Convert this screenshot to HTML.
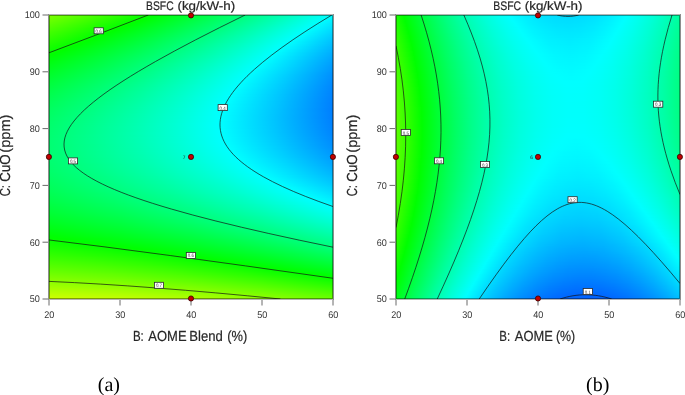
<!DOCTYPE html>
<html><head><meta charset="utf-8"><title>BSFC contour plots</title><style>
html,body{margin:0;padding:0;background:#fff}
body{width:685px;height:395px;position:relative;overflow:hidden}
.fd{position:absolute}
i{display:block;height:1px}
svg{position:absolute;left:0;top:0;filter:blur(0.35px)}
text{font-family:"Liberation Sans",Arial,sans-serif;text-rendering:geometricPrecision}
.ct path{fill:none;stroke:#141414;stroke-width:1.0px;stroke-opacity:0.7}
.fri{fill:none;stroke:rgba(0,0,0,0.38);stroke-width:1px}
.froh{fill:none;stroke:#b4b4b4;stroke-width:1px}
.frov{fill:none;stroke:#8e8e8e;stroke-width:1px}
.tkl{stroke:#6a6a6a;stroke-width:1px}
.tk{font-size:9.7px;fill:#333}
.lbb{fill:#fff;stroke:#2a2a2a;stroke-width:0.8px}
.lb{font-size:4.9px;fill:#3a3a3a}
.dt{fill:#c20000;stroke:#3a0000;stroke-width:0.8px}
.ax{fill:#262626;stroke:#262626;stroke-width:0.2px}
.cap{font-family:"Liberation Serif","Times New Roman",serif;fill:#000}
</style></head><body>
<div class="fd" style="left:49px;top:15px;width:284px;height:284px">
<i style="background:linear-gradient(90deg,#7bff00 0.2%,#40ff00 18.1%,#00ff00 36.4%,#00ff31 49.8%,#00ff6d 65.0%,#00ffb3 81.9%,#00fffe 99.1%,#00fcff 99.8%)"></i>
<i style="background:linear-gradient(90deg,#77ff00 0.2%,#3fff00 17.4%,#00ff00 35.7%,#00ff3a 51.2%,#00ff78 67.1%,#00ffba 82.9%,#00fffe 98.4%,#00faff 99.8%)"></i>
<i style="background:linear-gradient(90deg,#74ff00 0.2%,#3cff00 17.4%,#00ff00 34.7%,#00ff38 49.8%,#00ff77 66.0%,#00ffb8 81.9%,#00ffff 98.1%,#00f7ff 99.8%)"></i>
<i style="background:linear-gradient(90deg,#70ff00 0.2%,#3dff00 16.0%,#00ff00 34.0%,#00ff3b 49.8%,#00ff78 65.7%,#00ffba 81.5%,#00fffe 97.4%,#00f5ff 99.8%)"></i>
<i style="background:linear-gradient(90deg,#6dff00 0.2%,#38ff00 16.7%,#00ff00 32.9%,#00ff3a 48.8%,#00ff77 64.6%,#00ffb8 80.5%,#00fffe 96.7%,#00f2ff 99.8%)"></i>
<i style="background:linear-gradient(90deg,#69ff00 0.2%,#3aff00 15.0%,#00ff01 32.2%,#00ff3b 48.4%,#00ff79 64.3%,#00ffbb 80.5%,#00ffff 96.3%,#00f0ff 99.8%)"></i>
<i style="background:linear-gradient(90deg,#66ff00 0.2%,#36ff00 15.3%,#00ff00 31.2%,#00ff3b 47.4%,#00ff79 63.6%,#00ffba 79.8%,#00fffe 95.6%,#00edff 99.8%)"></i>
<i style="background:linear-gradient(90deg,#62ff00 0.2%,#38ff00 13.6%,#00ff01 30.5%,#00ff3b 46.7%,#00ff79 62.9%,#00ffb9 78.7%,#00ffff 95.2%,#00ebff 99.8%)"></i>
<i style="background:linear-gradient(90deg,#5fff00 0.2%,#32ff00 14.3%,#00ff00 29.4%,#00ff3a 45.6%,#00ff77 61.8%,#00ffb8 78.0%,#00fffe 94.5%,#00e8ff 99.8%)"></i>
<i style="background:linear-gradient(90deg,#5bff00 0.2%,#2fff00 14.3%,#00ff00 28.3%,#00ff36 43.8%,#00ff76 60.7%,#00ffb8 77.3%,#00fffe 93.8%,#00e6ff 99.8%)"></i>
<i style="background:linear-gradient(90deg,#58ff00 0.2%,#00ff00 27.6%,#00ff39 43.8%,#00ff77 60.4%,#00ffb9 76.9%,#00ffff 93.5%,#00e4ff 99.8%)"></i>
<i style="background:linear-gradient(90deg,#55ff00 0.2%,#2cff00 13.2%,#00ff00 26.6%,#00ff38 42.8%,#00ff77 59.7%,#00ffb9 76.2%,#00fffe 92.8%,#00e1ff 99.8%)"></i>
<i style="background:linear-gradient(90deg,#51ff00 0.2%,#00ff01 25.9%,#00ff3a 42.4%,#00ff77 59.0%,#00ffb9 75.5%,#00ffff 92.4%,#00dfff 99.8%)"></i>
<i style="background:linear-gradient(90deg,#4eff00 0.2%,#00ff00 24.8%,#00ff3a 41.7%,#00ff77 58.3%,#00ffba 75.2%,#00fffe 91.7%,#00ddff 99.8%)"></i>
<i style="background:linear-gradient(90deg,#4bff00 0.2%,#00ff01 24.1%,#00ff39 40.7%,#00ff77 57.6%,#00ffb8 74.1%,#00fffe 91.0%,#00ffff 91.4%,#00daff 99.8%)"></i>
<i style="background:linear-gradient(90deg,#48ff00 0.2%,#00ff00 23.1%,#00ff3a 40.0%,#00ff77 56.9%,#00ffb9 73.8%,#00ffff 90.7%,#00d8ff 99.8%)"></i>
<i style="background:linear-gradient(90deg,#44ff00 0.2%,#00ff01 22.4%,#00ff3a 39.3%,#00ff77 56.2%,#00ffb9 73.1%,#00fffe 90.0%,#00d6ff 99.8%)"></i>
<i style="background:linear-gradient(90deg,#41ff00 0.2%,#00ff00 21.3%,#00ff39 38.2%,#00ff77 55.5%,#00ffba 72.7%,#00ffff 89.6%,#00d4ff 99.8%)"></i>
<i style="background:linear-gradient(90deg,#3eff00 0.2%,#00ff00 20.2%,#00ff38 37.1%,#00ff76 54.4%,#00ffb8 71.7%,#00fffe 88.9%,#00d2ff 99.8%)"></i>
<i style="background:linear-gradient(90deg,#3bff00 0.2%,#00ff01 19.5%,#00ff3a 36.8%,#00ff77 54.0%,#00ffb9 71.3%,#00ffff 88.6%,#00cfff 99.8%)"></i>
<i style="background:linear-gradient(90deg,#38ff00 0.2%,#00ff00 18.5%,#00ff39 35.7%,#00ff76 53.0%,#00ffb9 70.6%,#00fffe 87.9%,#00cdff 99.8%)"></i>
<i style="background:linear-gradient(90deg,#35ff00 0.2%,#00ff01 17.8%,#00ff3a 35.4%,#00ff77 52.6%,#00ffba 70.2%,#00ffff 87.5%,#00cbff 99.8%)"></i>
<i style="background:linear-gradient(90deg,#32ff00 0.2%,#00ff00 16.7%,#00ff3a 34.3%,#00ff77 51.9%,#00ffb8 69.2%,#00fffe 86.8%,#00c9ff 99.8%)"></i>
<i style="background:linear-gradient(90deg,#2fff00 0.2%,#00ff01 16.0%,#00ff3a 33.6%,#00ff77 51.2%,#00ffb9 68.8%,#00ffff 86.4%,#00c7ff 99.8%)"></i>
<i style="background:linear-gradient(90deg,#2cff00 0.2%,#00ff00 15.0%,#00ff39 32.6%,#00ff76 50.2%,#00ffb8 68.1%,#00fffe 85.7%,#00c5ff 99.8%)"></i>
<i style="background:linear-gradient(90deg,#29ff00 0.2%,#00ff00 13.9%,#00ff38 31.5%,#00ff76 49.5%,#00ffb8 67.4%,#00ffff 85.4%,#00c3ff 99.8%)"></i>
<i style="background:linear-gradient(90deg,#26ff00 0.2%,#00ff01 13.2%,#00ff3a 31.2%,#00ff77 49.1%,#00ffb9 67.1%,#00fffe 84.7%,#00c1ff 99.8%)"></i>
<i style="background:linear-gradient(90deg,#23ff00 0.2%,#00ff01 12.5%,#00ff3a 30.5%,#00ff77 48.4%,#00ffb8 66.4%,#00fffe 84.3%,#00bfff 99.8%)"></i>
<i style="background:linear-gradient(90deg,#20ff00 0.2%,#00ff00 11.1%,#00ff0a 14.6%,#00ff41 31.9%,#00ff7c 49.1%,#00ffbb 66.4%,#00ffff 84.0%,#00beff 99.8%)"></i>
<i style="background:linear-gradient(90deg,#1dff00 0.2%,#00ff00 10.4%,#00ff12 16.4%,#00ff48 33.3%,#00ff81 49.8%,#00ffbd 66.4%,#00fffe 83.3%,#00bcff 99.8%)"></i>
<i style="background:linear-gradient(90deg,#1aff00 0.2%,#00ff00 9.3%,#00ff1c 18.5%,#00ff4f 34.7%,#00ff87 50.9%,#00ffc2 67.1%,#00ffff 82.9%,#00baff 99.8%)"></i>
<i style="background:linear-gradient(90deg,#18ff00 0.2%,#00ff01 8.6%,#00ff25 20.6%,#00ff55 35.7%,#00ff8a 51.2%,#00ffc2 66.7%,#00fffe 82.2%,#00b8ff 99.8%)"></i>
<i style="background:linear-gradient(90deg,#15ff00 0.2%,#00ff00 7.6%,#00ff2e 22.7%,#00ff5d 37.5%,#00ff90 52.3%,#00ffc6 67.1%,#00ffff 81.9%,#00b6ff 99.8%)"></i>
<i style="background:linear-gradient(90deg,#12ff00 0.2%,#00ff00 6.5%,#00ff37 24.8%,#00ff64 38.9%,#00ff95 53.0%,#00ffc8 67.1%,#00ffff 81.5%,#00b5ff 99.8%)"></i>
<i style="background:linear-gradient(90deg,#10ff00 0.2%,#00ff00 5.8%,#00ff3f 26.6%,#00ff6a 40.0%,#00ff99 53.7%,#00ffcb 67.4%,#00fffe 80.8%,#00b3ff 99.8%)"></i>
<i style="background:linear-gradient(90deg,#0dff00 0.2%,#00ff00 4.8%,#00ff48 28.7%,#00ff9e 54.4%,#00ffff 80.5%,#00b1ff 99.8%)"></i>
<i style="background:linear-gradient(90deg,#0aff00 0.2%,#00ff01 4.0%,#00ff28 17.4%,#00ff51 30.8%,#00ffa3 55.1%,#00ffff 80.1%,#00b0ff 99.8%)"></i>
<i style="background:linear-gradient(90deg,#08ff00 0.2%,#00ff00 3.0%,#00ff2b 17.8%,#00ff5a 32.9%,#00ffa8 56.2%,#00fffe 79.4%,#00aeff 99.8%)"></i>
<i style="background:linear-gradient(90deg,#05ff00 0.2%,#00ff00 1.9%,#00ff0f 7.2%,#00ff37 21.0%,#00ff63 35.0%,#00ffae 57.2%,#00ffff 79.0%,#00acff 99.8%)"></i>
<i style="background:linear-gradient(90deg,#02ff00 0.2%,#00ff00 1.2%,#00ff24 13.9%,#00ff6c 37.1%,#00ffb1 57.6%,#00ffff 78.7%,#00abff 99.8%)"></i>
<i style="background:linear-gradient(90deg,#00ff00 0.2%,#00ff37 19.5%,#00ff74 38.9%,#00ffb6 58.3%,#00fffe 78.0%,#00dfff 86.4%,#00a9ff 99.8%)"></i>
<i style="background:linear-gradient(90deg,#00ff03 0.2%,#00ff3a 19.5%,#00ff76 38.9%,#00ffb8 58.3%,#00ffff 77.6%,#00a8ff 99.8%)"></i>
<i style="background:linear-gradient(90deg,#00ff05 0.2%,#00ff3c 19.5%,#00ff78 38.9%,#00ffb8 57.9%,#00ffff 77.3%,#00a6ff 99.8%)"></i>
<i style="background:linear-gradient(90deg,#00ff08 0.2%,#00ff3d 19.2%,#00ff78 38.2%,#00ffb8 57.2%,#00fffe 76.6%,#00e0ff 85.0%,#00a5ff 99.8%)"></i>
<i style="background:linear-gradient(90deg,#00ff0a 0.2%,#00ff3f 19.2%,#00ff7a 38.2%,#00ffba 57.2%,#00fffe 76.2%,#00daff 86.1%,#00a3ff 99.8%)"></i>
<i style="background:linear-gradient(90deg,#00ff0c 0.2%,#00ff41 18.8%,#00ff7b 37.9%,#00ffba 56.9%,#00ffff 75.9%,#00a2ff 99.8%)"></i>
<i style="background:linear-gradient(90deg,#00ff0f 0.2%,#00ff43 18.8%,#00ff7d 37.9%,#00ffbc 56.9%,#00ffff 75.5%,#00a1ff 99.8%)"></i>
<i style="background:linear-gradient(90deg,#00ff11 0.2%,#00ff45 18.8%,#00ff7e 37.5%,#00ffba 55.8%,#00ffff 75.2%,#009fff 99.8%)"></i>
<i style="background:linear-gradient(90deg,#00ff13 0.2%,#00ff46 18.5%,#00ff7f 37.1%,#00ffbc 55.8%,#00fffe 74.5%,#00d8ff 85.0%,#009eff 99.8%)"></i>
<i style="background:linear-gradient(90deg,#00ff16 0.2%,#00ff49 18.8%,#00ff81 37.1%,#00ffbe 55.8%,#00fffe 74.1%,#00d5ff 85.4%,#009dff 99.8%)"></i>
<i style="background:linear-gradient(90deg,#00ff18 0.2%,#00ff4a 18.5%,#00ff82 37.1%,#00ffbe 55.5%,#00ffff 73.8%,#00d1ff 86.1%,#009bff 99.8%)"></i>
<i style="background:linear-gradient(90deg,#00ff1a 0.2%,#00ff4c 18.5%,#00ff83 36.8%,#00ffbf 55.1%,#00ffff 73.4%,#00cfff 86.4%,#009aff 99.8%)"></i>
<i style="background:linear-gradient(90deg,#00ff1c 0.2%,#00ff4e 18.5%,#00ff84 36.4%,#00ffbe 54.4%,#00ffff 73.1%,#00cdff 86.4%,#0099ff 99.8%)"></i>
<i style="background:linear-gradient(90deg,#00ff1e 0.2%,#00ff4f 18.1%,#00ff85 36.1%,#00ffbd 53.7%,#00ffff 72.7%,#00cdff 86.1%,#0098ff 99.8%)"></i>
<i style="background:linear-gradient(90deg,#00ff21 0.2%,#00ff51 18.1%,#00ff86 36.1%,#00ffc0 54.0%,#00fffe 72.0%,#00d4ff 84.0%,#0097ff 99.8%)"></i>
<i style="background:linear-gradient(90deg,#00ff23 0.2%,#00ff53 18.1%,#00ff88 36.1%,#00ffc0 53.7%,#00fffe 71.7%,#00d3ff 84.0%,#0096ff 99.8%)"></i>
<i style="background:linear-gradient(90deg,#00ff25 0.2%,#00ff54 17.8%,#00ff89 35.7%,#00ffc1 53.3%,#00fffe 71.3%,#00d0ff 84.3%,#0095ff 99.8%)"></i>
<i style="background:linear-gradient(90deg,#00ff27 0.2%,#00ff56 17.8%,#00ff8b 35.7%,#00ffc2 53.3%,#00ffff 71.0%,#00cfff 84.3%,#0093ff 99.8%)"></i>
<i style="background:linear-gradient(90deg,#00ff29 0.2%,#00ff58 17.8%,#00ff8b 35.4%,#00ffc3 53.0%,#00ffff 70.6%,#00ceff 84.3%,#0092ff 99.8%)"></i>
<i style="background:linear-gradient(90deg,#00ff2b 0.2%,#00ff5a 17.8%,#00ff8c 35.0%,#00ffc3 52.6%,#00ffff 70.2%,#00ccff 84.3%,#0091ff 99.8%)"></i>
<i style="background:linear-gradient(90deg,#00ff2d 0.2%,#00ff5b 17.4%,#00ff8d 35.0%,#00ffc3 52.3%,#00ffff 69.9%,#00cbff 84.3%,#0090ff 99.8%)"></i>
<i style="background:linear-gradient(90deg,#00ff2f 0.2%,#00ff5d 17.8%,#00ff8f 35.0%,#00ffc5 52.3%,#00ffff 69.5%,#00caff 84.3%,#008fff 99.8%)"></i>
<i style="background:linear-gradient(90deg,#00ff31 0.2%,#00ff5e 17.4%,#00ff8f 34.7%,#00ffc5 51.9%,#00ffff 69.2%,#00caff 84.0%,#008fff 99.8%)"></i>
<i style="background:linear-gradient(90deg,#00ff33 0.2%,#00ff5f 17.1%,#00ff90 34.3%,#00ffc5 51.6%,#00ffff 68.8%,#00c9ff 84.0%,#008eff 99.8%)"></i>
<i style="background:linear-gradient(90deg,#00ff35 0.2%,#00ff61 17.1%,#00ff92 34.3%,#00ffc6 51.2%,#00ffff 68.5%,#00caff 83.6%,#008dff 99.8%)"></i>
<i style="background:linear-gradient(90deg,#00ff36 0.2%,#00ff62 17.1%,#00ff92 34.0%,#00ffc6 50.9%,#00ffff 68.1%,#00caff 83.3%,#008cff 99.8%)"></i>
<i style="background:linear-gradient(90deg,#00ff38 0.2%,#00ff64 17.1%,#00ff93 34.0%,#00ffc7 50.9%,#00ffff 67.8%,#00caff 82.9%,#008bff 99.8%)"></i>
<i style="background:linear-gradient(90deg,#00ff3a 0.2%,#00ff64 16.7%,#00ff94 33.6%,#00ffc7 50.5%,#00ffff 67.4%,#00cbff 82.6%,#008aff 99.8%)"></i>
<i style="background:linear-gradient(90deg,#00ff3c 0.2%,#00ff66 16.7%,#00ff95 33.6%,#00ffc7 50.2%,#00fffe 67.1%,#00cbff 82.2%,#008aff 99.8%)"></i>
<i style="background:linear-gradient(90deg,#00ff3d 0.2%,#00ff68 16.7%,#00ff96 33.3%,#00ffc9 50.2%,#00fffe 66.7%,#00cbff 81.9%,#0089ff 99.8%)"></i>
<i style="background:linear-gradient(90deg,#00ff3f 0.2%,#00ff69 16.7%,#00ff96 32.9%,#00ffc7 49.1%,#00ffff 66.7%,#00c5ff 83.3%,#0088ff 99.8%)"></i>
<i style="background:linear-gradient(90deg,#00ff41 0.2%,#00ff6b 16.7%,#00ff97 32.9%,#00ffc8 49.1%,#00ffff 66.4%,#00c6ff 82.9%,#0087ff 99.8%)"></i>
<i style="background:linear-gradient(90deg,#00ff42 0.2%,#00ff6c 16.7%,#00ff99 32.9%,#00ffca 49.5%,#00ffff 66.0%,#00c5ff 82.9%,#0087ff 99.8%)"></i>
<i style="background:linear-gradient(90deg,#00ff44 0.2%,#00ff6e 16.7%,#00ff9a 32.9%,#00ffca 49.1%,#00ffff 65.7%,#00c7ff 82.2%,#0086ff 99.8%)"></i>
<i style="background:linear-gradient(90deg,#00ff46 0.2%,#00ff6e 16.4%,#00ff9a 32.6%,#00ffcb 49.1%,#00ffff 65.3%,#00c8ff 81.5%,#0086ff 99.8%)"></i>
<i style="background:linear-gradient(90deg,#00ff47 0.2%,#00ff70 16.4%,#00ff9b 32.6%,#00ffcb 48.8%,#00fffe 65.0%,#00c9ff 81.2%,#0085ff 99.8%)"></i>
<i style="background:linear-gradient(90deg,#00ff49 0.2%,#00ff70 16.0%,#00ff9c 32.2%,#00ffca 48.1%,#00ffff 65.0%,#00c3ff 82.6%,#0084ff 99.8%)"></i>
<i style="background:linear-gradient(90deg,#00ff4a 0.2%,#00ff72 16.4%,#00ff9e 32.6%,#00ffcc 48.4%,#00ffff 64.6%,#00c4ff 82.2%,#0084ff 99.8%)"></i>
<i style="background:linear-gradient(90deg,#00ff4c 0.2%,#00ff74 16.4%,#00ff9e 32.2%,#00ffcd 48.4%,#00ffff 64.3%,#00c7ff 81.2%,#0083ff 99.8%)"></i>
<i style="background:linear-gradient(90deg,#00ff4d 0.2%,#00ff74 16.0%,#00ff9f 32.2%,#00ffcd 48.1%,#00fffe 63.9%,#00c8ff 80.5%,#0083ff 99.8%)"></i>
<i style="background:linear-gradient(90deg,#00ff4f 0.2%,#00ff75 16.0%,#00ff9f 31.9%,#00ffcd 47.7%,#00ffff 63.9%,#00c3ff 81.9%,#0083ff 99.8%)"></i>
<i style="background:linear-gradient(90deg,#00ff50 0.2%,#00ff76 16.0%,#00ffa0 31.9%,#00ffce 47.7%,#00ffff 63.6%,#00c5ff 81.2%,#0082ff 99.8%)"></i>
<i style="background:linear-gradient(90deg,#00ff51 0.2%,#00ff77 15.7%,#00ffa0 31.5%,#00ffce 47.4%,#00fffe 63.2%,#00c8ff 80.1%,#0082ff 99.8%)"></i>
<i style="background:linear-gradient(90deg,#00ff53 0.2%,#00ff78 15.7%,#00ffa1 31.5%,#00ffcf 47.4%,#00ffff 63.2%,#00c3ff 81.5%,#0081ff 99.8%)"></i>
<i style="background:linear-gradient(90deg,#00ff54 0.2%,#00ff7a 16.0%,#00ffa2 31.5%,#00ffcf 47.4%,#00ffff 62.9%,#00c6ff 80.5%,#0081ff 99.8%)"></i>
<i style="background:linear-gradient(90deg,#00ff55 0.2%,#00ff7a 15.7%,#00ffa2 31.2%,#00ffcd 46.3%,#00ffff 62.9%,#00c2ff 81.5%,#0081ff 99.8%)"></i>
<i style="background:linear-gradient(90deg,#00ff57 0.2%,#00ff7b 15.7%,#00ffa4 31.5%,#00ffd0 47.0%,#00ffff 62.5%,#00c3ff 80.8%,#0081ff 99.8%)"></i>
<i style="background:linear-gradient(90deg,#00ff58 0.2%,#00ff7c 15.3%,#00ffa3 30.8%,#00ffcd 45.6%,#00ffff 62.5%,#00c2ff 81.2%,#0080ff 99.8%)"></i>
<i style="background:linear-gradient(90deg,#00ff59 0.2%,#00ff7d 15.7%,#00ffa5 31.2%,#00ffd0 46.7%,#00ffff 62.1%,#00c3ff 80.8%,#0080ff 99.8%)"></i>
<i style="background:linear-gradient(90deg,#00ff5a 0.2%,#00ff7e 15.7%,#00ffa6 31.2%,#00ffd0 46.3%,#00fffe 61.8%,#00c6ff 79.8%,#0080ff 99.8%)"></i>
<i style="background:linear-gradient(90deg,#00ff5b 0.2%,#00ff7f 15.7%,#00ffa7 31.2%,#00ffd1 46.3%,#00ffff 61.8%,#00c3ff 80.5%,#0080ff 99.8%)"></i>
<i style="background:linear-gradient(90deg,#00ff5c 0.2%,#00ff80 15.3%,#00ffa6 30.5%,#00ffce 45.2%,#00ffff 61.8%,#00c2ff 80.8%,#0080ff 99.8%)"></i>
<i style="background:linear-gradient(90deg,#00ff5e 0.2%,#00ff81 15.7%,#00ffa8 30.8%,#00ffd2 46.3%,#00ffff 61.4%,#00c4ff 80.1%,#0080ff 99.8%)"></i>
<i style="background:linear-gradient(90deg,#00ff5f 0.2%,#00ff81 15.3%,#00ffa7 30.5%,#00ffd0 45.2%,#00ffff 61.4%,#00c2ff 80.5%,#007fff 99.8%)"></i>
<i style="background:linear-gradient(90deg,#00ff60 0.2%,#00ff82 15.3%,#00ffa8 30.5%,#00ffd1 45.6%,#00ffff 61.1%,#00c4ff 79.8%,#007fff 99.8%)"></i>
<i style="background:linear-gradient(90deg,#00ff61 0.2%,#00ff83 15.3%,#00ffa9 30.5%,#00ffd3 46.0%,#00ffff 61.1%,#00c2ff 80.5%,#007fff 99.8%)"></i>
<i style="background:linear-gradient(90deg,#00ff62 0.2%,#00ff83 15.0%,#00ffa9 30.1%,#00ffd0 44.9%,#00ffff 61.1%,#00c2ff 80.5%,#007fff 99.8%)"></i>
<i style="background:linear-gradient(90deg,#00ff63 0.2%,#00ff85 15.3%,#00ffaa 30.5%,#00ffd3 45.6%,#00ffff 60.7%,#00c4ff 79.8%,#0080ff 99.8%)"></i>
<i style="background:linear-gradient(90deg,#00ff63 0.2%,#00ff86 15.3%,#00ffab 30.5%,#00ffd3 45.6%,#00ffff 60.7%,#00c3ff 80.1%,#0080ff 99.8%)"></i>
<i style="background:linear-gradient(90deg,#00ff64 0.2%,#00ff85 15.0%,#00ffab 30.1%,#00ffd2 44.9%,#00ffff 60.7%,#00c1ff 80.5%,#0080ff 99.8%)"></i>
<i style="background:linear-gradient(90deg,#00ff65 0.2%,#00ff87 15.3%,#00ffac 30.5%,#00ffd4 45.6%,#00fffe 60.4%,#00c6ff 79.0%,#0080ff 99.8%)"></i>
<i style="background:linear-gradient(90deg,#00ff66 0.2%,#00ff87 15.0%,#00ffac 30.1%,#00ffd4 45.2%,#00ffff 60.4%,#00c3ff 79.8%,#0080ff 99.8%)"></i>
<i style="background:linear-gradient(90deg,#00ff67 0.2%,#00ff88 15.0%,#00ffac 30.1%,#00ffd4 45.2%,#00ffff 60.4%,#00c2ff 80.1%,#0080ff 99.8%)"></i>
<i style="background:linear-gradient(90deg,#00ff68 0.2%,#00ff89 15.3%,#00ffad 30.1%,#00ffd3 44.9%,#00ffff 60.4%,#00c2ff 80.1%,#0080ff 99.8%)"></i>
<i style="background:linear-gradient(90deg,#00ff68 0.2%,#00ff89 15.0%,#00ffad 30.1%,#00ffd3 44.5%,#00ffff 60.4%,#00c2ff 80.1%,#0081ff 99.8%)"></i>
<i style="background:linear-gradient(90deg,#00ff69 0.2%,#00ff89 15.0%,#00ffad 29.8%,#00ffd2 44.2%,#00ffff 60.4%,#00c2ff 80.1%,#0081ff 99.8%)"></i>
<i style="background:linear-gradient(90deg,#00ff6a 0.2%,#00ff8a 15.0%,#00ffae 30.1%,#00ffd4 44.9%,#00fffe 60.0%,#00c6ff 79.0%,#0081ff 99.8%)"></i>
<i style="background:linear-gradient(90deg,#00ff6b 0.2%,#00ff8a 15.0%,#00ffae 30.1%,#00ffd4 44.9%,#00ffff 60.0%,#00c6ff 79.0%,#0081ff 99.8%)"></i>
<i style="background:linear-gradient(90deg,#00ff6b 0.2%,#00ff8c 15.3%,#00ffaf 30.1%,#00ffd5 44.9%,#00ffff 60.0%,#00c5ff 79.4%,#0082ff 99.8%)"></i>
<i style="background:linear-gradient(90deg,#00ff6c 0.2%,#00ff8b 15.0%,#00ffaf 30.1%,#00ffd5 44.9%,#00ffff 60.0%,#00c5ff 79.4%,#0082ff 99.8%)"></i>
<i style="background:linear-gradient(90deg,#00ff6c 0.2%,#00ff8c 15.0%,#00ffaf 30.1%,#00ffd5 44.9%,#00ffff 60.0%,#00c5ff 79.4%,#0083ff 99.8%)"></i>
<i style="background:linear-gradient(90deg,#00ff6d 0.2%,#00ff8d 15.3%,#00ffb0 30.1%,#00ffd5 44.9%,#00ffff 60.0%,#00c7ff 79.0%,#0083ff 99.8%)"></i>
<i style="background:linear-gradient(90deg,#00ff6d 0.2%,#00ff8d 15.0%,#00ffb0 30.1%,#00ffd5 44.9%,#00ffff 60.0%,#00c7ff 79.0%,#0083ff 99.8%)"></i>
<i style="background:linear-gradient(90deg,#00ff6e 0.2%,#00ff8d 15.0%,#00ffb0 30.1%,#00ffd5 44.9%,#00fffe 60.0%,#00c7ff 79.0%,#0084ff 99.8%)"></i>
<i style="background:linear-gradient(90deg,#00ff6e 0.2%,#00ff8d 15.0%,#00ffaf 29.8%,#00ffd3 44.2%,#00ffff 60.4%,#00c4ff 80.1%,#0084ff 99.8%)"></i>
<i style="background:linear-gradient(90deg,#00ff6f 0.2%,#00ff8e 15.0%,#00ffb0 30.1%,#00ffd5 44.9%,#00ffff 60.4%,#00c5ff 80.1%,#0085ff 99.8%)"></i>
<i style="background:linear-gradient(90deg,#00ff6f 0.2%,#00ff8e 15.0%,#00ffb0 30.1%,#00ffd6 45.2%,#00ffff 60.4%,#00c5ff 80.1%,#0086ff 99.8%)"></i>
<i style="background:linear-gradient(90deg,#00ff70 0.2%,#00ff8e 15.0%,#00ffb1 30.1%,#00ffd6 45.2%,#00ffff 60.4%,#00c6ff 79.8%,#0086ff 99.8%)"></i>
<i style="background:linear-gradient(90deg,#00ff70 0.2%,#00ff8e 15.0%,#00ffb1 30.1%,#00ffd6 45.2%,#00ffff 60.4%,#00c8ff 79.4%,#0087ff 99.8%)"></i>
<i style="background:linear-gradient(90deg,#00ff70 0.2%,#00ff8f 15.0%,#00ffb1 30.1%,#00ffd5 44.9%,#00ffff 60.7%,#00c5ff 80.5%,#0087ff 99.8%)"></i>
<i style="background:linear-gradient(90deg,#00ff71 0.2%,#00ff90 15.3%,#00ffb1 30.5%,#00ffd7 45.6%,#00ffff 60.7%,#00c7ff 80.1%,#0088ff 99.8%)"></i>
<i style="background:linear-gradient(90deg,#00ff71 0.2%,#00ff90 15.3%,#00ffb1 30.5%,#00ffd6 45.6%,#00ffff 60.7%,#00c8ff 79.8%,#0089ff 99.8%)"></i>
<i style="background:linear-gradient(90deg,#00ff71 0.2%,#00ff8f 15.0%,#00ffb1 30.1%,#00ffd5 44.9%,#00ffff 61.1%,#00c7ff 80.5%,#008aff 99.8%)"></i>
<i style="background:linear-gradient(90deg,#00ff72 0.2%,#00ff91 15.7%,#00ffb2 30.8%,#00ffd7 46.0%,#00ffff 61.1%,#00c7ff 80.5%,#008aff 99.8%)"></i>
<i style="background:linear-gradient(90deg,#00ff72 0.2%,#00ff90 15.3%,#00ffb1 30.5%,#00ffd7 46.0%,#00ffff 61.1%,#00cbff 79.4%,#008bff 99.8%)"></i>
<i style="background:linear-gradient(90deg,#00ff72 0.2%,#00ff91 15.7%,#00ffb2 30.8%,#00ffd6 46.0%,#00ffff 61.4%,#00c9ff 80.5%,#008cff 99.8%)"></i>
<i style="background:linear-gradient(90deg,#00ff72 0.2%,#00ff91 15.7%,#00ffb2 30.8%,#00ffd7 46.3%,#00ffff 61.4%,#00cbff 79.8%,#008dff 99.8%)"></i>
<i style="background:linear-gradient(90deg,#00ff72 0.2%,#00ff91 15.7%,#00ffb2 30.8%,#00ffd7 46.3%,#00ffff 61.8%,#00c9ff 80.8%,#008eff 99.8%)"></i>
<i style="background:linear-gradient(90deg,#00ff72 0.2%,#00ff91 15.7%,#00ffb1 30.8%,#00ffd6 46.3%,#00ffff 61.8%,#00cdff 79.8%,#008fff 99.8%)"></i>
<i style="background:linear-gradient(90deg,#00ff72 0.2%,#00ff90 15.7%,#00ffb2 31.2%,#00ffd7 46.7%,#00ffff 62.1%,#00caff 80.8%,#008fff 99.8%)"></i>
<i style="background:linear-gradient(90deg,#00ff72 0.2%,#00ff90 15.7%,#00ffb2 31.2%,#00ffd5 46.3%,#00ffff 62.5%,#00caff 81.2%,#0090ff 99.8%)"></i>
<i style="background:linear-gradient(90deg,#00ff72 0.2%,#00ff90 15.7%,#00ffb2 31.5%,#00ffd7 47.0%,#00ffff 62.5%,#00cdff 80.5%,#0091ff 99.8%)"></i>
<i style="background:linear-gradient(90deg,#00ff72 0.2%,#00ff90 15.7%,#00ffb2 31.5%,#00ffd7 47.4%,#00ffff 62.9%,#00ccff 81.2%,#0092ff 99.8%)"></i>
<i style="background:linear-gradient(90deg,#00ff72 0.2%,#00ff90 15.7%,#00ffb1 31.5%,#00ffd5 46.7%,#00ffff 63.2%,#00cbff 81.5%,#0093ff 99.8%)"></i>
<i style="background:linear-gradient(90deg,#00ff72 0.2%,#00ff90 15.7%,#00ffb1 31.5%,#00ffd6 47.4%,#00ffff 63.2%,#00cfff 80.5%,#0095ff 99.8%)"></i>
<i style="background:linear-gradient(90deg,#00ff72 0.2%,#00ff90 16.0%,#00ffb1 31.9%,#00ffd6 47.7%,#00ffff 63.6%,#00ceff 81.2%,#0096ff 99.8%)"></i>
<i style="background:linear-gradient(90deg,#00ff72 0.2%,#00ff90 16.4%,#00ffb2 32.2%,#00ffd7 48.1%,#00ffff 63.9%,#00cdff 81.9%,#0097ff 99.8%)"></i>
<i style="background:linear-gradient(90deg,#00ff72 0.2%,#00ff8f 16.0%,#00ffb1 32.2%,#00ffd6 48.1%,#00ffff 64.3%,#00ceff 81.9%,#0098ff 99.8%)"></i>
<i style="background:linear-gradient(90deg,#00ff72 0.2%,#00ff8f 16.0%,#00ffb1 32.2%,#00ffd5 48.1%,#00ffff 64.6%,#00ceff 82.2%,#0099ff 99.8%)"></i>
<i style="background:linear-gradient(90deg,#00ff71 0.2%,#00ff8f 16.0%,#00ffb0 32.2%,#00ffd5 48.1%,#00ffff 65.0%,#00cfff 82.2%,#009aff 99.8%)"></i>
<i style="background:linear-gradient(90deg,#00ff71 0.2%,#00ff8f 16.4%,#00ffb0 32.6%,#00ffd5 48.4%,#00ffff 65.3%,#00cfff 82.6%,#009cff 99.8%)"></i>
<i style="background:linear-gradient(90deg,#00ff71 0.2%,#00ff8f 16.4%,#00ffb0 32.6%,#00ffd4 48.4%,#00ffff 65.7%,#00d0ff 82.6%,#009dff 99.8%)"></i>
<i style="background:linear-gradient(90deg,#00ff71 0.2%,#00ff8f 16.7%,#00ffb0 32.9%,#00ffd4 48.8%,#00ffff 66.0%,#00d0ff 82.9%,#009eff 99.8%)"></i>
<i style="background:linear-gradient(90deg,#00ff70 0.2%,#00ff8e 16.7%,#00ffaf 32.9%,#00ffd4 49.1%,#00ffff 66.4%,#00d1ff 83.3%,#009fff 99.8%)"></i>
<i style="background:linear-gradient(90deg,#00ff70 0.2%,#00ff8e 16.7%,#00ffaf 33.3%,#00ffd5 49.8%,#00ffff 66.7%,#00d2ff 83.3%,#00a1ff 99.8%)"></i>
<i style="background:linear-gradient(90deg,#00ff70 0.2%,#00ff8d 16.7%,#00ffaf 33.6%,#00ffd5 50.2%,#00ffff 67.1%,#00d3ff 83.3%,#00a2ff 99.8%)"></i>
<i style="background:linear-gradient(90deg,#00ff6f 0.2%,#00ff8d 16.7%,#00ffaf 33.6%,#00ffd5 50.5%,#00ffff 67.4%,#00d4ff 83.3%,#00a4ff 99.8%)"></i>
<i style="background:linear-gradient(90deg,#00ff6f 0.2%,#00ff8d 17.1%,#00ffaf 34.0%,#00ffd5 50.9%,#00ffff 67.8%,#00d6ff 82.9%,#00a5ff 99.8%)"></i>
<i style="background:linear-gradient(90deg,#00ff6e 0.2%,#00ff8c 17.1%,#00ffae 34.0%,#00ffd4 50.9%,#00fffe 68.1%,#00d9ff 82.6%,#00a6ff 99.8%)"></i>
<i style="background:linear-gradient(90deg,#00ff6e 0.2%,#00ff8b 17.1%,#00ffae 34.3%,#00ffd4 51.6%,#00ffff 68.8%,#00d5ff 84.3%,#00a8ff 99.8%)"></i>
<i style="background:linear-gradient(90deg,#00ff6d 0.2%,#00ff8b 17.4%,#00ffae 34.7%,#00ffd4 51.9%,#00ffff 69.2%,#00d7ff 84.0%,#00a9ff 99.8%)"></i>
<i style="background:linear-gradient(90deg,#00ff6d 0.2%,#00ff8b 17.4%,#00ffad 34.7%,#00ffd3 51.9%,#00fffe 69.5%,#00dbff 83.3%,#00abff 99.8%)"></i>
<i style="background:linear-gradient(90deg,#00ff6c 0.2%,#00ff8b 17.8%,#00ffad 35.0%,#00ffd4 52.6%,#00ffff 70.2%,#00d7ff 85.0%,#00adff 99.8%)"></i>
<i style="background:linear-gradient(90deg,#00ff6c 0.2%,#00ff8a 17.8%,#00ffac 35.4%,#00ffd3 53.0%,#00ffff 70.6%,#00dbff 84.3%,#00aeff 99.8%)"></i>
<i style="background:linear-gradient(90deg,#00ff6b 0.2%,#00ff89 17.8%,#00ffac 35.7%,#00ffd3 53.3%,#00ffff 71.3%,#00d9ff 85.4%,#00b0ff 99.8%)"></i>
<i style="background:linear-gradient(90deg,#00ff6a 0.2%,#00ff89 18.1%,#00ffab 35.7%,#00ffd3 53.7%,#00ffff 71.7%,#00ddff 84.7%,#00b1ff 99.8%)"></i>
<i style="background:linear-gradient(90deg,#00ff6a 0.2%,#00ff88 18.1%,#00ffab 36.1%,#00ffd2 54.0%,#00ffff 72.4%,#00daff 86.1%,#00b3ff 99.8%)"></i>
<i style="background:linear-gradient(90deg,#00ff69 0.2%,#00ff88 18.5%,#00ffab 36.4%,#00ffd3 54.8%,#00ffff 72.7%,#00dfff 85.0%,#00b5ff 99.8%)"></i>
<i style="background:linear-gradient(90deg,#00ff68 0.2%,#00ff87 18.5%,#00ffaa 36.8%,#00ffd2 55.1%,#00ffff 73.4%,#00ddff 86.1%,#00b6ff 99.8%)"></i>
<i style="background:linear-gradient(90deg,#00ff67 0.2%,#00ff86 18.5%,#00ffaa 37.1%,#00ffd2 55.5%,#00ffff 74.1%,#00b8ff 99.8%)"></i>
<i style="background:linear-gradient(90deg,#00ff67 0.2%,#00ff85 18.5%,#00ffa9 37.1%,#00ffd1 55.8%,#00ffff 74.5%,#00e2ff 85.7%,#00baff 99.8%)"></i>
<i style="background:linear-gradient(90deg,#00ff66 0.2%,#00ff84 18.8%,#00ffa8 37.5%,#00ffd1 56.2%,#00ffff 75.2%,#00bcff 99.8%)"></i>
<i style="background:linear-gradient(90deg,#00ff65 0.2%,#00ff84 19.2%,#00ffa8 37.9%,#00ffd1 56.9%,#00ffff 75.9%,#00beff 99.8%)"></i>
<i style="background:linear-gradient(90deg,#00ff64 0.2%,#00ff83 19.2%,#00ffa7 38.2%,#00ffd0 57.2%,#00ffff 76.6%,#00c0ff 99.8%)"></i>
<i style="background:linear-gradient(90deg,#00ff63 0.2%,#00ff82 19.2%,#00ffa6 38.6%,#00ffd0 57.9%,#00fffe 76.9%,#00e7ff 86.4%,#00c1ff 99.8%)"></i>
<i style="background:linear-gradient(90deg,#00ff62 0.2%,#00ff81 19.5%,#00ffa6 38.9%,#00ffd0 58.3%,#00fffe 77.6%,#00c3ff 99.8%)"></i>
<i style="background:linear-gradient(90deg,#00ff61 0.2%,#00ff81 19.9%,#00ffa5 39.3%,#00ffcf 58.6%,#00ffff 78.3%,#00c5ff 99.8%)"></i>
<i style="background:linear-gradient(90deg,#00ff60 0.2%,#00ff80 19.9%,#00ffa5 39.6%,#00ffcf 59.3%,#00ffff 79.0%,#00c7ff 99.8%)"></i>
<i style="background:linear-gradient(90deg,#00ff5f 0.2%,#00ff7f 20.2%,#00ffa4 40.0%,#00ffce 59.7%,#00ffff 79.8%,#00c9ff 99.8%)"></i>
<i style="background:linear-gradient(90deg,#00ff5e 0.2%,#00ff7e 20.2%,#00ffa3 40.3%,#00ffce 60.4%,#00ffff 80.5%,#00cbff 99.8%)"></i>
<i style="background:linear-gradient(90deg,#00ff5d 0.2%,#00ff7d 20.2%,#00ffa2 40.7%,#00ffcd 60.7%,#00fffe 81.2%,#00cdff 99.8%)"></i>
<i style="background:linear-gradient(90deg,#00ff5c 0.2%,#00ff7c 20.6%,#00ffa2 41.0%,#00ffcd 61.4%,#00fffe 81.9%,#00d0ff 99.8%)"></i>
<i style="background:linear-gradient(90deg,#00ff5b 0.2%,#00ff7b 20.6%,#00ffa1 41.4%,#00ffcd 62.1%,#00ffff 82.9%,#00d2ff 99.8%)"></i>
<i style="background:linear-gradient(90deg,#00ff5a 0.2%,#00ff7a 21.0%,#00ffa1 42.1%,#00ffcd 62.9%,#00ffff 83.6%,#00d4ff 99.8%)"></i>
<i style="background:linear-gradient(90deg,#00ff59 0.2%,#00ff79 21.3%,#00ff9f 42.1%,#00ffcc 63.2%,#00ffff 84.3%,#00d6ff 99.8%)"></i>
<i style="background:linear-gradient(90deg,#00ff57 0.2%,#00ff78 21.3%,#00ff9f 42.8%,#00ffcb 63.9%,#00fffe 85.0%,#00d8ff 99.8%)"></i>
<i style="background:linear-gradient(90deg,#00ff56 0.2%,#00ff77 21.7%,#00ff9e 43.1%,#00ffcb 64.6%,#00ffff 86.1%,#00daff 99.8%)"></i>
<i style="background:linear-gradient(90deg,#00ff55 0.2%,#00ff75 21.7%,#00ff9d 43.5%,#00ffcb 65.3%,#00ffff 86.8%,#00ddff 99.8%)"></i>
<i style="background:linear-gradient(90deg,#00ff53 0.2%,#00ff74 22.0%,#00ff9c 43.8%,#00ffca 65.7%,#00fffe 87.5%,#00dfff 99.8%)"></i>
<i style="background:linear-gradient(90deg,#00ff52 0.2%,#00ff73 22.4%,#00ff9b 44.5%,#00ffc9 66.4%,#00ffff 88.6%,#00e1ff 99.8%)"></i>
<i style="background:linear-gradient(90deg,#00ff51 0.2%,#00ff72 22.4%,#00ff99 44.5%,#00ffc9 67.1%,#00fffe 89.3%,#00e4ff 99.8%)"></i>
<i style="background:linear-gradient(90deg,#00ff4f 0.2%,#00ff71 22.7%,#00ff99 45.2%,#00ffc8 67.8%,#00ffff 90.3%,#00e6ff 99.8%)"></i>
<i style="background:linear-gradient(90deg,#00ff4e 0.2%,#00ff6f 22.7%,#00ff98 45.6%,#00ffc7 68.1%,#00fffe 91.0%,#00e8ff 99.8%)"></i>
<i style="background:linear-gradient(90deg,#00ff4d 0.2%,#00ff6e 23.1%,#00ff97 46.3%,#00ffc7 69.2%,#00ffff 92.1%,#00ebff 99.8%)"></i>
<i style="background:linear-gradient(90deg,#00ff4b 0.2%,#00ff6d 23.4%,#00ff95 46.3%,#00ffc6 69.5%,#00fffe 92.8%,#00edff 99.8%)"></i>
<i style="background:linear-gradient(90deg,#00ff4a 0.2%,#00ff6b 23.4%,#00ff95 47.0%,#00ffc5 70.2%,#00ffff 93.8%,#00f0ff 99.8%)"></i>
<i style="background:linear-gradient(90deg,#00ff48 0.2%,#00ff6a 23.8%,#00ff94 47.4%,#00ffc5 71.0%,#00ffff 94.9%,#00f2ff 99.8%)"></i>
<i style="background:linear-gradient(90deg,#00ff47 0.2%,#00ff65 21.7%,#00ff89 42.8%,#00ffa2 55.8%,#00ffbf 69.2%,#00ffde 82.6%,#00ffff 96.0%,#00f5ff 99.8%)"></i>
<i style="background:linear-gradient(90deg,#00ff45 0.2%,#00ff64 22.4%,#00ff8a 44.5%,#00ffc0 70.6%,#00fffe 96.7%,#00f7ff 99.8%)"></i>
<i style="background:linear-gradient(90deg,#00ff43 0.2%,#00ff64 23.4%,#00ff8b 46.3%,#00ffc0 72.0%,#00ffff 97.7%,#00faff 99.8%)"></i>
<i style="background:linear-gradient(90deg,#00ff42 0.2%,#00ff64 24.5%,#00ff8d 48.4%,#00ffbb 70.6%,#00ffdb 84.7%,#00ffff 98.8%,#00fdff 99.8%)"></i>
<i style="background:linear-gradient(90deg,#00ff40 0.2%,#00ff63 25.2%,#00ff8f 50.2%,#00ffc3 75.2%,#00ffff 99.8%)"></i>
<i style="background:linear-gradient(90deg,#00ff3e 0.2%,#00ff61 25.2%,#00ff8c 50.2%,#00ffc0 74.8%,#00fffc 99.8%)"></i>
<i style="background:linear-gradient(90deg,#00ff3d 0.2%,#00ff5f 25.2%,#00ff8a 50.2%,#00ffbd 74.8%,#00fff9 99.8%)"></i>
<i style="background:linear-gradient(90deg,#00ff3b 0.2%,#00ff5d 25.2%,#00ff88 50.2%,#00ffbb 74.8%,#00fff7 99.8%)"></i>
<i style="background:linear-gradient(90deg,#00ff39 0.2%,#00ff5b 25.2%,#00ff85 49.8%,#00ffb8 74.8%,#00fff4 99.8%)"></i>
<i style="background:linear-gradient(90deg,#00ff37 0.2%,#00ff59 25.2%,#00ff83 50.2%,#00ffb6 74.8%,#00fff1 99.8%)"></i>
<i style="background:linear-gradient(90deg,#00ff36 0.2%,#00ff57 25.2%,#00ff81 50.2%,#00ffb3 74.8%,#00ffee 99.8%)"></i>
<i style="background:linear-gradient(90deg,#00ff34 0.2%,#00ff54 24.8%,#00ff7e 49.8%,#00ffb0 74.8%,#00ffeb 99.8%)"></i>
<i style="background:linear-gradient(90deg,#00ff32 0.2%,#00ff53 25.2%,#00ff7c 50.2%,#00ffae 74.8%,#00ffe9 99.8%)"></i>
<i style="background:linear-gradient(90deg,#00ff30 0.2%,#00ff51 25.2%,#00ff7a 50.2%,#00ffab 74.8%,#00ffe6 99.8%)"></i>
<i style="background:linear-gradient(90deg,#00ff2e 0.2%,#00ff4e 24.8%,#00ff77 49.8%,#00ffa8 74.8%,#00ffe3 99.8%)"></i>
<i style="background:linear-gradient(90deg,#00ff2c 0.2%,#00ff4c 25.2%,#00ff75 50.2%,#00ffa6 75.2%,#00ffe0 99.8%)"></i>
<i style="background:linear-gradient(90deg,#00ff2a 0.2%,#00ff4a 25.2%,#00ff73 50.2%,#00ffa3 74.8%,#00ffdd 99.8%)"></i>
<i style="background:linear-gradient(90deg,#00ff28 0.2%,#00ff48 25.2%,#00ff6f 49.8%,#00ffa0 74.8%,#00ffda 99.8%)"></i>
<i style="background:linear-gradient(90deg,#00ff26 0.2%,#00ff45 25.2%,#00ff6d 50.2%,#00ff9e 75.2%,#00ffd7 99.8%)"></i>
<i style="background:linear-gradient(90deg,#00ff24 0.2%,#00ff43 25.2%,#00ff6b 50.2%,#00ff9b 74.8%,#00ffd4 99.8%)"></i>
<i style="background:linear-gradient(90deg,#00ff22 0.2%,#00ff41 25.2%,#00ff68 49.8%,#00ff98 74.8%,#00ffd1 99.8%)"></i>
<i style="background:linear-gradient(90deg,#00ff20 0.2%,#00ff3e 25.2%,#00ff66 50.2%,#00ff96 75.2%,#00ffcd 99.8%)"></i>
<i style="background:linear-gradient(90deg,#00ff1e 0.2%,#00ff3c 25.2%,#00ff63 50.2%,#00ff92 74.8%,#00ffca 99.8%)"></i>
<i style="background:linear-gradient(90deg,#00ff1b 0.2%,#00ff3a 25.2%,#00ff60 50.2%,#00ff8f 74.8%,#00ffc7 99.8%)"></i>
<i style="background:linear-gradient(90deg,#00ff19 0.2%,#00ff37 25.2%,#00ff5e 50.2%,#00ff8c 74.8%,#00ffc4 99.8%)"></i>
<i style="background:linear-gradient(90deg,#00ff17 0.2%,#00ff35 25.2%,#00ff5b 50.2%,#00ff89 74.8%,#00ffc1 99.8%)"></i>
<i style="background:linear-gradient(90deg,#00ff15 0.2%,#00ff32 25.2%,#00ff58 50.2%,#00ff87 75.2%,#00ffbd 99.8%)"></i>
<i style="background:linear-gradient(90deg,#00ff12 0.2%,#00ff30 25.2%,#00ff55 50.2%,#00ff83 74.8%,#00ffba 99.8%)"></i>
<i style="background:linear-gradient(90deg,#00ff10 0.2%,#00ff2d 25.2%,#00ff53 50.2%,#00ff80 74.8%,#00ffb7 99.8%)"></i>
<i style="background:linear-gradient(90deg,#00ff0e 0.2%,#00ff2a 25.2%,#00ff50 50.2%,#00ff7d 74.8%,#00ffb4 99.8%)"></i>
<i style="background:linear-gradient(90deg,#00ff0b 0.2%,#00ff28 25.2%,#00ff4d 50.2%,#00ff7a 74.8%,#00ffb0 99.8%)"></i>
<i style="background:linear-gradient(90deg,#00ff09 0.2%,#00ff25 25.2%,#00ff4a 50.2%,#00ff77 75.2%,#00ffad 99.8%)"></i>
<i style="background:linear-gradient(90deg,#00ff07 0.2%,#00ff22 25.2%,#00ff46 49.8%,#00ff74 74.8%,#00ffa9 99.8%)"></i>
<i style="background:linear-gradient(90deg,#00ff04 0.2%,#00ff20 25.2%,#00ff44 50.2%,#00ff70 74.8%,#00ffa6 99.8%)"></i>
<i style="background:linear-gradient(90deg,#00ff02 0.2%,#00ff1d 25.2%,#00ff41 50.2%,#00ff6d 74.8%,#00ffa2 99.8%)"></i>
<i style="background:linear-gradient(90deg,#01ff00 0.2%,#00ff08 9.0%,#00ff18 23.4%,#00ff3d 49.5%,#00ff69 74.5%,#00ff9f 99.8%)"></i>
<i style="background:linear-gradient(90deg,#03ff00 0.2%,#00ff00 4.0%,#00ff0f 18.5%,#00ff22 32.9%,#00ff37 47.4%,#00ff4d 60.7%,#00ff65 73.8%,#00ff9b 99.8%)"></i>
<i style="background:linear-gradient(90deg,#06ff00 0.2%,#00ff00 6.5%,#00ff07 13.2%,#00ff1a 29.4%,#00ff31 45.6%,#00ff46 59.0%,#00ff5f 72.7%,#00ff7b 86.4%,#00ff98 99.8%)"></i>
<i style="background:linear-gradient(90deg,#09ff00 0.2%,#00ff00 9.3%,#00ff14 26.6%,#00ff2b 43.8%,#00ff41 57.9%,#00ff5b 72.0%,#00ff76 86.1%,#00ff94 99.8%)"></i>
<i style="background:linear-gradient(90deg,#0bff00 0.2%,#00ff00 12.1%,#00ff11 26.9%,#00ff25 41.7%,#00ff3b 56.2%,#00ff55 70.6%,#00ff71 85.4%,#00ff91 99.8%)"></i>
<i style="background:linear-gradient(90deg,#0eff00 0.2%,#00ff00 14.6%,#00ff1f 40.0%,#00ff36 55.1%,#00ff50 69.9%,#00ff6d 85.0%,#00ff8d 99.8%)"></i>
<i style="background:linear-gradient(90deg,#11ff00 0.2%,#00ff00 17.4%,#00ff1a 38.2%,#00ff30 53.3%,#00ff4b 68.8%,#00ff68 84.3%,#00ff89 99.8%)"></i>
<i style="background:linear-gradient(90deg,#13ff00 0.2%,#00ff00 19.9%,#00ff14 36.1%,#00ff2b 51.9%,#00ff46 68.1%,#00ff64 84.0%,#00ff86 99.8%)"></i>
<i style="background:linear-gradient(90deg,#16ff00 0.2%,#00ff00 22.4%,#00ff0e 34.0%,#00ff25 50.5%,#00ff41 67.1%,#00ff60 83.6%,#00ff82 99.8%)"></i>
<i style="background:linear-gradient(90deg,#19ff00 0.2%,#00ff00 24.8%,#00ff09 32.2%,#00ff20 49.1%,#00ff3b 66.0%,#00ff5b 82.9%,#00ff7e 99.8%)"></i>
<i style="background:linear-gradient(90deg,#1cff00 0.2%,#0fff00 13.9%,#00ff00 27.6%,#00ff03 30.1%,#00ff1a 47.4%,#00ff36 65.0%,#00ff56 82.6%,#00ff7a 99.8%)"></i>
<i style="background:linear-gradient(90deg,#1eff00 0.2%,#11ff00 14.6%,#00ff00 30.5%,#00ff17 47.7%,#00ff33 65.3%,#00ff53 82.6%,#00ff77 99.8%)"></i>
<i style="background:linear-gradient(90deg,#21ff00 0.2%,#13ff00 16.4%,#00ff00 32.9%,#00ff17 49.8%,#00ff32 66.4%,#00ff50 82.9%,#00ff73 99.8%)"></i>
<i style="background:linear-gradient(90deg,#24ff00 0.2%,#14ff00 17.8%,#00ff00 35.4%,#00ff16 51.2%,#00ff30 67.4%,#00ff4e 83.6%,#00ff6f 99.8%)"></i>
<i style="background:linear-gradient(90deg,#27ff00 0.2%,#17ff00 18.5%,#00ff00 38.2%,#00ff16 53.7%,#00ff2f 68.8%,#00ff4b 84.3%,#00ff6b 99.8%)"></i>
<i style="background:linear-gradient(90deg,#2aff00 0.2%,#18ff00 19.9%,#00ff00 40.7%,#00ff15 55.5%,#00ff2e 70.2%,#00ff49 85.0%,#00ff67 99.8%)"></i>
<i style="background:linear-gradient(90deg,#2dff00 0.2%,#1aff00 21.3%,#00ff00 43.1%,#00ff15 57.2%,#00ff2c 71.3%,#00ff46 85.7%,#00ff63 99.8%)"></i>
<i style="background:linear-gradient(90deg,#30ff00 0.2%,#1cff00 22.7%,#00ff00 45.6%,#00ff14 59.3%,#00ff2a 72.7%,#00ff43 86.1%,#00ff5f 99.8%)"></i>
<i style="background:linear-gradient(90deg,#33ff00 0.2%,#1dff00 24.1%,#00ff00 48.1%,#00ff29 73.8%,#00ff5b 99.8%)"></i>
<i style="background:linear-gradient(90deg,#36ff00 0.2%,#20ff00 25.2%,#00ff00 50.5%,#00ff27 75.2%,#00ff57 99.8%)"></i>
<i style="background:linear-gradient(90deg,#39ff00 0.2%,#2fff00 13.2%,#21ff00 26.6%,#12ff00 40.0%,#00ff00 53.0%,#00ff25 76.2%,#00ff53 99.8%)"></i>
<i style="background:linear-gradient(90deg,#3cff00 0.2%,#31ff00 13.9%,#24ff00 27.6%,#13ff00 41.7%,#00ff00 55.5%,#00ff24 77.6%,#00ff4f 99.8%)"></i>
<i style="background:linear-gradient(90deg,#3fff00 0.2%,#34ff00 14.6%,#25ff00 29.0%,#14ff00 43.5%,#00ff00 57.9%,#00ff22 78.7%,#00ff4b 99.8%)"></i>
<i style="background:linear-gradient(90deg,#42ff00 0.2%,#36ff00 15.3%,#27ff00 30.5%,#15ff00 45.6%,#00ff00 60.4%,#00ff20 79.8%,#00ff47 99.8%)"></i>
<i style="background:linear-gradient(90deg,#46ff00 0.2%,#39ff00 15.7%,#2aff00 31.5%,#16ff00 47.4%,#00ff00 62.9%,#00ff1e 81.2%,#00ff42 99.8%)"></i>
<i style="background:linear-gradient(90deg,#49ff00 0.2%,#3cff00 16.7%,#2cff00 32.9%,#18ff00 49.1%,#00ff00 65.3%,#00ff1c 82.2%,#00ff3e 99.8%)"></i>
<i style="background:linear-gradient(90deg,#4cff00 0.2%,#3fff00 17.1%,#2eff00 34.0%,#19ff00 50.9%,#00ff00 67.8%,#00ff1a 83.3%,#00ff3a 99.8%)"></i>
<i style="background:linear-gradient(90deg,#4fff00 0.2%,#42ff00 17.8%,#30ff00 35.0%,#1aff00 52.6%,#00ff00 70.2%,#00ff19 84.7%,#00ff36 99.8%)"></i>
<i style="background:linear-gradient(90deg,#53ff00 0.2%,#45ff00 18.1%,#32ff00 36.4%,#1bff00 54.8%,#00ff00 72.7%,#00ff16 85.7%,#00ff31 99.8%)"></i>
<i style="background:linear-gradient(90deg,#56ff00 0.2%,#48ff00 19.2%,#35ff00 37.9%,#1dff00 56.5%,#00ff00 75.2%,#00ff2d 99.8%)"></i>
<i style="background:linear-gradient(90deg,#59ff00 0.2%,#4bff00 19.5%,#37ff00 38.9%,#1eff00 58.3%,#00ff00 77.6%,#00ff29 99.8%)"></i>
<i style="background:linear-gradient(90deg,#5dff00 0.2%,#4eff00 20.2%,#3aff00 40.0%,#20ff00 60.0%,#00ff00 80.1%,#00ff24 99.8%)"></i>
<i style="background:linear-gradient(90deg,#60ff00 0.2%,#51ff00 20.6%,#3cff00 41.4%,#21ff00 61.8%,#00ff00 82.6%,#00ff20 99.8%)"></i>
<i style="background:linear-gradient(90deg,#63ff00 0.2%,#54ff00 21.3%,#3eff00 42.4%,#23ff00 63.6%,#00ff00 85.0%,#00ff1c 99.8%)"></i>
<i style="background:linear-gradient(90deg,#67ff00 0.2%,#57ff00 21.7%,#41ff00 43.5%,#24ff00 65.3%,#01ff00 87.1%,#00ff17 99.8%)"></i>
<i style="background:linear-gradient(90deg,#6aff00 0.2%,#5aff00 22.4%,#43ff00 44.9%,#25ff00 67.4%,#00ff00 89.6%,#00ff13 99.8%)"></i>
<i style="background:linear-gradient(90deg,#6eff00 0.2%,#5eff00 23.1%,#46ff00 46.0%,#27ff00 69.2%,#00ff00 92.1%,#00ff0e 99.8%)"></i>
<i style="background:linear-gradient(90deg,#71ff00 0.2%,#63ff00 21.7%,#4dff00 43.1%,#2bff00 68.8%,#00ff00 94.5%,#00ff0a 99.8%)"></i>
<i style="background:linear-gradient(90deg,#75ff00 0.2%,#65ff00 23.1%,#4eff00 46.3%,#2bff00 71.7%,#00ff00 97.0%,#00ff05 99.8%)"></i>
<i style="background:linear-gradient(90deg,#79ff00 0.2%,#67ff00 24.8%,#4eff00 49.5%,#2cff00 73.8%,#00ff01 99.8%)"></i>
<i style="background:linear-gradient(90deg,#7cff00 0.2%,#6bff00 25.2%,#51ff00 50.2%,#2fff00 74.8%,#04ff00 99.8%)"></i>
<i style="background:linear-gradient(90deg,#80ff00 0.2%,#6fff00 24.8%,#56ff00 49.8%,#34ff00 74.8%,#09ff00 99.8%)"></i>
<i style="background:linear-gradient(90deg,#84ff00 0.2%,#73ff00 25.2%,#5aff00 50.2%,#37ff00 75.2%,#0dff00 99.8%)"></i>
<i style="background:linear-gradient(90deg,#87ff00 0.2%,#77ff00 25.2%,#5eff00 50.2%,#3cff00 75.2%,#12ff00 99.8%)"></i>
<i style="background:linear-gradient(90deg,#8bff00 0.2%,#7bff00 25.2%,#62ff00 49.8%,#41ff00 74.8%,#17ff00 99.8%)"></i>
<i style="background:linear-gradient(90deg,#8fff00 0.2%,#7fff00 25.2%,#66ff00 50.2%,#45ff00 75.2%,#1cff00 99.8%)"></i>
<i style="background:linear-gradient(90deg,#93ff00 0.2%,#83ff00 24.8%,#6bff00 49.8%,#4aff00 74.8%,#20ff00 99.8%)"></i>
<i style="background:linear-gradient(90deg,#96ff00 0.2%,#87ff00 25.2%,#6fff00 50.2%,#4fff00 74.8%,#25ff00 99.8%)"></i>
<i style="background:linear-gradient(90deg,#9aff00 0.2%,#8bff00 25.2%,#73ff00 50.2%,#53ff00 75.2%,#2aff00 99.8%)"></i>
<i style="background:linear-gradient(90deg,#9eff00 0.2%,#8fff00 25.2%,#78ff00 50.2%,#58ff00 74.8%,#2fff00 99.8%)"></i>
<i style="background:linear-gradient(90deg,#a2ff00 0.2%,#93ff00 25.2%,#7cff00 49.8%,#5cff00 74.8%,#34ff00 99.8%)"></i>
<i style="background:linear-gradient(90deg,#a6ff00 0.2%,#97ff00 25.2%,#80ff00 50.2%,#61ff00 75.2%,#39ff00 99.8%)"></i>
<i style="background:linear-gradient(90deg,#aaff00 0.2%,#9cff00 25.2%,#85ff00 49.8%,#66ff00 74.8%,#3eff00 99.8%)"></i>
<i style="background:linear-gradient(90deg,#aeff00 0.2%,#a0ff00 25.2%,#89ff00 50.2%,#6bff00 74.8%,#43ff00 99.8%)"></i>
<i style="background:linear-gradient(90deg,#b2ff00 0.2%,#a4ff00 25.2%,#8eff00 50.2%,#6fff00 75.2%,#48ff00 99.8%)"></i>
<i style="background:linear-gradient(90deg,#b6ff00 0.2%,#a8ff00 25.2%,#92ff00 50.2%,#74ff00 75.2%,#4dff00 99.8%)"></i>
<i style="background:linear-gradient(90deg,#baff00 0.2%,#adff00 25.2%,#97ff00 49.8%,#79ff00 74.8%,#52ff00 99.8%)"></i>
<i style="background:linear-gradient(90deg,#beff00 0.2%,#b1ff00 25.2%,#9cff00 50.2%,#7eff00 74.8%,#57ff00 99.8%)"></i>
<i style="background:linear-gradient(90deg,#c2ff00 0.2%,#b5ff00 25.2%,#a0ff00 50.2%,#82ff00 75.2%,#5cff00 99.8%)"></i>
<i style="background:linear-gradient(90deg,#c6ff00 0.2%,#baff00 25.2%,#a5ff00 50.2%,#87ff00 75.2%,#61ff00 99.8%)"></i>
<i style="background:linear-gradient(90deg,#caff00 0.2%,#beff00 25.2%,#a9ff00 50.2%,#8cff00 74.8%,#66ff00 99.8%)"></i>
<i style="background:linear-gradient(90deg,#cfff00 0.2%,#c3ff00 25.2%,#afff00 49.8%,#91ff00 74.8%,#6bff00 99.8%)"></i>
</div>
<div class="fd" style="left:396px;top:15px;width:284px;height:284px">
<i style="background:linear-gradient(90deg,#1aff00 0.2%,#01ff00 2.6%,#00ff03 3.0%,#00ff2f 7.6%,#00ff58 12.1%,#00ff7f 17.1%,#00ffa0 21.7%,#00ffbd 26.2%,#00ffd7 30.8%,#00ffef 35.7%,#00ffff 40.0%,#00efff 44.9%,#00e3ff 50.2%,#00dcff 55.1%,#00daff 60.4%,#00dcff 65.7%,#00e2ff 70.6%,#00eeff 75.9%,#00ffff 81.2%,#00ffef 85.4%,#00ffd7 90.3%,#00ffbb 95.2%,#00ff9e 99.8%)"></i>
<i style="background:linear-gradient(90deg,#1bff00 0.2%,#02ff00 2.6%,#00ff02 3.0%,#00ff2e 7.6%,#00ff57 12.1%,#00ff7e 17.1%,#00ff9f 21.7%,#00ffbc 26.2%,#00ffd8 31.2%,#00ffef 36.1%,#00feff 40.3%,#00eeff 45.6%,#00e3ff 50.5%,#00ddff 55.5%,#00daff 60.7%,#00ddff 65.7%,#00e4ff 71.0%,#00efff 75.9%,#00ffff 81.2%,#00ffec 85.7%,#00ffd6 90.3%,#00ffbd 94.9%,#00ff9d 99.8%)"></i>
<i style="background:linear-gradient(90deg,#1cff00 0.2%,#00ff01 3.0%,#00ff2d 7.6%,#00ff56 12.1%,#00ff7a 16.7%,#00ff9e 21.7%,#00ffbc 26.2%,#00ffd7 31.2%,#00ffed 35.7%,#00ffff 40.3%,#00efff 45.6%,#00e4ff 50.5%,#00deff 55.5%,#00dbff 60.7%,#00deff 65.7%,#00e4ff 70.6%,#00efff 75.5%,#00ffff 80.8%,#00ffed 85.4%,#00ffd6 90.3%,#00ffbc 94.9%,#00ff9c 99.8%)"></i>
<i style="background:linear-gradient(90deg,#1dff00 0.2%,#00ff00 3.0%,#00ff03 3.3%,#00ff2f 7.9%,#00ff58 12.5%,#00ff7c 17.1%,#00ffa0 22.0%,#00ffbd 26.6%,#00ffd8 31.5%,#00ffed 36.1%,#00ffff 40.7%,#00f0ff 45.6%,#00e5ff 50.5%,#00deff 55.5%,#00dcff 60.4%,#00deff 65.3%,#00e4ff 70.2%,#00f0ff 75.5%,#00feff 80.5%,#00ffee 85.0%,#00ffd7 90.0%,#00ffbb 94.9%,#00ff9c 99.8%)"></i>
<i style="background:linear-gradient(90deg,#1eff00 0.2%,#01ff00 3.0%,#00ff02 3.3%,#00ff2e 7.9%,#00ff59 12.9%,#00ff7e 17.4%,#00ffa1 22.4%,#00ffbe 26.9%,#00ffd9 31.9%,#00ffef 36.8%,#00ffff 41.0%,#00f0ff 46.0%,#00e5ff 50.9%,#00dfff 55.8%,#00ddff 60.7%,#00dfff 65.7%,#00e6ff 70.6%,#00f0ff 75.5%,#00ffff 80.5%,#00ffec 85.4%,#00ffd6 90.0%,#00ffbb 94.9%,#00ff9b 99.8%)"></i>
<i style="background:linear-gradient(90deg,#20ff00 0.2%,#00ff01 3.3%,#00ff2d 7.9%,#00ff56 12.5%,#00ff7a 17.1%,#00ff9e 22.0%,#00ffbd 26.9%,#00ffd6 31.5%,#00ffed 36.4%,#00ffff 41.0%,#00f0ff 46.3%,#00e6ff 50.9%,#00e0ff 55.8%,#00deff 60.7%,#00e0ff 65.7%,#00e6ff 70.6%,#00f1ff 75.5%,#00ffff 80.1%,#00ffec 85.0%,#00ffd5 90.0%,#00ffba 94.9%,#00ff9a 99.8%)"></i>
<i style="background:linear-gradient(90deg,#21ff00 0.2%,#00ff00 3.3%,#00ff2f 8.3%,#00ff57 12.9%,#00ff7c 17.4%,#00ff9f 22.4%,#00ffbc 26.9%,#00ffd7 31.9%,#00ffec 36.4%,#00ffff 41.4%,#00f1ff 46.3%,#00e6ff 51.2%,#00e0ff 56.2%,#00dfff 60.7%,#00e0ff 65.3%,#00e6ff 70.2%,#00f0ff 74.8%,#00ffff 80.1%,#00ffec 85.0%,#00ffd5 90.0%,#00ffb9 94.9%,#00ff9a 99.8%)"></i>
<i style="background:linear-gradient(90deg,#22ff00 0.2%,#01ff00 3.3%,#00ff03 3.7%,#00ff32 8.6%,#00ff59 13.2%,#00ff80 18.1%,#00ffa0 22.7%,#00ffbd 27.3%,#00ffd8 32.2%,#00ffee 37.1%,#00ffff 41.7%,#00f1ff 46.3%,#00e7ff 51.2%,#00e1ff 55.8%,#00dfff 60.7%,#00e1ff 65.3%,#00e7ff 70.2%,#00f1ff 74.8%,#00ffff 79.8%,#00ffec 84.7%,#00ffd6 89.6%,#00ffbb 94.5%,#00ff99 99.8%)"></i>
<i style="background:linear-gradient(90deg,#23ff00 0.2%,#02ff00 3.3%,#00ff02 3.7%,#00ff31 8.6%,#00ff5b 13.6%,#00ff7f 18.1%,#00ffa2 23.1%,#00ffbe 27.6%,#00ffd9 32.6%,#00ffef 37.5%,#00ffff 42.1%,#00f1ff 46.7%,#00e8ff 51.2%,#00e2ff 55.8%,#00e0ff 60.7%,#00e2ff 65.3%,#00e7ff 69.9%,#00f1ff 74.5%,#00ffff 79.4%,#00ffed 84.3%,#00ffd5 89.6%,#00ffba 94.5%,#00ff98 99.8%)"></i>
<i style="background:linear-gradient(90deg,#24ff00 0.2%,#00ff01 3.7%,#00ff30 8.6%,#00ff5a 13.6%,#00ff7e 18.1%,#00ffa1 23.1%,#00ffbd 27.6%,#00ffd8 32.6%,#00ffec 37.1%,#00ffff 42.1%,#00f1ff 47.0%,#00e8ff 51.6%,#00e3ff 56.2%,#00e1ff 60.7%,#00e3ff 65.3%,#00e8ff 69.9%,#00f1ff 74.5%,#00ffff 79.4%,#00ffed 84.3%,#00ffd4 89.6%,#00ffb7 94.9%,#00ff98 99.8%)"></i>
<i style="background:linear-gradient(90deg,#25ff00 0.2%,#00ff00 3.7%,#00ff03 4.0%,#00ff2f 8.6%,#00ff59 13.6%,#00ff80 18.5%,#00ffa2 23.4%,#00ffbe 28.0%,#00ffd9 32.9%,#00ffed 37.5%,#00ffff 42.4%,#00f2ff 47.0%,#00e9ff 51.6%,#00e3ff 56.2%,#00e2ff 60.7%,#00e3ff 65.3%,#00e9ff 69.9%,#00f2ff 74.5%,#00ffff 79.0%,#00ffed 84.0%,#00ffd5 89.3%,#00ffb9 94.5%,#00ff97 99.8%)"></i>
<i style="background:linear-gradient(90deg,#26ff00 0.2%,#01ff00 3.7%,#00ff02 4.0%,#00ff2e 8.6%,#00ff59 13.6%,#00ff7f 18.5%,#00ffa1 23.4%,#00ffc0 28.3%,#00ffd9 33.3%,#00ffef 38.2%,#00ffff 42.8%,#00f3ff 47.0%,#00eaff 51.6%,#00e4ff 56.2%,#00e2ff 60.7%,#00e4ff 65.3%,#00eaff 69.9%,#00f2ff 74.1%,#00ffff 79.0%,#00ffeb 84.3%,#00ffd3 89.6%,#00ffb8 94.5%,#00ff97 99.8%)"></i>
<i style="background:linear-gradient(90deg,#27ff00 0.2%,#00ff01 4.0%,#00ff30 9.0%,#00ff5b 13.9%,#00ff81 18.8%,#00ffa3 23.8%,#00ffc1 28.7%,#00ffda 33.6%,#00fff0 38.6%,#00feff 43.1%,#00f3ff 47.4%,#00eaff 51.9%,#00e5ff 56.2%,#00e3ff 60.7%,#00e5ff 65.3%,#00eaff 69.5%,#00f3ff 74.1%,#00ffff 78.7%,#00ffec 84.0%,#00ffd4 89.3%,#00ffb8 94.5%,#00ff96 99.8%)"></i>
<i style="background:linear-gradient(90deg,#28ff00 0.2%,#00ff00 4.0%,#00ff2c 8.6%,#00ff57 13.6%,#00ff7d 18.5%,#00ffa0 23.4%,#00ffbe 28.3%,#00ffd8 33.3%,#00ffed 38.2%,#00ffff 43.1%,#00f3ff 47.7%,#00ebff 51.9%,#00e6ff 56.2%,#00e4ff 60.7%,#00e6ff 65.3%,#00eaff 69.5%,#00f3ff 74.1%,#00ffff 78.3%,#00ffee 83.3%,#00ffd5 88.9%,#00ffb7 94.5%,#00ff95 99.8%)"></i>
<i style="background:linear-gradient(90deg,#29ff00 0.2%,#01ff00 4.0%,#00ff03 4.4%,#00ff31 9.3%,#00ff5c 14.3%,#00ff82 19.2%,#00ffa3 24.1%,#00ffc1 29.0%,#00ffda 34.0%,#00ffef 38.9%,#00ffff 43.5%,#00f4ff 47.7%,#00ecff 51.9%,#00e7ff 56.2%,#00e5ff 60.7%,#00e6ff 65.3%,#00ebff 69.5%,#00f3ff 73.8%,#00ffff 78.3%,#00ffeb 84.0%,#00ffd3 89.3%,#00ffb6 94.5%,#00ff95 99.8%)"></i>
<i style="background:linear-gradient(90deg,#29ff00 0.2%,#02ff00 4.0%,#00ff02 4.4%,#00ff30 9.3%,#00ff5b 14.3%,#00ff81 19.2%,#00ffa3 24.1%,#00ffc0 29.0%,#00ffd9 34.0%,#00ffee 38.9%,#00ffff 43.8%,#00f4ff 48.1%,#00ecff 52.3%,#00e7ff 56.5%,#00e5ff 60.7%,#00e7ff 65.0%,#00ebff 69.2%,#00f3ff 73.4%,#00ffff 78.0%,#00ffed 83.3%,#00ffd4 88.9%,#00ffb8 94.2%,#00ff94 99.8%)"></i>
<i style="background:linear-gradient(90deg,#2aff00 0.2%,#00ff01 4.4%,#00ff2f 9.3%,#00ff5a 14.3%,#00ff80 19.2%,#00ffa2 24.1%,#00ffbf 29.0%,#00ffd9 34.0%,#00ffee 38.9%,#00ffff 43.8%,#00f4ff 48.4%,#00edff 52.3%,#00e8ff 56.5%,#00e6ff 60.7%,#00e7ff 65.0%,#00ecff 69.2%,#00f4ff 73.4%,#00fffe 78.0%,#00ffeb 83.6%,#00ffd3 88.9%,#00ffb7 94.2%,#00ff94 99.8%)"></i>
<i style="background:linear-gradient(90deg,#2bff00 0.2%,#00ff00 4.4%,#00ff32 9.7%,#00ff5c 14.6%,#00ff82 19.5%,#00ffa3 24.5%,#00ffc0 29.4%,#00ffd9 34.3%,#00ffee 39.3%,#00ffff 44.2%,#00f4ff 48.4%,#00edff 52.6%,#00e8ff 56.9%,#00e7ff 61.1%,#00e8ff 65.0%,#00edff 69.2%,#00f4ff 73.4%,#00ffff 77.6%,#00ffec 83.3%,#00ffd3 88.9%,#00ffb5 94.5%,#00ff93 99.8%)"></i>
<i style="background:linear-gradient(90deg,#2cff00 0.2%,#01ff00 4.4%,#00ff03 4.8%,#00ff31 9.7%,#00ff5e 15.0%,#00ff83 19.9%,#00ffa4 24.8%,#00ffc2 29.8%,#00ffda 34.7%,#00ffef 39.6%,#00ffff 44.5%,#00f5ff 48.4%,#00edff 52.6%,#00e9ff 56.9%,#00e7ff 60.7%,#00e9ff 64.6%,#00edff 68.8%,#00f4ff 73.1%,#00ffff 77.3%,#00ffec 82.9%,#00ffd4 88.6%,#00ffb6 94.2%,#00ff93 99.8%)"></i>
<i style="background:linear-gradient(90deg,#2dff00 0.2%,#02ff00 4.4%,#00ff02 4.8%,#00ff30 9.7%,#00ff5a 14.6%,#00ff82 19.9%,#00ffa4 24.8%,#00ffc1 29.8%,#00ffdb 35.0%,#00fff1 40.3%,#00ffff 44.9%,#00f4ff 49.1%,#00eeff 53.0%,#00e9ff 57.2%,#00e8ff 61.1%,#00eaff 65.3%,#00eeff 69.2%,#00f5ff 73.1%,#00ffff 77.3%,#00ffec 82.9%,#00ffd3 88.6%,#00ffb6 94.2%,#00ff92 99.8%)"></i>
<i style="background:linear-gradient(90deg,#2eff00 0.2%,#00ff01 4.8%,#00ff2f 9.7%,#00ff59 14.6%,#00ff7f 19.5%,#00ffa3 24.8%,#00ffc0 29.8%,#00ffd9 34.7%,#00ffed 39.6%,#00ffff 44.9%,#00f5ff 49.1%,#00eeff 53.0%,#00eaff 57.2%,#00e9ff 61.1%,#00eaff 65.0%,#00eeff 68.8%,#00f5ff 73.1%,#00ffff 76.9%,#00ffed 82.6%,#00ffd5 88.2%,#00ffb7 93.8%,#00ff92 99.8%)"></i>
<i style="background:linear-gradient(90deg,#2fff00 0.2%,#00ff00 4.8%,#00ff31 10.0%,#00ff5b 15.0%,#00ff81 19.9%,#00ffa4 25.2%,#00ffc1 30.1%,#00ffda 35.0%,#00ffef 40.3%,#00ffff 45.2%,#00f5ff 49.5%,#00efff 53.3%,#00ebff 57.2%,#00e9ff 61.1%,#00ebff 65.0%,#00efff 68.8%,#00fffe 76.9%,#00ffec 82.6%,#00ffd2 88.6%,#00ffb4 94.2%,#00ff91 99.8%)"></i>
<i style="background:linear-gradient(90deg,#30ff00 0.2%,#01ff00 4.8%,#00ff02 5.1%,#00ff34 10.4%,#00ff5d 15.3%,#00ff85 20.6%,#00ffa6 25.5%,#00ffc2 30.5%,#00ffdc 35.7%,#00fff0 40.7%,#00ffff 45.6%,#00f6ff 49.5%,#00efff 53.3%,#00ebff 57.2%,#00eaff 61.1%,#00ebff 65.0%,#00efff 68.8%,#00f6ff 72.7%,#00ffff 76.6%,#00ffeb 82.6%,#00ffd3 88.2%,#00ffb6 93.8%,#00ff91 99.8%)"></i>
<i style="background:linear-gradient(90deg,#31ff00 0.2%,#05ff00 4.4%,#00ff02 5.1%,#00ff30 10.0%,#00ff5c 15.3%,#00ff82 20.2%,#00ffa5 25.5%,#00ffc1 30.5%,#00ffdb 35.7%,#00fff0 41.0%,#00ffff 46.0%,#00f6ff 49.8%,#00efff 53.7%,#00ebff 61.1%,#00f0ff 68.5%,#00f6ff 72.4%,#00ffff 76.2%,#00ffed 81.9%,#00ffd5 87.9%,#00ffb5 93.8%,#00ff90 99.8%)"></i>
<i style="background:linear-gradient(90deg,#32ff00 0.2%,#00ff01 5.1%,#00ff32 10.4%,#00ff5c 15.3%,#00ff83 20.6%,#00ffa4 25.5%,#00ffc3 30.8%,#00ffda 35.7%,#00ffee 40.7%,#00ffff 46.0%,#00f0ff 53.7%,#00ebff 61.1%,#00f0ff 68.5%,#00ffff 76.2%,#00ffed 81.9%,#00ffd4 87.9%,#00ffb5 93.8%,#00ff90 99.8%)"></i>
<i style="background:linear-gradient(90deg,#33ff00 0.2%,#00ff00 5.1%,#00ff31 10.4%,#00ff5e 15.7%,#00ff85 21.0%,#00ffa6 25.9%,#00ffc4 31.2%,#00ffdb 36.1%,#00ffef 41.0%,#00ffff 46.3%,#00f1ff 53.7%,#00ecff 61.1%,#00f1ff 68.5%,#00ffff 75.9%,#00ffec 81.9%,#00ffd4 87.9%,#00ffb4 93.8%,#00ff8f 99.8%)"></i>
<i style="background:linear-gradient(90deg,#33ff00 0.2%,#01ff00 5.1%,#00ff02 5.5%,#00ff33 10.7%,#00ff5d 15.7%,#00ff84 21.0%,#00ffa7 26.2%,#00ffc3 31.2%,#00ffdc 36.4%,#00fff0 41.7%,#00ffff 46.7%,#00f1ff 53.7%,#00edff 61.1%,#00f1ff 68.1%,#00fffe 75.9%,#00ffec 81.9%,#00ffd3 87.9%,#00ffb4 93.8%,#00ff8f 99.8%)"></i>
<i style="background:linear-gradient(90deg,#34ff00 0.2%,#05ff00 4.8%,#00ff02 5.5%,#00ff30 10.4%,#00ff5c 15.7%,#00ff83 21.0%,#00ffa6 26.2%,#00ffc4 31.5%,#00ffdd 36.8%,#00fff1 42.1%,#00ffff 47.0%,#00f2ff 54.0%,#00edff 61.1%,#00f1ff 68.1%,#00ffff 75.5%,#00ffed 81.5%,#00ffd4 87.5%,#00ffb5 93.5%,#00ff8e 99.8%)"></i>
<i style="background:linear-gradient(90deg,#35ff00 0.2%,#00ff01 5.5%,#00ff32 10.7%,#00ff5b 15.7%,#00ff83 21.0%,#00ffa5 26.2%,#00ffc3 31.5%,#00ffdb 36.4%,#00ffef 41.7%,#00ffff 47.0%,#00f2ff 54.0%,#00eeff 61.1%,#00f2ff 68.1%,#00ffff 75.2%,#00ffed 81.2%,#00ffd4 87.5%,#00ffb5 93.5%,#00ff8e 99.8%)"></i>
<i style="background:linear-gradient(90deg,#36ff00 0.2%,#00ff00 5.5%,#00ff31 10.7%,#00ff5d 16.0%,#00ff84 21.3%,#00ffa5 26.2%,#00ffc3 31.5%,#00ffdc 36.8%,#00fff0 42.1%,#00ffff 47.4%,#00f2ff 54.4%,#00eeff 61.1%,#00f2ff 67.8%,#00ffff 75.2%,#00ffed 81.2%,#00ffd3 87.5%,#00ffb5 93.5%,#00ff8d 99.8%)"></i>
<i style="background:linear-gradient(90deg,#37ff00 0.2%,#01ff00 5.5%,#00ff03 5.8%,#00ff33 11.1%,#00ff5f 16.4%,#00ff86 21.7%,#00ffa8 26.9%,#00ffc5 32.2%,#00ffde 37.5%,#00fff1 42.8%,#00ffff 47.7%,#00f3ff 54.4%,#00efff 61.1%,#00f3ff 67.8%,#00ffff 74.8%,#00ffed 80.8%,#00ffd4 87.1%,#00ffb4 93.5%,#00ff8d 99.8%)"></i>
<i style="background:linear-gradient(90deg,#38ff00 0.2%,#08ff00 4.8%,#02ff00 5.5%,#00ff02 5.8%,#00ff33 11.1%,#00ff5e 16.4%,#00ff85 21.7%,#00ffa8 26.9%,#00ffc5 32.2%,#00ffdd 37.5%,#00fff1 42.8%,#00ffff 48.1%,#00f3ff 54.8%,#00f0ff 61.4%,#00f3ff 67.8%,#00fffe 74.8%,#00ffed 80.8%,#00ffd4 87.1%,#00ffb4 93.5%,#00ff8c 99.8%)"></i>
<i style="background:linear-gradient(90deg,#38ff00 0.2%,#10ff00 4.0%,#00ff01 5.8%,#00ff32 11.1%,#00ff5e 16.4%,#00ff85 21.7%,#00ffa7 26.9%,#00ffc4 32.2%,#00ffdc 37.5%,#00fff0 42.8%,#00ffff 48.1%,#00f4ff 54.8%,#00f0ff 61.4%,#00f4ff 67.8%,#00ffff 74.5%,#00ffed 80.8%,#00ffd3 87.1%,#00ffb3 93.5%,#00ff8c 99.8%)"></i>
<i style="background:linear-gradient(90deg,#39ff00 0.2%,#00ff00 5.8%,#00ff31 11.1%,#00ff5d 16.4%,#00ff84 21.7%,#00ffa6 26.9%,#00ffc3 32.2%,#00ffdd 37.9%,#00fff1 43.1%,#00ffff 48.4%,#00f4ff 55.1%,#00f1ff 61.4%,#00f4ff 67.8%,#00ffff 74.1%,#00ffed 80.5%,#00ffd3 87.1%,#00ffb3 93.5%,#00ff8c 99.8%)"></i>
<i style="background:linear-gradient(90deg,#3aff00 0.2%,#00ff00 5.8%,#00ff03 6.2%,#00ff33 11.4%,#00ff5f 16.7%,#00ff88 22.4%,#00ffaa 27.6%,#00ffc6 32.9%,#00ffde 38.2%,#00fff1 43.5%,#00ffff 48.8%,#00f5ff 55.1%,#00f1ff 61.4%,#00f4ff 67.4%,#00fffe 74.1%,#00ffed 80.5%,#00ffd4 86.8%,#00ffb2 93.5%,#00ff8b 99.8%)"></i>
<i style="background:linear-gradient(90deg,#3bff00 0.2%,#08ff00 5.1%,#01ff00 5.8%,#00ff02 6.2%,#00ff33 11.4%,#00ff5e 16.7%,#00ff87 22.4%,#00ffa9 27.6%,#00ffc6 32.9%,#00ffdf 38.6%,#00fff1 43.8%,#00ffff 49.1%,#00f5ff 55.1%,#00f2ff 61.4%,#00f5ff 67.1%,#00ffff 73.4%,#00fffd 74.5%,#00ffeb 80.8%,#00ffd2 87.1%,#00ffb2 93.5%,#00ff8b 99.8%)"></i>
<i style="background:linear-gradient(90deg,#3bff00 0.2%,#10ff00 4.4%,#00ff01 6.2%,#00ff32 11.4%,#00ff60 17.1%,#00ff87 22.4%,#00ffa8 27.6%,#00ffc5 32.9%,#00ffdd 38.2%,#00fff1 43.8%,#00ffff 49.1%,#00f5ff 55.5%,#00f2ff 61.4%,#00f5ff 67.1%,#00ffff 73.4%,#00fffd 74.5%,#00ffeb 80.8%,#00ffd2 87.1%,#00ffb1 93.5%,#00ff8a 99.8%)"></i>
<i style="background:linear-gradient(90deg,#3cff00 0.2%,#00ff01 6.2%,#00ff31 11.4%,#00ff60 17.1%,#00ff86 22.4%,#00ffaa 28.0%,#00ffc6 33.3%,#00ffdf 38.9%,#00fff1 44.2%,#00ffff 49.5%,#00f6ff 55.5%,#00f3ff 61.4%,#00f6ff 67.1%,#00ffff 73.1%,#00fffb 74.8%,#00ffea 80.8%,#00ffd1 87.1%,#00ffb1 93.5%,#00ff8a 99.8%)"></i>
<i style="background:linear-gradient(90deg,#3dff00 0.2%,#00ff00 6.2%,#00ff34 11.8%,#00ff5f 17.1%,#00ff88 22.7%,#00ffa9 28.0%,#00ffc7 33.6%,#00ffde 38.9%,#00fff1 44.2%,#00ffff 49.8%,#00f6ff 55.8%,#00f3ff 61.4%,#00f6ff 67.1%,#00feff 72.7%,#00fffb 74.8%,#00ffe9 81.2%,#00ffd1 87.1%,#00ffb1 93.5%,#00ff8a 99.8%)"></i>
<i style="background:linear-gradient(90deg,#3eff00 0.2%,#04ff00 5.8%,#01ff00 6.2%,#00ff03 6.5%,#00ff33 11.8%,#00ff61 17.4%,#00ff87 22.7%,#00ffab 28.3%,#00ffc7 33.6%,#00ffdf 39.3%,#00fff2 44.9%,#00ffff 50.2%,#00f7ff 55.8%,#00f4ff 61.4%,#00f7ff 67.1%,#00ffff 72.7%,#00fffa 74.8%,#00ffe9 80.8%,#00ffd0 87.1%,#00ffb0 93.5%,#00ff89 99.8%)"></i>
<i style="background:linear-gradient(90deg,#3eff00 0.2%,#0cff00 5.1%,#01ff00 6.2%,#00ff02 6.5%,#00ff35 12.1%,#00ff60 17.4%,#00ff87 22.7%,#00ffaa 28.3%,#00ffc6 33.6%,#00ffdf 39.3%,#00fff2 44.9%,#00ffff 50.2%,#00f7ff 56.2%,#00f4ff 61.4%,#00f7ff 66.7%,#00ffff 72.4%,#00fffa 74.8%,#00ffe8 81.2%,#00ffce 87.5%,#00ffb0 93.5%,#00ff89 99.8%)"></i>
<i style="background:linear-gradient(90deg,#3fff00 0.2%,#13ff00 4.4%,#00ff01 6.5%,#00ff35 12.1%,#00ff60 17.4%,#00ff86 22.7%,#00ffa9 28.3%,#00ffc7 34.0%,#00ffdf 39.6%,#00fff1 44.9%,#00ffff 50.5%,#00f7ff 56.2%,#00f5ff 61.4%,#00f7ff 66.7%,#00ffff 72.0%,#00fff9 75.2%,#00ffe7 81.2%,#00ffce 87.5%,#00ffb0 93.5%,#00ff89 99.8%)"></i>
<i style="background:linear-gradient(90deg,#40ff00 0.2%,#00ff01 6.5%,#00ff34 12.1%,#00ff62 17.8%,#00ff88 23.1%,#00ffab 28.7%,#00ffc8 34.3%,#00ffdf 39.6%,#00fff2 45.2%,#00ffff 50.9%,#00f8ff 56.2%,#00f5ff 61.4%,#00f8ff 66.7%,#00ffff 72.0%,#00fff8 75.5%,#00ffe6 81.5%,#00ffcc 87.9%,#00ffad 93.8%,#00ff88 99.8%)"></i>
<i style="background:linear-gradient(90deg,#41ff00 0.2%,#00ff00 6.5%,#00ff33 12.1%,#00ff61 17.8%,#00ff89 23.4%,#00ffac 29.0%,#00ffc9 34.7%,#00ffe1 40.3%,#00fff3 46.0%,#00ffff 51.2%,#00f8ff 56.2%,#00f6ff 61.4%,#00f8ff 66.7%,#00ffff 71.7%,#00fff7 75.5%,#00ffe5 81.5%,#00ffcc 87.9%,#00ffad 93.8%,#00ff88 99.8%)"></i>
<i style="background:linear-gradient(90deg,#41ff00 0.2%,#08ff00 5.8%,#01ff00 6.5%,#00ff03 6.9%,#00ff36 12.5%,#00ff63 18.1%,#00ff89 23.4%,#00ffac 29.0%,#00ffc7 34.3%,#00ffdf 40.0%,#00fff2 45.6%,#00ffff 51.2%,#00f8ff 56.5%,#00f6ff 61.4%,#00f8ff 66.4%,#00ffff 71.7%,#00fff7 75.5%,#00ffe5 81.5%,#00ffcd 87.5%,#00ffaf 93.5%,#00ff88 99.8%)"></i>
<i style="background:linear-gradient(90deg,#42ff00 0.2%,#0fff00 5.1%,#01ff00 6.5%,#00ff02 6.9%,#00ff35 12.5%,#00ff63 18.1%,#00ff8b 23.8%,#00ffab 29.0%,#00ffc8 34.7%,#00ffe0 40.3%,#00fff2 46.0%,#00ffff 51.6%,#00f9ff 56.9%,#00f7ff 61.4%,#00f9ff 66.4%,#00ffff 71.3%,#00fff5 75.9%,#00ffe3 81.9%,#00ffcb 87.9%,#00ffac 93.8%,#00ff87 99.8%)"></i>
<i style="background:linear-gradient(90deg,#43ff00 0.2%,#13ff00 4.8%,#00ff01 6.9%,#00ff34 12.5%,#00ff62 18.1%,#00ff8a 23.8%,#00ffac 29.4%,#00ffc9 35.0%,#00ffe1 40.7%,#00fff3 46.3%,#00ffff 51.9%,#00f9ff 56.9%,#00f7ff 61.4%,#00f9ff 66.4%,#00ffff 71.0%,#00fff5 75.9%,#00ffe3 81.9%,#00ffcb 87.9%,#00ffac 93.8%,#00ff87 99.8%)"></i>
<i style="background:linear-gradient(90deg,#43ff00 0.2%,#1bff00 4.0%,#00ff01 6.9%,#00ff34 12.5%,#00ff61 18.1%,#00ff89 23.8%,#00ffac 29.4%,#00ffc9 35.0%,#00ffe1 41.0%,#00fff3 46.7%,#00ffff 52.3%,#00f9ff 56.9%,#00f8ff 61.4%,#00f9ff 66.0%,#00ffff 71.0%,#00fff4 76.2%,#00ffe3 81.9%,#00ffca 87.9%,#00ffac 93.8%,#00ff87 99.8%)"></i>
<i style="background:linear-gradient(90deg,#44ff00 0.2%,#00ff00 6.9%,#00ff36 12.9%,#00ff63 18.5%,#00ff8b 24.1%,#00ffad 29.8%,#00ffcc 35.7%,#00ffe2 41.4%,#00fff3 47.0%,#00ffff 52.6%,#00faff 57.2%,#00f8ff 61.4%,#00faff 66.0%,#00ffff 70.6%,#00fff3 76.2%,#00ffe1 82.2%,#00ffc8 88.2%,#00ffab 93.8%,#00ff87 99.8%)"></i>
<i style="background:linear-gradient(90deg,#45ff00 0.2%,#0bff00 5.8%,#01ff00 6.9%,#00ff03 7.2%,#00ff39 13.2%,#00ff65 18.8%,#00ff8d 24.5%,#00ffaf 30.1%,#00ffcb 35.7%,#00ffe2 41.4%,#00fff3 47.0%,#00ffff 52.6%,#00faff 57.2%,#00f8ff 61.4%,#00faff 65.7%,#00ffff 70.2%,#00fff3 76.2%,#00ffe1 82.2%,#00ffc8 88.2%,#00ffab 93.8%,#00ff86 99.8%)"></i>
<i style="background:linear-gradient(90deg,#45ff00 0.2%,#0fff00 5.5%,#01ff00 6.9%,#00ff02 7.2%,#00ff38 13.2%,#00ff65 18.8%,#00ff8c 24.5%,#00ffae 30.1%,#00ffca 35.7%,#00ffe1 41.4%,#00fff2 47.0%,#00ffff 53.0%,#00faff 57.6%,#00f9ff 61.8%,#00faff 66.0%,#00ffff 70.2%,#00fff3 76.2%,#00ffe0 82.2%,#00ffc8 88.2%,#00ffa9 94.2%,#00ff86 99.8%)"></i>
<i style="background:linear-gradient(90deg,#46ff00 0.2%,#13ff00 5.1%,#02ff00 6.9%,#00ff02 7.2%,#00ff37 13.2%,#00ff64 18.8%,#00ff8c 24.5%,#00ffb0 30.5%,#00ffcc 36.1%,#00ffe2 41.7%,#00fff3 47.4%,#00ffff 53.3%,#00fbff 57.6%,#00f9ff 61.8%,#00fbff 65.7%,#00ffff 69.9%,#00fff1 76.6%,#00ffe0 82.2%,#00ffc7 88.2%,#00ffa9 94.2%,#00ff86 99.8%)"></i>
<i style="background:linear-gradient(90deg,#46ff00 0.2%,#1bff00 4.4%,#00ff01 7.2%,#00ff37 13.2%,#00ff64 18.8%,#00ff8e 24.8%,#00ffaf 30.5%,#00ffcd 36.4%,#00ffe3 42.1%,#00fff3 47.7%,#00ffff 53.7%,#00fbff 57.9%,#00faff 61.8%,#00fbff 65.7%,#00ffff 69.5%,#00fff9 73.1%,#00fff0 76.9%,#00ffde 82.6%,#00ffc7 88.2%,#00ffaa 93.8%,#00ff86 99.8%)"></i>
<i style="background:linear-gradient(90deg,#47ff00 0.2%,#1fff00 4.0%,#00ff00 7.2%,#00ff36 13.2%,#00ff66 19.2%,#00ff8d 24.8%,#00ffb1 30.8%,#00ffce 36.8%,#00ffe4 42.4%,#00fff4 48.1%,#00ffff 54.0%,#00fbff 57.9%,#00faff 61.8%,#00fbff 65.7%,#00ffff 69.5%,#00fff0 76.9%,#00ffde 82.6%,#00ffc7 88.2%,#00ffaa 93.8%,#00ff85 99.8%)"></i>
<i style="background:linear-gradient(90deg,#48ff00 0.2%,#00ff00 7.2%,#00ff36 13.2%,#00ff65 19.2%,#00ff8d 24.8%,#00ffb0 30.8%,#00ffcc 36.4%,#00ffe3 42.4%,#00fff3 48.1%,#00ffff 54.0%,#00faff 61.8%,#00ffff 69.2%,#00fff9 73.1%,#00fff0 76.9%,#00ffde 82.6%,#00ffc5 88.6%,#00ffa8 94.2%,#00ff85 99.8%)"></i>
<i style="background:linear-gradient(90deg,#48ff00 0.2%,#0eff00 5.8%,#01ff00 7.2%,#00ff03 7.6%,#00ff35 13.2%,#00ff65 19.2%,#00ff8e 25.2%,#00ffb0 30.8%,#00ffcd 36.8%,#00ffe3 42.4%,#00fff4 48.4%,#00fffe 54.0%,#00fbff 61.8%,#00ffff 68.8%,#00fff9 72.7%,#00ffef 76.9%,#00ffdc 82.9%,#00ffc5 88.6%,#00ffa8 94.2%,#00ff85 99.8%)"></i>
<i style="background:linear-gradient(90deg,#49ff00 0.2%,#12ff00 5.5%,#01ff00 7.2%,#00ff02 7.6%,#00ff38 13.6%,#00ff64 19.2%,#00ff8e 25.2%,#00ffaf 30.8%,#00ffcb 36.4%,#00ffe2 42.4%,#00fff3 48.4%,#00fffe 54.0%,#00fbff 61.8%,#00ffff 68.5%,#00fff9 72.7%,#00ffef 76.9%,#00ffdd 82.6%,#00ffc6 88.2%,#00ffa9 93.8%,#00ff85 99.8%)"></i>
<i style="background:linear-gradient(90deg,#49ff00 0.2%,#16ff00 5.1%,#02ff00 7.2%,#00ff01 7.6%,#00ff34 13.2%,#00ff64 19.2%,#00ff8b 24.8%,#00ffaf 30.8%,#00ffca 36.4%,#00ffe2 42.4%,#00fff2 48.1%,#00fffd 54.0%,#00ffff 55.5%,#00fbff 61.8%,#00ffff 68.5%,#00fff8 72.7%,#00ffef 76.9%,#00ffdd 82.6%,#00ffc4 88.6%,#00ffa7 94.2%,#00ff85 99.8%)"></i>
<i style="background:linear-gradient(90deg,#4aff00 0.2%,#1eff00 4.4%,#00ff01 7.6%,#00ff34 13.2%,#00ff63 19.2%,#00ff8b 24.8%,#00ffae 30.8%,#00ffca 36.4%,#00ffe1 42.4%,#00fff3 48.4%,#00fffe 54.4%,#00fcff 61.8%,#00ffff 68.1%,#00fff8 72.7%,#00ffee 76.9%,#00ffdd 82.6%,#00ffc6 88.2%,#00ffa7 94.2%,#00ff84 99.8%)"></i>
<i style="background:linear-gradient(90deg,#4bff00 0.2%,#22ff00 4.0%,#00ff00 7.6%,#00ff36 13.6%,#00ff63 19.2%,#00ff8c 25.2%,#00ffb0 31.2%,#00ffcd 37.1%,#00ffe2 42.8%,#00fff2 48.4%,#00fffd 54.4%,#00ffff 56.2%,#00fcff 61.8%,#00ffff 67.8%,#00fff8 72.4%,#00ffee 76.9%,#00ffdd 82.6%,#00ffc4 88.6%,#00ffa7 94.2%,#00ff84 99.8%)"></i>
<i style="background:linear-gradient(90deg,#4bff00 0.2%,#00ff00 7.6%,#00ff36 13.6%,#00ff65 19.5%,#00ff8c 25.2%,#00ffaf 31.2%,#00ffcc 37.1%,#00ffe2 42.8%,#00fff3 48.8%,#00fffd 54.4%,#00ffff 56.5%,#00fcff 61.8%,#00ffff 67.4%,#00fff8 72.4%,#00ffed 77.3%,#00ffdb 82.9%,#00ffc4 88.6%,#00ffa7 94.2%,#00ff84 99.8%)"></i>
<i style="background:linear-gradient(90deg,#4cff00 0.2%,#0eff00 6.2%,#01ff00 7.6%,#00ff03 7.9%,#00ff35 13.6%,#00ff65 19.5%,#00ff8e 25.5%,#00ffaf 31.2%,#00ffcc 37.1%,#00ffe1 42.8%,#00fff2 48.8%,#00fffd 54.4%,#00ffff 56.5%,#00fdff 61.8%,#00ffff 67.4%,#00fff9 72.0%,#00ffee 76.9%,#00ffdc 82.6%,#00ffc3 88.6%,#00ffa6 94.2%,#00ff84 99.8%)"></i>
<i style="background:linear-gradient(90deg,#4cff00 0.2%,#12ff00 5.8%,#01ff00 7.6%,#00ff02 7.9%,#00ff38 13.9%,#00ff64 19.5%,#00ff8b 25.2%,#00ffae 31.2%,#00ffca 36.8%,#00ffe1 42.8%,#00fff1 48.4%,#00fffc 54.4%,#00ffff 57.2%,#00fdff 62.1%,#00ffff 67.1%,#00fff8 72.0%,#00ffed 77.3%,#00ffdb 82.9%,#00ffc3 88.6%,#00ffa6 94.2%,#00ff84 99.8%)"></i>
<i style="background:linear-gradient(90deg,#4dff00 0.2%,#1aff00 5.1%,#02ff00 7.6%,#00ff02 7.9%,#00ff34 13.6%,#00ff64 19.5%,#00ff8b 25.2%,#00ffae 31.2%,#00ffcb 37.1%,#00ffe1 42.8%,#00fff2 48.8%,#00fffc 54.4%,#00ffff 57.6%,#00fdff 62.1%,#00ffff 66.7%,#00fff9 71.7%,#00ffed 76.9%,#00ffda 82.9%,#00ffc3 88.6%,#00ffa6 94.2%,#00ff84 99.8%)"></i>
<i style="background:linear-gradient(90deg,#4dff00 0.2%,#1eff00 4.8%,#00ff01 7.9%,#00ff34 13.6%,#00ff63 19.5%,#00ff8a 25.2%,#00ffae 31.2%,#00ffc9 36.8%,#00ffe0 42.8%,#00fff1 48.4%,#00fffc 54.4%,#00ffff 57.9%,#00fdff 62.1%,#00ffff 66.4%,#00fff8 71.7%,#00ffec 77.3%,#00ffda 82.9%,#00ffc3 88.6%,#00ffa6 94.2%,#00ff83 99.8%)"></i>
<i style="background:linear-gradient(90deg,#4eff00 0.2%,#22ff00 4.4%,#00ff01 7.9%,#00ff33 13.6%,#00ff63 19.5%,#00ff8a 25.2%,#00ffad 31.2%,#00ffca 37.1%,#00ffe0 42.8%,#00fff1 48.8%,#00fffb 54.4%,#00ffff 58.3%,#00feff 62.1%,#00ffff 66.0%,#00fff8 71.7%,#00ffed 76.9%,#00ffdb 82.6%,#00ffc4 88.2%,#00ffa8 93.8%,#00ff83 99.8%)"></i>
<i style="background:linear-gradient(90deg,#4eff00 0.2%,#26ff00 4.0%,#00ff00 7.9%,#00ff33 13.6%,#00ff62 19.5%,#00ff89 25.2%,#00ffad 31.2%,#00ffca 37.1%,#00ffe0 42.8%,#00fff1 48.8%,#00fffb 54.4%,#00ffff 58.6%,#00ffff 65.7%,#00fff9 71.3%,#00ffed 76.9%,#00ffda 82.9%,#00ffc3 88.6%,#00ffa6 94.2%,#00ff83 99.8%)"></i>
<i style="background:linear-gradient(90deg,#4fff00 0.2%,#26ff00 4.0%,#00ff00 7.9%,#00ff35 13.9%,#00ff62 19.5%,#00ff8b 25.5%,#00ffac 31.2%,#00ffca 37.1%,#00ffdf 42.8%,#00fff0 48.4%,#00fffb 54.4%,#00ffff 59.0%,#00ffff 65.7%,#00fff8 71.3%,#00ffec 77.3%,#00ffda 82.9%,#00ffc2 88.6%,#00ffa6 94.2%,#00ff83 99.8%)"></i>
<i style="background:linear-gradient(90deg,#4fff00 0.2%,#12ff00 6.2%,#01ff00 7.9%,#00ff03 8.3%,#00ff38 14.3%,#00ff64 19.9%,#00ff8b 25.5%,#00ffae 31.5%,#00ffc9 37.1%,#00ffdf 42.8%,#00fff0 48.8%,#00fffa 54.4%,#00ffff 59.3%,#00fffe 65.7%,#00fff8 71.7%,#00ffeb 77.3%,#00ffda 82.9%,#00ffc2 88.6%,#00ffa5 94.2%,#00ff83 99.8%)"></i>
<i style="background:linear-gradient(90deg,#50ff00 0.2%,#16ff00 5.8%,#01ff00 7.9%,#00ff02 8.3%,#00ff34 13.9%,#00ff64 19.9%,#00ff8a 25.5%,#00ffae 31.5%,#00ffc9 37.1%,#00ffdf 42.8%,#00fff0 48.8%,#00fffa 54.4%,#00ffff 60.0%,#00fffe 65.7%,#00fff7 71.7%,#00ffeb 77.3%,#00ffd9 82.9%,#00ffc2 88.6%,#00ffa5 94.2%,#00ff83 99.8%)"></i>
<i style="background:linear-gradient(90deg,#50ff00 0.2%,#19ff00 5.5%,#02ff00 7.9%,#00ff02 8.3%,#00ff34 13.9%,#00ff63 19.9%,#00ff8a 25.5%,#00ffad 31.5%,#00ffc9 37.1%,#00ffe0 43.1%,#00fff0 48.8%,#00fffa 54.8%,#00ffff 60.4%,#00fffe 66.0%,#00fff7 71.7%,#00ffeb 77.3%,#00ffd9 82.9%,#00ffc2 88.6%,#00ffa5 94.2%,#00ff83 99.8%)"></i>
<i style="background:linear-gradient(90deg,#51ff00 0.2%,#1dff00 5.1%,#02ff00 7.9%,#00ff01 8.3%,#00ff37 14.3%,#00ff63 19.9%,#00ff8a 25.5%,#00ffad 31.5%,#00ffc8 37.1%,#00ffdf 43.1%,#00ffef 48.8%,#00fffa 54.8%,#00ffff 60.4%,#00fffe 66.0%,#00fff7 71.7%,#00ffeb 77.3%,#00ffd9 82.9%,#00ffc2 88.6%,#00ffa5 94.2%,#00ff83 99.8%)"></i>
<i style="background:linear-gradient(90deg,#51ff00 0.2%,#21ff00 4.8%,#00ff01 8.3%,#00ff36 14.3%,#00ff63 19.9%,#00ff89 25.5%,#00ffad 31.5%,#00ffc8 37.1%,#00ffdf 43.1%,#00ffef 48.8%,#00fffa 54.8%,#00fffe 60.4%,#00fffd 66.0%,#00fff7 71.7%,#00ffeb 77.3%,#00ffd9 82.9%,#00ffc2 88.6%,#00ffa5 94.2%,#00ff83 99.8%)"></i>
<i style="background:linear-gradient(90deg,#52ff00 0.2%,#22ff00 4.8%,#00ff01 8.3%,#00ff36 14.3%,#00ff62 19.9%,#00ff89 25.5%,#00ffac 31.5%,#00ffc8 37.1%,#00ffdf 43.1%,#00ffef 48.8%,#00fffa 54.8%,#00fffe 60.4%,#00fffd 66.0%,#00fff7 71.7%,#00ffeb 77.3%,#00ffd9 82.9%,#00ffc2 88.6%,#00ffa5 94.2%,#00ff83 99.8%)"></i>
<i style="background:linear-gradient(90deg,#52ff00 0.2%,#26ff00 4.4%,#00ff00 8.3%,#00ff32 13.9%,#00ff62 19.9%,#00ff89 25.5%,#00ffac 31.5%,#00ffc7 37.1%,#00ffdf 43.1%,#00ffef 48.8%,#00fff9 54.8%,#00fffe 60.4%,#00fffd 66.0%,#00fff7 71.7%,#00ffea 77.3%,#00ffd9 82.9%,#00ffc2 88.6%,#00ffa5 94.2%,#00ff83 99.8%)"></i>
<i style="background:linear-gradient(90deg,#52ff00 0.2%,#2aff00 4.0%,#00ff00 8.3%,#00ff35 14.3%,#00ff62 19.9%,#00ff88 25.5%,#00ffac 31.5%,#00ffc7 37.1%,#00ffde 43.1%,#00ffee 48.8%,#00fff9 54.8%,#00fffe 60.4%,#00fffd 66.0%,#00fff6 71.7%,#00ffea 77.3%,#00ffd9 82.9%,#00ffc2 88.6%,#00ffa5 94.2%,#00ff83 99.8%)"></i>
<i style="background:linear-gradient(90deg,#53ff00 0.2%,#15ff00 6.2%,#01ff00 8.3%,#00ff03 8.6%,#00ff35 14.3%,#00ff61 19.9%,#00ff88 25.5%,#00ffab 31.5%,#00ffc8 37.5%,#00ffde 43.1%,#00ffee 48.8%,#00fff9 54.8%,#00fffe 60.4%,#00fffd 66.0%,#00fff6 71.7%,#00ffea 77.3%,#00ffd9 82.9%,#00ffc2 88.6%,#00ffa5 94.2%,#00ff83 99.8%)"></i>
<i style="background:linear-gradient(90deg,#53ff00 0.2%,#19ff00 5.8%,#01ff00 8.3%,#00ff02 8.6%,#00ff37 14.6%,#00ff63 20.2%,#00ff8a 25.9%,#00ffad 31.9%,#00ffc8 37.5%,#00ffdf 43.5%,#00ffef 49.1%,#00fff9 54.8%,#00fffe 60.4%,#00fffd 66.0%,#00fff6 71.7%,#00ffea 77.3%,#00ffd9 82.9%,#00ffc1 88.6%,#00ffa5 94.2%,#00ff83 99.8%)"></i>
<i style="background:linear-gradient(90deg,#54ff00 0.2%,#19ff00 5.8%,#01ff00 8.3%,#00ff02 8.6%,#00ff34 14.3%,#00ff61 19.9%,#00ff88 25.5%,#00ffab 31.5%,#00ffc6 37.1%,#00ffde 43.1%,#00ffee 48.8%,#00fff9 54.8%,#00fffd 60.4%,#00fffc 66.0%,#00fff6 71.7%,#00ffea 77.3%,#00ffd8 82.9%,#00ffc1 88.6%,#00ffa5 94.2%,#00ff83 99.8%)"></i>
<i style="background:linear-gradient(90deg,#54ff00 0.2%,#1dff00 5.5%,#02ff00 8.3%,#00ff02 8.6%,#00ff34 14.3%,#00ff60 19.9%,#00ff87 25.5%,#00ffab 31.5%,#00ffc6 37.1%,#00ffdd 43.1%,#00ffee 48.8%,#00fff9 54.8%,#00fffd 60.4%,#00fffc 66.0%,#00fff6 71.7%,#00ffea 77.3%,#00ffd8 82.9%,#00ffc1 88.6%,#00ffa5 94.2%,#00ff83 99.8%)"></i>
<i style="background:linear-gradient(90deg,#54ff00 0.2%,#21ff00 5.1%,#02ff00 8.3%,#00ff01 8.6%,#00ff33 14.3%,#00ff60 19.9%,#00ff89 25.9%,#00ffaa 31.5%,#00ffc6 37.1%,#00ffdd 43.1%,#00ffed 48.8%,#00fff8 54.8%,#00fffd 60.4%,#00fffc 66.0%,#00fff6 71.7%,#00ffea 77.3%,#00ffd8 82.9%,#00ffc1 88.6%,#00ffa5 94.2%,#00ff83 99.8%)"></i>
<i style="background:linear-gradient(90deg,#55ff00 0.2%,#21ff00 5.1%,#00ff01 8.6%,#00ff33 14.3%,#00ff60 19.9%,#00ff87 25.5%,#00ffaa 31.5%,#00ffc6 37.1%,#00ffdd 43.1%,#00ffed 48.8%,#00fff8 54.8%,#00fffd 60.4%,#00fffc 66.0%,#00fff6 71.7%,#00ffea 77.3%,#00ffd8 82.9%,#00ffc1 88.6%,#00ffa5 94.2%,#00ff83 99.8%)"></i>
<i style="background:linear-gradient(90deg,#55ff00 0.2%,#25ff00 4.8%,#00ff01 8.6%,#00ff33 14.3%,#00ff5f 19.9%,#00ff86 25.5%,#00ffaa 31.5%,#00ffc6 37.1%,#00ffdd 43.1%,#00ffee 49.1%,#00fff8 54.8%,#00fffd 60.4%,#00fffc 66.0%,#00fff6 71.7%,#00ffea 77.3%,#00ffd8 82.9%,#00ffc1 88.6%,#00ffa5 94.2%,#00ff83 99.8%)"></i>
<i style="background:linear-gradient(90deg,#55ff00 0.2%,#25ff00 4.8%,#00ff00 8.6%,#00ff32 14.3%,#00ff5f 19.9%,#00ff88 25.9%,#00ffaa 31.5%,#00ffc5 37.1%,#00ffdd 43.1%,#00ffed 48.8%,#00fff8 54.8%,#00fffd 60.4%,#00fffc 66.0%,#00fff6 71.7%,#00ffea 77.3%,#00ffd8 82.9%,#00ffc1 88.6%,#00ffa5 94.2%,#00ff83 99.8%)"></i>
<i style="background:linear-gradient(90deg,#56ff00 0.2%,#29ff00 4.4%,#00ff00 8.6%,#00ff32 14.3%,#00ff5f 19.9%,#00ff86 25.5%,#00ffa9 31.5%,#00ffc7 37.5%,#00ffdc 43.1%,#00ffed 48.8%,#00fff8 54.8%,#00fffd 60.4%,#00fffc 66.0%,#00fff6 71.7%,#00ffea 77.3%,#00ffd8 82.9%,#00ffc1 88.6%,#00ffa5 94.2%,#00ff83 99.8%)"></i>
<i style="background:linear-gradient(90deg,#56ff00 0.2%,#2aff00 4.4%,#00ff00 8.6%,#00ff35 14.6%,#00ff61 20.2%,#00ff8a 26.2%,#00ffab 31.9%,#00ffc8 37.9%,#00ffdd 43.5%,#00ffee 49.5%,#00fff8 55.1%,#00fffd 60.7%,#00fffc 66.4%,#00fff5 72.0%,#00ffe9 77.6%,#00ffd7 83.3%,#00ffc0 88.9%,#00ffa3 94.5%,#00ff83 99.8%)"></i>
<i style="background:linear-gradient(90deg,#56ff00 0.2%,#15ff00 6.5%,#01ff00 8.6%,#00ff03 9.0%,#00ff35 14.6%,#00ff64 20.6%,#00ff8a 26.2%,#00ffad 32.2%,#00ffc9 38.2%,#00ffde 43.8%,#00ffee 49.5%,#00fff8 55.1%,#00fffd 60.7%,#00fffb 66.4%,#00fff5 72.0%,#00ffe9 77.6%,#00ffd8 82.9%,#00ffc1 88.6%,#00ffa5 94.2%,#00ff83 99.8%)"></i>
<i style="background:linear-gradient(90deg,#57ff00 0.2%,#19ff00 6.2%,#01ff00 8.6%,#00ff02 9.0%,#00ff34 14.6%,#00ff63 20.6%,#00ff8a 26.2%,#00ffad 32.2%,#00ffc9 38.2%,#00ffde 43.8%,#00ffee 49.5%,#00fff8 55.1%,#00fffc 60.7%,#00fffb 66.4%,#00fff5 72.0%,#00ffe9 77.6%,#00ffd8 82.9%,#00ffc1 88.6%,#00ffa5 94.2%,#00ff83 99.8%)"></i>
<i style="background:linear-gradient(90deg,#57ff00 0.2%,#19ff00 6.2%,#01ff00 8.6%,#00ff02 9.0%,#00ff37 15.0%,#00ff63 20.6%,#00ff8a 26.2%,#00ffac 32.2%,#00ffc8 37.9%,#00ffdd 43.5%,#00ffed 49.1%,#00fff8 55.1%,#00fffc 60.7%,#00fffb 66.4%,#00fff5 72.0%,#00ffe9 77.6%,#00ffd8 82.9%,#00ffc1 88.6%,#00ffa5 94.2%,#00ff83 99.8%)"></i>
<i style="background:linear-gradient(90deg,#57ff00 0.2%,#1dff00 5.8%,#01ff00 8.6%,#00ff02 9.0%,#00ff34 14.6%,#00ff63 20.6%,#00ff89 26.2%,#00ffac 32.2%,#00ffc7 37.9%,#00ffde 43.8%,#00ffee 49.5%,#00fff8 55.1%,#00fffc 60.7%,#00fffb 66.4%,#00fff5 72.0%,#00ffe9 77.6%,#00ffd8 82.9%,#00ffc1 88.6%,#00ffa5 94.2%,#00ff83 99.8%)"></i>
<i style="background:linear-gradient(90deg,#58ff00 0.2%,#1dff00 5.8%,#02ff00 8.6%,#00ff02 9.0%,#00ff37 15.0%,#00ff63 20.6%,#00ff8b 26.6%,#00ffac 32.2%,#00ffc7 37.9%,#00ffde 43.8%,#00ffee 49.5%,#00fff8 55.1%,#00fffc 60.7%,#00fffb 66.4%,#00fff5 72.0%,#00ffe9 77.6%,#00ffd7 83.3%,#00ffc2 88.6%,#00ffa5 94.2%,#00ff83 99.8%)"></i>
<i style="background:linear-gradient(90deg,#58ff00 0.2%,#21ff00 5.5%,#02ff00 8.6%,#00ff01 9.0%,#00ff33 14.6%,#00ff63 20.6%,#00ff89 26.2%,#00ffac 32.2%,#00ffc7 37.9%,#00ffde 43.8%,#00ffee 49.5%,#00fff8 55.1%,#00fffc 60.7%,#00fffc 66.0%,#00fff5 71.7%,#00ffea 77.3%,#00ffd8 82.9%,#00ffc2 88.6%,#00ffa5 94.2%,#00ff83 99.8%)"></i>
<i style="background:linear-gradient(90deg,#58ff00 0.2%,#21ff00 5.5%,#00ff01 9.0%,#00ff36 15.0%,#00ff62 20.6%,#00ff89 26.2%,#00ffac 32.2%,#00ffc7 37.9%,#00ffde 43.8%,#00ffed 49.5%,#00fff8 55.1%,#00fffc 60.7%,#00fffb 66.4%,#00fff5 71.7%,#00ffea 77.3%,#00ffd8 82.9%,#00ffc2 88.6%,#00ffa5 94.2%,#00ff83 99.8%)"></i>
<i style="background:linear-gradient(90deg,#58ff00 0.2%,#25ff00 5.1%,#00ff01 9.0%,#00ff33 14.6%,#00ff62 20.6%,#00ff89 26.2%,#00ffac 32.2%,#00ffc7 37.9%,#00ffde 43.8%,#00ffed 49.5%,#00fff8 55.1%,#00fffc 60.4%,#00fffc 66.0%,#00fff5 71.7%,#00ffea 77.3%,#00ffd9 82.9%,#00ffc2 88.6%,#00ffa5 94.2%,#00ff84 99.8%)"></i>
<i style="background:linear-gradient(90deg,#59ff00 0.2%,#25ff00 5.1%,#00ff01 9.0%,#00ff33 14.6%,#00ff62 20.6%,#00ff89 26.2%,#00ffaa 31.9%,#00ffc5 37.5%,#00ffdc 43.5%,#00ffed 49.5%,#00fff8 55.1%,#00fffc 60.7%,#00fffc 66.0%,#00fff5 71.7%,#00ffea 77.3%,#00ffd9 82.9%,#00ffc2 88.6%,#00ffa6 94.2%,#00ff84 99.8%)"></i>
<i style="background:linear-gradient(90deg,#59ff00 0.2%,#25ff00 5.1%,#00ff01 9.0%,#00ff36 15.0%,#00ff62 20.6%,#00ff88 26.2%,#00ffab 32.2%,#00ffc8 38.2%,#00ffde 43.8%,#00ffed 49.5%,#00fff8 55.1%,#00fffc 60.7%,#00fffc 66.0%,#00fff5 71.7%,#00ffea 77.3%,#00ffd9 82.9%,#00ffc2 88.6%,#00ffa6 94.2%,#00ff84 99.8%)"></i>
<i style="background:linear-gradient(90deg,#59ff00 0.2%,#29ff00 4.8%,#00ff00 9.0%,#00ff32 14.6%,#00ff62 20.6%,#00ff88 26.2%,#00ffab 32.2%,#00ffc8 38.2%,#00ffdd 43.8%,#00ffed 49.5%,#00fff8 55.1%,#00fffc 60.7%,#00fffc 66.0%,#00fff6 71.7%,#00ffea 77.3%,#00ffd9 82.9%,#00ffc2 88.6%,#00ffa6 94.2%,#00ff84 99.8%)"></i>
<i style="background:linear-gradient(90deg,#59ff00 0.2%,#29ff00 4.8%,#00ff00 9.0%,#00ff32 14.6%,#00ff62 20.6%,#00ff88 26.2%,#00ffab 32.2%,#00ffc7 37.9%,#00ffdc 43.5%,#00ffec 49.1%,#00fff8 55.1%,#00fffc 60.7%,#00fffb 66.4%,#00fff5 72.0%,#00ffe9 77.6%,#00ffd8 83.3%,#00ffc2 88.6%,#00ffa6 94.2%,#00ff84 99.8%)"></i>
<i style="background:linear-gradient(90deg,#59ff00 0.2%,#29ff00 4.8%,#00ff00 9.0%,#00ff32 14.6%,#00ff61 20.6%,#00ff88 26.2%,#00ffab 32.2%,#00ffc8 38.2%,#00ffdd 43.8%,#00ffed 49.5%,#00fff8 55.1%,#00fffc 60.7%,#00fffc 66.0%,#00fff6 71.7%,#00ffea 77.3%,#00ffd9 82.9%,#00ffc2 88.6%,#00ffa6 94.2%,#00ff84 99.8%)"></i>
<i style="background:linear-gradient(90deg,#5aff00 0.2%,#2dff00 4.4%,#00ff00 9.0%,#00ff35 15.0%,#00ff61 20.6%,#00ff88 26.2%,#00ffab 32.2%,#00ffc8 38.2%,#00ffdd 43.8%,#00ffed 49.5%,#00fff8 55.1%,#00fffc 60.7%,#00fffc 66.0%,#00fff6 71.7%,#00ffea 77.3%,#00ffd9 82.9%,#00ffc3 88.6%,#00ffa6 94.2%,#00ff85 99.8%)"></i>
<i style="background:linear-gradient(90deg,#5aff00 0.2%,#2dff00 4.4%,#00ff00 9.0%,#00ff35 15.0%,#00ff61 20.6%,#00ff88 26.2%,#00ffab 32.2%,#00ffc6 37.9%,#00ffdd 43.8%,#00ffed 49.5%,#00fff8 55.1%,#00fffc 60.7%,#00fffc 66.4%,#00fff6 71.7%,#00ffea 77.3%,#00ffd9 82.9%,#00ffc3 88.6%,#00ffa7 94.2%,#00ff85 99.8%)"></i>
<i style="background:linear-gradient(90deg,#5aff00 0.2%,#2dff00 4.4%,#00ff00 9.0%,#00ff35 15.0%,#00ff61 20.6%,#00ff88 26.2%,#00ffab 32.2%,#00ffc8 38.2%,#00ffdd 43.8%,#00ffed 49.5%,#00fff8 55.1%,#00fffc 60.7%,#00fffc 66.4%,#00fff5 72.0%,#00ffea 77.6%,#00ffd9 82.9%,#00ffc3 88.6%,#00ffa7 94.2%,#00ff85 99.8%)"></i>
<i style="background:linear-gradient(90deg,#5aff00 0.2%,#18ff00 6.5%,#01ff00 9.0%,#00ff03 9.3%,#00ff35 15.0%,#00ff61 20.6%,#00ff88 26.2%,#00ffab 32.2%,#00ffc8 38.2%,#00ffdd 43.8%,#00ffed 49.5%,#00fff8 55.1%,#00fffc 60.7%,#00fffc 66.4%,#00fff6 71.7%,#00ffeb 77.3%,#00ffda 82.9%,#00ffc3 88.6%,#00ffa7 94.2%,#00ff85 99.8%)"></i>
<i style="background:linear-gradient(90deg,#5aff00 0.2%,#18ff00 6.5%,#01ff00 9.0%,#00ff03 9.3%,#00ff37 15.3%,#00ff63 21.0%,#00ff8a 26.6%,#00ffab 32.2%,#00ffc6 37.9%,#00ffdc 43.5%,#00ffed 49.5%,#00fff8 55.1%,#00fffd 60.7%,#00fffc 66.4%,#00fff6 72.0%,#00ffea 77.6%,#00ffda 82.9%,#00ffc3 88.6%,#00ffa7 94.2%,#00ff85 99.8%)"></i>
<i style="background:linear-gradient(90deg,#5bff00 0.2%,#1cff00 6.2%,#01ff00 9.0%,#00ff02 9.3%,#00ff34 15.0%,#00ff61 20.6%,#00ff88 26.2%,#00ffab 32.2%,#00ffc6 37.9%,#00ffdd 43.8%,#00ffed 49.5%,#00fff8 55.1%,#00fffd 60.7%,#00fffc 66.4%,#00fff6 72.0%,#00ffea 77.6%,#00ffda 82.9%,#00ffc3 88.6%,#00ffa7 94.2%,#00ff86 99.8%)"></i>
<i style="background:linear-gradient(90deg,#5bff00 0.2%,#1cff00 6.2%,#01ff00 9.0%,#00ff02 9.3%,#00ff34 15.0%,#00ff63 21.0%,#00ff8a 26.6%,#00ffab 32.2%,#00ffc6 37.9%,#00ffdd 43.8%,#00ffed 49.5%,#00fff8 55.1%,#00fffd 60.7%,#00fffc 66.4%,#00fff6 72.0%,#00ffeb 77.3%,#00ffda 82.9%,#00ffc4 88.6%,#00ffa8 94.2%,#00ff86 99.8%)"></i>
<i style="background:linear-gradient(90deg,#5bff00 0.2%,#1cff00 6.2%,#01ff00 9.0%,#00ff02 9.3%,#00ff34 15.0%,#00ff61 20.6%,#00ff88 26.2%,#00ffab 32.2%,#00ffc6 37.9%,#00ffdc 43.5%,#00ffed 49.5%,#00fff8 55.1%,#00fffd 60.7%,#00fffc 66.0%,#00fff7 71.7%,#00ffeb 77.3%,#00ffda 82.9%,#00ffc4 88.6%,#00ffa8 94.2%,#00ff86 99.8%)"></i>
<i style="background:linear-gradient(90deg,#5bff00 0.2%,#1cff00 6.2%,#01ff00 9.0%,#00ff02 9.3%,#00ff37 15.3%,#00ff63 21.0%,#00ff8a 26.6%,#00ffab 32.2%,#00ffc6 37.9%,#00ffdd 43.8%,#00ffed 49.5%,#00fff8 55.1%,#00fffd 60.7%,#00fffc 66.4%,#00fff7 71.7%,#00ffeb 77.3%,#00ffda 82.9%,#00ffc4 88.6%,#00ffa8 94.2%,#00ff86 99.8%)"></i>
<i style="background:linear-gradient(90deg,#5bff00 0.2%,#1dff00 6.2%,#01ff00 9.0%,#00ff02 9.3%,#00ff37 15.3%,#00ff63 21.0%,#00ff8a 26.6%,#00ffab 32.2%,#00ffc8 38.2%,#00ffdd 43.8%,#00ffee 49.5%,#00fff8 55.1%,#00fffd 60.7%,#00fffc 66.4%,#00fff6 72.0%,#00ffeb 77.6%,#00ffdb 82.9%,#00ffc4 88.6%,#00ffa8 94.2%,#00ff87 99.8%)"></i>
<i style="background:linear-gradient(90deg,#5bff00 0.2%,#20ff00 5.8%,#01ff00 9.0%,#00ff02 9.3%,#00ff34 15.0%,#00ff63 21.0%,#00ff8a 26.6%,#00ffab 32.2%,#00ffc6 37.9%,#00ffdc 43.5%,#00ffed 49.1%,#00fff8 55.1%,#00fffd 60.7%,#00fffd 66.4%,#00fff6 72.0%,#00ffeb 77.6%,#00ffdb 82.9%,#00ffc4 88.6%,#00ffa8 94.2%,#00ff87 99.8%)"></i>
<i style="background:linear-gradient(90deg,#5bff00 0.2%,#20ff00 5.8%,#01ff00 9.0%,#00ff02 9.3%,#00ff34 15.0%,#00ff63 21.0%,#00ff8a 26.6%,#00ffab 32.2%,#00ffc6 37.9%,#00ffde 43.8%,#00ffee 49.5%,#00fff8 55.1%,#00fffd 60.7%,#00fffd 66.4%,#00fff7 71.7%,#00ffec 77.3%,#00ffdb 82.9%,#00ffc5 88.6%,#00ffa9 94.2%,#00ff87 99.8%)"></i>
<i style="background:linear-gradient(90deg,#5bff00 0.2%,#20ff00 5.8%,#01ff00 9.0%,#00ff02 9.3%,#00ff34 15.0%,#00ff61 20.6%,#00ff8a 26.6%,#00ffab 32.2%,#00ffc6 37.9%,#00ffdc 43.5%,#00ffed 49.1%,#00fff8 55.1%,#00fffd 60.7%,#00fffd 66.4%,#00fff7 72.0%,#00ffeb 77.6%,#00ffdb 82.9%,#00ffc5 88.6%,#00ffa9 94.2%,#00ff88 99.8%)"></i>
<i style="background:linear-gradient(90deg,#5cff00 0.2%,#20ff00 5.8%,#02ff00 9.0%,#00ff02 9.3%,#00ff34 15.0%,#00ff63 21.0%,#00ff8a 26.6%,#00ffab 32.2%,#00ffc7 37.9%,#00ffdd 43.5%,#00ffed 49.1%,#00fff8 55.1%,#00fffe 60.7%,#00fffd 66.4%,#00fff7 72.0%,#00ffeb 77.6%,#00ffdc 82.9%,#00ffc5 88.6%,#00ffa9 94.2%,#00ff88 99.8%)"></i>
<i style="background:linear-gradient(90deg,#5cff00 0.2%,#20ff00 5.8%,#02ff00 9.0%,#00ff02 9.3%,#00ff37 15.3%,#00ff63 21.0%,#00ff8a 26.6%,#00ffab 32.2%,#00ffc7 37.9%,#00ffde 43.8%,#00ffee 49.5%,#00fff9 55.1%,#00fffe 60.4%,#00fffd 66.0%,#00fff8 71.7%,#00ffed 77.3%,#00ffdc 82.9%,#00ffc5 88.6%,#00ffaa 94.2%,#00ff88 99.8%)"></i>
<i style="background:linear-gradient(90deg,#5cff00 0.2%,#20ff00 5.8%,#02ff00 9.0%,#00ff02 9.3%,#00ff34 15.0%,#00ff63 21.0%,#00ff8a 26.6%,#00ffab 32.2%,#00ffc7 37.9%,#00ffdd 43.5%,#00ffee 49.5%,#00fff9 55.1%,#00fffe 60.7%,#00fffd 66.4%,#00fff7 72.0%,#00ffec 77.6%,#00ffdc 82.9%,#00ffc6 88.6%,#00ffaa 94.2%,#00ff88 99.8%)"></i>
<i style="background:linear-gradient(90deg,#5cff00 0.2%,#20ff00 5.8%,#02ff00 9.0%,#00ff02 9.3%,#00ff37 15.3%,#00ff63 21.0%,#00ff8a 26.6%,#00ffab 32.2%,#00ffc7 37.9%,#00ffdd 43.5%,#00ffed 49.1%,#00fff9 55.1%,#00fffe 60.4%,#00fffe 66.0%,#00fff8 71.7%,#00ffed 77.3%,#00ffdc 82.9%,#00ffc6 88.6%,#00ffaa 94.2%,#00ff89 99.8%)"></i>
<i style="background:linear-gradient(90deg,#5cff00 0.2%,#21ff00 5.8%,#02ff00 9.0%,#00ff02 9.3%,#00ff34 15.0%,#00ff63 21.0%,#00ff8a 26.6%,#00ffab 32.2%,#00ffc7 37.9%,#00ffde 43.8%,#00ffee 49.5%,#00fff9 55.1%,#00fffe 60.7%,#00fffe 66.4%,#00fff8 72.0%,#00ffec 77.6%,#00ffdb 83.3%,#00ffc6 88.6%,#00ffaa 94.2%,#00ff89 99.8%)"></i>
<i style="background:linear-gradient(90deg,#5cff00 0.2%,#21ff00 5.8%,#02ff00 9.0%,#00ff02 9.3%,#00ff34 15.0%,#00ff63 21.0%,#00ff8a 26.6%,#00ffab 32.2%,#00ffc7 37.9%,#00ffde 43.8%,#00ffef 49.5%,#00fff9 55.1%,#00fffe 60.7%,#00fffe 66.4%,#00fff9 71.7%,#00ffee 77.3%,#00ffdd 82.9%,#00ffc7 88.6%,#00ffab 94.2%,#00ff89 99.8%)"></i>
<i style="background:linear-gradient(90deg,#5cff00 0.2%,#21ff00 5.8%,#02ff00 9.0%,#00ff02 9.3%,#00ff37 15.3%,#00ff63 21.0%,#00ff8a 26.6%,#00ffab 32.2%,#00ffc9 38.2%,#00ffde 43.8%,#00ffef 49.5%,#00fff9 55.1%,#00ffff 60.7%,#00fffe 66.4%,#00fff8 72.0%,#00ffed 77.6%,#00ffdd 82.9%,#00ffc7 88.6%,#00ffab 94.2%,#00ff8a 99.8%)"></i>
<i style="background:linear-gradient(90deg,#5cff00 0.2%,#21ff00 5.8%,#02ff00 9.0%,#00ff02 9.3%,#00ff34 15.0%,#00ff61 20.6%,#00ff88 26.2%,#00ffab 32.2%,#00ffc9 38.2%,#00ffdf 43.8%,#00ffef 49.5%,#00fffa 55.1%,#00ffff 60.7%,#00ffff 66.4%,#00fff9 72.0%,#00ffed 77.6%,#00ffdd 82.9%,#00ffc7 88.6%,#00ffab 94.2%,#00ff8a 99.8%)"></i>
<i style="background:linear-gradient(90deg,#5cff00 0.2%,#21ff00 5.8%,#02ff00 9.0%,#00ff02 9.3%,#00ff37 15.3%,#00ff63 21.0%,#00ff8a 26.6%,#00ffac 32.2%,#00ffc7 37.9%,#00ffdf 43.8%,#00ffef 49.5%,#00fffa 55.1%,#00ffff 60.4%,#00ffff 66.0%,#00fff9 71.7%,#00ffee 77.3%,#00ffde 82.9%,#00ffc8 88.6%,#00ffac 94.2%,#00ff8b 99.8%)"></i>
<i style="background:linear-gradient(90deg,#5cff00 0.2%,#21ff00 5.8%,#02ff00 9.0%,#00ff02 9.3%,#00ff37 15.3%,#00ff63 21.0%,#00ff8a 26.6%,#00ffac 32.2%,#00ffc9 38.2%,#00ffdf 43.8%,#00ffef 49.5%,#00fffa 55.1%,#00ffff 60.0%,#00ffff 66.4%,#00fffa 71.7%,#00ffef 77.3%,#00ffde 82.9%,#00ffc8 88.6%,#00ffac 94.2%,#00ff8b 99.8%)"></i>
<i style="background:linear-gradient(90deg,#5cff00 0.2%,#21ff00 5.8%,#02ff00 9.0%,#00ff02 9.3%,#00ff37 15.3%,#00ff64 21.0%,#00ff8a 26.6%,#00ffac 32.2%,#00ffc9 38.2%,#00ffdf 43.8%,#00ffef 49.5%,#00fffa 55.1%,#00ffff 59.7%,#00ffff 67.1%,#00fff9 72.0%,#00ffef 77.3%,#00ffde 82.9%,#00ffc8 88.6%,#00ffad 94.2%,#00ff8b 99.8%)"></i>
<i style="background:linear-gradient(90deg,#5cff00 0.2%,#20ff00 5.8%,#02ff00 9.0%,#00ff02 9.3%,#00ff34 15.0%,#00ff64 21.0%,#00ff8b 26.6%,#00ffac 32.2%,#00ffc9 38.2%,#00ffdf 43.8%,#00fff0 49.5%,#00fffa 55.1%,#00ffff 59.3%,#00feff 63.2%,#00ffff 67.4%,#00fff9 72.4%,#00ffef 77.3%,#00ffdf 82.9%,#00ffc9 88.6%,#00ffad 94.2%,#00ff8c 99.8%)"></i>
<i style="background:linear-gradient(90deg,#5cff00 0.2%,#20ff00 5.8%,#01ff00 9.0%,#00ff02 9.3%,#00ff34 15.0%,#00ff64 21.0%,#00ff8b 26.6%,#00ffac 32.2%,#00ffca 38.2%,#00ffdf 43.8%,#00fff0 49.5%,#00fffb 55.1%,#00ffff 59.0%,#00fdff 63.2%,#00ffff 67.8%,#00fff9 72.4%,#00fff0 77.3%,#00ffdf 82.9%,#00ffc9 88.6%,#00ffad 94.2%,#00ff8c 99.8%)"></i>
<i style="background:linear-gradient(90deg,#5cff00 0.2%,#20ff00 5.8%,#01ff00 9.0%,#00ff02 9.3%,#00ff37 15.3%,#00ff64 21.0%,#00ff8b 26.6%,#00ffac 32.2%,#00ffca 38.2%,#00ffe0 43.8%,#00fff0 49.5%,#00fffb 55.1%,#00ffff 58.6%,#00fdff 63.2%,#00ffff 68.1%,#00fff9 72.7%,#00fff0 77.3%,#00ffdf 82.9%,#00ffc9 88.6%,#00ffae 94.2%,#00ff8d 99.8%)"></i>
<i style="background:linear-gradient(90deg,#5cff00 0.2%,#1dff00 6.2%,#01ff00 9.0%,#00ff02 9.3%,#00ff34 15.0%,#00ff61 20.6%,#00ff89 26.2%,#00ffac 32.2%,#00ffc8 37.9%,#00ffdf 43.5%,#00ffef 49.1%,#00fffb 55.1%,#00ffff 58.3%,#00fdff 63.2%,#00ffff 68.5%,#00fffa 72.7%,#00fff0 77.3%,#00ffe0 82.9%,#00ffca 88.6%,#00ffae 94.2%,#00ff8d 99.8%)"></i>
<i style="background:linear-gradient(90deg,#5cff00 0.2%,#1dff00 6.2%,#01ff00 9.0%,#00ff02 9.3%,#00ff38 15.3%,#00ff64 21.0%,#00ff8b 26.6%,#00ffad 32.2%,#00ffc9 37.9%,#00ffe0 43.8%,#00fff1 49.5%,#00fffb 55.1%,#00ffff 58.3%,#00fdff 63.6%,#00ffff 68.8%,#00fff9 73.1%,#00fff1 77.3%,#00ffe0 82.9%,#00ffca 88.6%,#00ffaf 94.2%,#00ff8d 99.8%)"></i>
<i style="background:linear-gradient(90deg,#5cff00 0.2%,#1dff00 6.2%,#01ff00 9.0%,#00ff02 9.3%,#00ff35 15.0%,#00ff64 21.0%,#00ff8b 26.6%,#00ffad 32.2%,#00ffca 38.2%,#00ffe0 43.8%,#00fff1 49.5%,#00fffc 55.1%,#00ffff 57.9%,#00fcff 63.6%,#00ffff 69.2%,#00fffa 73.1%,#00fff1 77.3%,#00ffe1 82.9%,#00ffcb 88.6%,#00ffaf 94.2%,#00ff8e 99.8%)"></i>
<i style="background:linear-gradient(90deg,#5cff00 0.2%,#1dff00 6.2%,#01ff00 9.0%,#00ff02 9.3%,#00ff38 15.3%,#00ff64 21.0%,#00ff8b 26.6%,#00ffad 32.2%,#00ffc9 37.9%,#00ffe1 43.8%,#00fff1 49.5%,#00fffc 55.1%,#00ffff 57.6%,#00fcff 63.6%,#00ffff 69.5%,#00fff9 73.4%,#00fff0 77.6%,#00ffe1 82.9%,#00ffcb 88.6%,#00ffaf 94.2%,#00ff8e 99.8%)"></i>
<i style="background:linear-gradient(90deg,#5cff00 0.2%,#1cff00 6.2%,#01ff00 9.0%,#00ff02 9.3%,#00ff38 15.3%,#00ff65 21.0%,#00ff8c 26.6%,#00ffad 32.2%,#00ffcb 38.2%,#00ffe1 43.8%,#00fff1 49.5%,#00fffc 55.1%,#00ffff 57.2%,#00fcff 63.6%,#00ffff 69.5%,#00fffa 73.4%,#00fff2 77.3%,#00ffe1 82.9%,#00ffcb 88.6%,#00ffb0 94.2%,#00ff8f 99.8%)"></i>
<i style="background:linear-gradient(90deg,#5bff00 0.2%,#1cff00 6.2%,#01ff00 9.0%,#00ff03 9.3%,#00ff35 15.0%,#00ff65 21.0%,#00ff8c 26.6%,#00ffad 32.2%,#00ffc9 37.9%,#00ffe1 43.8%,#00fff2 49.5%,#00fffd 55.1%,#00ffff 56.9%,#00fbff 63.6%,#00ffff 69.9%,#00fffa 73.4%,#00fff2 77.3%,#00ffe2 82.9%,#00ffcc 88.6%,#00ffb0 94.2%,#00ff8f 99.8%)"></i>
<i style="background:linear-gradient(90deg,#5bff00 0.2%,#19ff00 6.5%,#01ff00 9.0%,#00ff03 9.3%,#00ff38 15.3%,#00ff65 21.0%,#00ff8c 26.6%,#00ffae 32.2%,#00ffca 37.9%,#00ffe1 43.8%,#00fff2 49.5%,#00fffd 55.1%,#00ffff 56.9%,#00fbff 63.6%,#00ffff 70.2%,#00fff2 77.3%,#00ffe2 82.9%,#00ffcc 88.6%,#00ffb1 94.2%,#00ff90 99.8%)"></i>
<i style="background:linear-gradient(90deg,#5bff00 0.2%,#2eff00 4.4%,#01ff00 9.0%,#00ff35 15.0%,#00ff62 20.6%,#00ff8c 26.6%,#00ffae 32.2%,#00ffca 37.9%,#00ffe2 43.8%,#00fff2 49.5%,#00fffd 55.1%,#00ffff 56.5%,#00fbff 63.6%,#00ffff 70.6%,#00fff3 77.3%,#00ffe3 82.9%,#00ffcd 88.6%,#00ffb1 94.2%,#00ff90 99.8%)"></i>
<i style="background:linear-gradient(90deg,#5bff00 0.2%,#2aff00 4.8%,#00ff00 9.0%,#00ff36 15.0%,#00ff63 20.6%,#00ff8a 26.2%,#00ffae 32.2%,#00ffcc 38.2%,#00ffe2 43.8%,#00fff2 49.5%,#00fffe 55.1%,#00ffff 56.2%,#00faff 63.6%,#00ffff 71.0%,#00fff3 77.3%,#00ffe3 82.9%,#00ffcd 88.6%,#00ffb2 94.2%,#00ff91 99.8%)"></i>
<i style="background:linear-gradient(90deg,#5bff00 0.2%,#2eff00 4.4%,#00ff00 9.0%,#00ff36 15.0%,#00ff63 20.6%,#00ff8a 26.2%,#00ffae 32.2%,#00ffcc 38.2%,#00ffe2 43.8%,#00fff3 49.5%,#00fffe 55.1%,#00faff 63.6%,#00fbff 67.4%,#00ffff 71.3%,#00fff4 77.3%,#00ffe3 82.9%,#00ffce 88.6%,#00ffb2 94.2%,#00ff91 99.8%)"></i>
<i style="background:linear-gradient(90deg,#5bff00 0.2%,#2eff00 4.4%,#00ff00 9.0%,#00ff36 15.0%,#00ff63 20.6%,#00ff8b 26.2%,#00ffaf 32.2%,#00ffcc 38.2%,#00ffe2 43.8%,#00fff3 49.5%,#00fffe 55.1%,#00fbff 59.7%,#00f9ff 63.6%,#00fbff 67.4%,#00ffff 71.7%,#00fff4 77.3%,#00ffe4 82.9%,#00ffce 88.6%,#00ffb3 94.2%,#00ff92 99.8%)"></i>
<i style="background:linear-gradient(90deg,#5bff00 0.2%,#2aff00 4.8%,#00ff00 9.0%,#00ff33 14.6%,#00ff63 20.6%,#00ff8b 26.2%,#00ffaf 32.2%,#00ffcb 37.9%,#00ffe3 43.8%,#00fff3 49.5%,#00ffff 55.1%,#00faff 59.7%,#00f9ff 63.6%,#00faff 67.4%,#00ffff 71.7%,#00fff4 77.6%,#00ffe4 82.9%,#00ffcf 88.6%,#00ffb3 94.2%,#00ff92 99.8%)"></i>
<i style="background:linear-gradient(90deg,#5bff00 0.2%,#2aff00 4.8%,#00ff00 9.0%,#00ff36 15.0%,#00ff63 20.6%,#00ff8d 26.6%,#00ffaf 32.2%,#00ffcb 37.9%,#00ffe3 43.8%,#00fff4 49.5%,#00ffff 55.1%,#00faff 59.3%,#00f9ff 63.6%,#00faff 67.8%,#00ffff 72.0%,#00fff5 77.3%,#00ffe5 82.9%,#00ffcf 88.6%,#00ffb4 94.2%,#00ff93 99.8%)"></i>
<i style="background:linear-gradient(90deg,#5aff00 0.2%,#29ff00 4.8%,#00ff00 9.0%,#00ff34 14.6%,#00ff64 20.6%,#00ff8b 26.2%,#00ffad 31.9%,#00ffca 37.5%,#00ffe1 43.1%,#00fff2 48.8%,#00ffff 54.8%,#00faff 59.3%,#00f8ff 63.6%,#00faff 67.8%,#00ffff 72.4%,#00fff5 77.3%,#00ffe5 82.9%,#00ffd0 88.6%,#00ffb4 94.2%,#00ff93 99.8%)"></i>
<i style="background:linear-gradient(90deg,#5aff00 0.2%,#26ff00 5.1%,#00ff01 9.0%,#00ff34 14.6%,#00ff61 20.2%,#00ff89 25.9%,#00ffac 31.5%,#00ffc9 37.1%,#00ffe0 42.8%,#00fff2 48.4%,#00ffff 54.4%,#00faff 59.3%,#00f8ff 63.6%,#00faff 68.1%,#00ffff 72.7%,#00fff6 77.3%,#00ffe6 82.9%,#00ffd0 88.6%,#00ffb5 94.2%,#00ff94 99.8%)"></i>
<i style="background:linear-gradient(90deg,#5aff00 0.2%,#25ff00 5.1%,#00ff01 9.0%,#00ff34 14.6%,#00ff62 20.2%,#00ff8c 26.2%,#00ffae 31.9%,#00ffcb 37.5%,#00ffe2 43.1%,#00fff3 48.8%,#00ffff 54.4%,#00f9ff 59.0%,#00f7ff 63.6%,#00f9ff 68.1%,#00ffff 73.1%,#00fff7 76.9%,#00ffe6 82.9%,#00ffd1 88.6%,#00ffb5 94.2%,#00ff94 99.8%)"></i>
<i style="background:linear-gradient(90deg,#5aff00 0.2%,#25ff00 5.1%,#00ff01 9.0%,#00ff34 14.6%,#00ff62 20.2%,#00ff8a 25.9%,#00ffac 31.5%,#00ffc9 37.1%,#00ffe1 42.8%,#00fff3 48.4%,#00ffff 54.0%,#00f9ff 59.0%,#00f7ff 63.6%,#00f9ff 68.1%,#00ffff 73.1%,#00fff8 76.9%,#00ffe8 82.6%,#00ffd3 88.2%,#00ffb8 93.8%,#00ff95 99.8%)"></i>
<i style="background:linear-gradient(90deg,#5aff00 0.2%,#21ff00 5.5%,#02ff00 8.6%,#00ff01 9.0%,#00ff34 14.6%,#00ff5f 19.9%,#00ff88 25.5%,#00ffab 31.2%,#00ffc8 36.8%,#00ffe0 42.4%,#00fff2 48.1%,#00ffff 53.7%,#00f9ff 59.0%,#00f7ff 63.9%,#00f9ff 68.5%,#00ffff 73.4%,#00fff9 76.6%,#00ffe8 82.6%,#00ffd3 88.2%,#00ffb6 94.2%,#00ff96 99.8%)"></i>
<i style="background:linear-gradient(90deg,#5aff00 0.2%,#21ff00 5.5%,#02ff00 8.6%,#00ff02 9.0%,#00ff35 14.6%,#00ff62 20.2%,#00ff8a 25.9%,#00ffad 31.5%,#00ffca 37.1%,#00ffe1 42.8%,#00fff3 48.4%,#00ffff 53.7%,#00f8ff 59.0%,#00f6ff 63.9%,#00f8ff 68.8%,#00ffff 73.8%,#00fffa 76.6%,#00ffe9 82.6%,#00ffd4 88.2%,#00ffb7 94.2%,#00ff96 99.8%)"></i>
<i style="background:linear-gradient(90deg,#59ff00 0.2%,#1dff00 5.8%,#02ff00 8.6%,#00ff02 9.0%,#00ff35 14.6%,#00ff60 19.9%,#00ff88 25.5%,#00ffab 31.2%,#00ffc9 36.8%,#00ffe0 42.4%,#00fff2 47.7%,#00ffff 53.3%,#00f8ff 58.6%,#00f6ff 63.9%,#00f8ff 68.8%,#00ffff 74.1%,#00fffa 76.6%,#00ffeb 82.2%,#00ffd4 88.2%,#00ffb9 93.8%,#00ff97 99.8%)"></i>
<i style="background:linear-gradient(90deg,#59ff00 0.2%,#1dff00 5.8%,#01ff00 8.6%,#00ff02 9.0%,#00ff35 14.6%,#00ff60 19.9%,#00ff89 25.5%,#00ffac 31.2%,#00ffc7 36.4%,#00ffe0 42.1%,#00fff1 47.4%,#00ffff 53.0%,#00f8ff 58.6%,#00f5ff 63.9%,#00f8ff 69.2%,#00feff 74.1%,#00fffb 76.2%,#00ffeb 82.2%,#00ffd5 88.2%,#00ffb8 94.2%,#00ff97 99.8%)"></i>
<i style="background:linear-gradient(90deg,#59ff00 0.2%,#19ff00 6.2%,#01ff00 8.6%,#00ff02 9.0%,#00ff33 14.3%,#00ff61 19.9%,#00ff89 25.5%,#00ffac 31.2%,#00ffc8 36.4%,#00ffe0 42.1%,#00fff3 47.7%,#00ffff 53.0%,#00f7ff 58.3%,#00f5ff 63.9%,#00f7ff 69.2%,#00ffff 74.5%,#00fffc 76.2%,#00ffec 82.2%,#00ffd5 88.2%,#00ffb9 94.2%,#00ff98 99.8%)"></i>
<i style="background:linear-gradient(90deg,#59ff00 0.2%,#19ff00 6.2%,#01ff00 8.6%,#00ff03 9.0%,#00ff36 14.6%,#00ff61 19.9%,#00ff87 25.2%,#00ffaa 30.8%,#00ffc8 36.4%,#00ffdf 41.7%,#00fff1 47.0%,#00ffff 52.6%,#00f7ff 58.3%,#00f4ff 63.9%,#00f7ff 69.2%,#00ffff 74.8%,#00fffc 76.2%,#00ffed 81.9%,#00ffd7 87.9%,#00ffbb 93.8%,#00ff99 99.8%)"></i>
<i style="background:linear-gradient(90deg,#58ff00 0.2%,#2bff00 4.4%,#01ff00 8.6%,#00ff33 14.3%,#00ff5e 19.5%,#00ff85 24.8%,#00ffa9 30.5%,#00ffc5 35.7%,#00ffde 41.4%,#00fff1 47.0%,#00ffff 52.3%,#00f6ff 58.3%,#00f4ff 63.9%,#00f6ff 69.2%,#00fffe 75.9%,#00ffee 81.9%,#00ffd8 87.9%,#00ffbc 93.8%,#00ff99 99.8%)"></i>
<i style="background:linear-gradient(90deg,#58ff00 0.2%,#2bff00 4.4%,#00ff00 8.6%,#00ff33 14.3%,#00ff5f 19.5%,#00ff88 25.2%,#00ffa9 30.5%,#00ffc5 35.7%,#00ffde 41.4%,#00fff1 46.7%,#00ffff 52.3%,#00f6ff 58.3%,#00f3ff 63.9%,#00f6ff 69.5%,#00fffe 75.9%,#00ffef 81.9%,#00ffd9 87.9%,#00ffbc 93.8%,#00ff9a 99.8%)"></i>
<i style="background:linear-gradient(90deg,#58ff00 0.2%,#2aff00 4.4%,#00ff00 8.6%,#00ff34 14.3%,#00ff5f 19.5%,#00ff86 24.8%,#00ffa9 30.5%,#00ffc6 35.7%,#00ffdd 41.0%,#00fff0 46.3%,#00ffff 51.9%,#00f6ff 57.9%,#00f3ff 63.9%,#00f6ff 69.9%,#00ffff 75.9%,#00ffef 81.9%,#00ffd9 87.9%,#00ffbd 93.8%,#00ff9b 99.8%)"></i>
<i style="background:linear-gradient(90deg,#58ff00 0.2%,#26ff00 4.8%,#00ff00 8.6%,#00ff31 13.9%,#00ff5f 19.5%,#00ff86 24.8%,#00ffaa 30.5%,#00ffc6 35.7%,#00ffdf 41.4%,#00fff2 46.7%,#00ffff 51.9%,#00f5ff 57.9%,#00f2ff 63.9%,#00f5ff 69.9%,#00ffff 76.2%,#00ffef 82.2%,#00ffda 87.9%,#00ffbe 93.8%,#00ff9b 99.8%)"></i>
<i style="background:linear-gradient(90deg,#57ff00 0.2%,#26ff00 4.8%,#00ff01 8.6%,#00ff31 13.9%,#00ff5d 19.2%,#00ff86 24.8%,#00ffa8 30.1%,#00ffc5 35.4%,#00ffdd 40.7%,#00fff0 46.0%,#00ffff 51.6%,#00f5ff 57.9%,#00f2ff 63.9%,#00f5ff 69.9%,#00fffe 76.6%,#00ffef 82.2%,#00ffd9 88.2%,#00ffbc 94.2%,#00ff9c 99.8%)"></i>
<i style="background:linear-gradient(90deg,#57ff00 0.2%,#22ff00 5.1%,#00ff01 8.6%,#00ff32 13.9%,#00ff5d 19.2%,#00ff84 24.5%,#00ffa9 30.1%,#00ffc5 35.4%,#00ffdd 40.7%,#00fff0 46.0%,#00ffff 51.2%,#00f5ff 57.6%,#00f1ff 63.9%,#00f5ff 70.2%,#00ffff 76.6%,#00ffef 82.6%,#00ffda 88.2%,#00ffbf 93.8%,#00ff9d 99.8%)"></i>
<i style="background:linear-gradient(90deg,#57ff00 0.2%,#1eff00 5.5%,#02ff00 8.3%,#00ff01 8.6%,#00ff35 14.3%,#00ff61 19.5%,#00ff87 24.8%,#00ffa9 30.1%,#00ffc6 35.4%,#00ffde 40.7%,#00fff1 46.0%,#00ffff 51.2%,#00f4ff 57.6%,#00f1ff 63.9%,#00f4ff 70.2%,#00ffff 76.9%,#00ffef 82.6%,#00ffd9 88.6%,#00ffbe 94.2%,#00ff9d 99.8%)"></i>
<i style="background:linear-gradient(90deg,#56ff00 0.2%,#1eff00 5.5%,#02ff00 8.3%,#00ff02 8.6%,#00ff32 13.9%,#00ff5e 19.2%,#00ff85 24.5%,#00ffa7 29.8%,#00ffc4 35.0%,#00ffdd 40.3%,#00fff0 45.6%,#00ffff 50.9%,#00f4ff 57.6%,#00f0ff 63.9%,#00f4ff 70.6%,#00ffff 77.3%,#00ffef 82.9%,#00ffd9 88.6%,#00ffbe 94.2%,#00ff9e 99.8%)"></i>
<i style="background:linear-gradient(90deg,#56ff00 0.2%,#1aff00 5.8%,#01ff00 8.3%,#00ff02 8.6%,#00ff33 13.9%,#00ff5f 19.2%,#00ff86 24.5%,#00ffa8 29.8%,#00ffc3 34.7%,#00ffdc 40.0%,#00fff0 45.2%,#00ffff 50.5%,#00f3ff 57.6%,#00efff 63.9%,#00f3ff 70.6%,#00fffe 77.6%,#00ffef 82.9%,#00ffda 88.6%,#00ffbf 94.2%,#00ff9f 99.8%)"></i>
<i style="background:linear-gradient(90deg,#56ff00 0.2%,#16ff00 6.2%,#01ff00 8.3%,#00ff02 8.6%,#00ff33 13.9%,#00ff5f 19.2%,#00ff86 24.5%,#00ffa8 29.8%,#00ffc5 35.0%,#00ffde 40.3%,#00fff1 45.6%,#00ffff 50.5%,#00f3ff 57.2%,#00efff 63.9%,#00f3ff 71.0%,#00ffff 77.6%,#00fff0 82.9%,#00ffdb 88.6%,#00ffc0 94.2%,#00ff9f 99.8%)"></i>
<i style="background:linear-gradient(90deg,#55ff00 0.2%,#16ff00 6.2%,#01ff00 8.3%,#00ff03 8.6%,#00ff34 13.9%,#00ff5d 18.8%,#00ff84 24.1%,#00ffa6 29.4%,#00ffc4 34.7%,#00ffdd 40.0%,#00ffef 44.9%,#00ffff 50.2%,#00f2ff 57.2%,#00eeff 64.3%,#00f2ff 71.0%,#00ffff 78.0%,#00fff0 83.3%,#00ffda 88.9%,#00ffc1 94.2%,#00ffa0 99.8%)"></i>
<i style="background:linear-gradient(90deg,#55ff00 0.2%,#27ff00 4.4%,#00ff00 8.3%,#00ff31 13.6%,#00ff5d 18.8%,#00ff84 24.1%,#00ffa7 29.4%,#00ffc5 34.7%,#00ffdd 40.0%,#00fff1 45.2%,#00ffff 50.2%,#00f2ff 57.2%,#00eeff 64.3%,#00f2ff 71.3%,#00ffff 78.3%,#00ffef 83.6%,#00ffd9 89.3%,#00ffbf 94.5%,#00ffa1 99.8%)"></i>
<i style="background:linear-gradient(90deg,#55ff00 0.2%,#27ff00 4.4%,#00ff00 8.3%,#00ff31 13.6%,#00ff5d 18.8%,#00ff85 24.1%,#00ffa5 29.0%,#00ffc3 34.3%,#00ffdc 39.6%,#00fff0 44.9%,#00ffff 49.8%,#00f1ff 57.2%,#00edff 64.3%,#00f2ff 71.3%,#00fffe 78.7%,#00ffee 84.0%,#00ffda 89.3%,#00ffc0 94.5%,#00ffa2 99.8%)"></i>
<i style="background:linear-gradient(90deg,#54ff00 0.2%,#27ff00 4.4%,#00ff00 8.3%,#00ff32 13.6%,#00ff5e 18.8%,#00ff83 23.8%,#00ffa6 29.0%,#00ffc2 34.0%,#00ffdb 39.3%,#00ffef 44.2%,#00ffff 49.5%,#00f1ff 56.9%,#00edff 64.3%,#00f1ff 71.3%,#00ffff 78.7%,#00ffef 84.0%,#00ffda 89.3%,#00ffc1 94.5%,#00ffa2 99.8%)"></i>
<i style="background:linear-gradient(90deg,#54ff00 0.2%,#23ff00 4.8%,#00ff01 8.3%,#00ff32 13.6%,#00ff5e 18.8%,#00ff86 24.1%,#00ffa6 29.0%,#00ffc2 34.0%,#00ffdc 39.3%,#00fff0 44.5%,#00ffff 49.5%,#00f1ff 56.9%,#00ecff 64.3%,#00f1ff 71.7%,#00ffff 79.0%,#00fff0 84.0%,#00ffdb 89.3%,#00ffc2 94.5%,#00ffa3 99.8%)"></i>
<i style="background:linear-gradient(90deg,#54ff00 0.2%,#1fff00 5.1%,#02ff00 7.9%,#00ff01 8.3%,#00ff32 13.6%,#00ff5c 18.5%,#00ff84 23.8%,#00ffa5 28.7%,#00ffc1 33.6%,#00ffdb 38.9%,#00ffee 43.8%,#00ffff 49.1%,#00f6ff 53.0%,#00f0ff 56.9%,#00ebff 64.3%,#00f0ff 71.7%,#00ffff 79.4%,#00ffee 84.7%,#00ffda 89.6%,#00ffc2 94.5%,#00ffa4 99.8%)"></i>
<i style="background:linear-gradient(90deg,#53ff00 0.2%,#1bff00 5.5%,#02ff00 7.9%,#00ff02 8.3%,#00ff30 13.2%,#00ff5a 18.1%,#00ff82 23.4%,#00ffa3 28.3%,#00ffc2 33.6%,#00ffda 38.6%,#00ffee 43.5%,#00fffe 48.8%,#00efff 56.9%,#00ebff 64.3%,#00efff 71.7%,#00f6ff 75.5%,#00ffff 79.4%,#00fff0 84.3%,#00ffdb 89.6%,#00ffc1 94.9%,#00ffa5 99.8%)"></i>
<i style="background:linear-gradient(90deg,#53ff00 0.2%,#17ff00 5.8%,#01ff00 7.9%,#00ff02 8.3%,#00ff30 13.2%,#00ff5d 18.5%,#00ff82 23.4%,#00ffa6 28.7%,#00ffc2 33.6%,#00ffdc 38.9%,#00fff0 43.8%,#00ffff 48.8%,#00f6ff 52.6%,#00efff 56.5%,#00ebff 60.4%,#00eaff 64.3%,#00ebff 68.1%,#00efff 72.0%,#00f6ff 75.9%,#00ffff 79.8%,#00fff0 84.7%,#00ffdc 89.6%,#00ffc4 94.5%,#00ffa5 99.8%)"></i>
<i style="background:linear-gradient(90deg,#52ff00 0.2%,#13ff00 6.2%,#01ff00 7.9%,#00ff03 8.3%,#00ff31 13.2%,#00ff5b 18.1%,#00ff83 23.4%,#00ffa4 28.3%,#00ffc1 33.3%,#00ffd9 38.2%,#00ffef 43.5%,#00ffff 48.4%,#00f5ff 52.6%,#00efff 56.5%,#00ebff 60.4%,#00e9ff 64.3%,#00ebff 68.1%,#00efff 72.0%,#00f5ff 75.9%,#00ffff 80.1%,#00ffef 85.0%,#00ffdb 90.0%,#00ffc3 94.9%,#00ffa6 99.8%)"></i>
<i style="background:linear-gradient(90deg,#52ff00 0.2%,#28ff00 4.0%,#00ff00 7.9%,#00ff31 13.2%,#00ff5b 18.1%,#00ff83 23.4%,#00ffa4 28.3%,#00ffc1 33.3%,#00ffdb 38.6%,#00ffef 43.5%,#00ffff 48.4%,#00f5ff 52.3%,#00eeff 56.2%,#00eaff 60.0%,#00e9ff 64.3%,#00eaff 68.5%,#00eeff 72.4%,#00f5ff 76.2%,#00ffff 80.5%,#00ffee 85.4%,#00ffdc 90.0%,#00ffc4 94.9%,#00ffa7 99.8%)"></i>
<i style="background:linear-gradient(90deg,#52ff00 0.2%,#27ff00 4.0%,#00ff00 7.9%,#00ff32 13.2%,#00ff5c 18.1%,#00ff81 23.1%,#00ffa3 28.0%,#00ffc0 32.9%,#00ffda 38.2%,#00ffef 43.1%,#00ffff 48.1%,#00f5ff 52.3%,#00eeff 56.2%,#00eaff 60.0%,#00e8ff 64.3%,#00e9ff 68.1%,#00eeff 72.4%,#00f5ff 76.6%,#00ffff 80.5%,#00fff1 85.0%,#00ffdd 90.0%,#00ffc4 94.9%,#00ffa8 99.8%)"></i>
<i style="background:linear-gradient(90deg,#51ff00 0.2%,#23ff00 4.4%,#00ff00 7.9%,#00ff2f 12.9%,#00ff59 17.8%,#00ff82 23.1%,#00ffa3 28.0%,#00ffc0 32.9%,#00ffd9 37.9%,#00ffee 42.8%,#00ffff 47.7%,#00f4ff 52.3%,#00edff 56.2%,#00e9ff 60.0%,#00e7ff 64.3%,#00e9ff 68.1%,#00edff 72.4%,#00f4ff 76.6%,#00ffff 80.8%,#00fff0 85.4%,#00ffdc 90.3%,#00ffc5 94.9%,#00ffa9 99.8%)"></i>
<i style="background:linear-gradient(90deg,#51ff00 0.2%,#1fff00 4.8%,#00ff01 7.9%,#00ff2f 12.9%,#00ff5d 18.1%,#00ff82 23.1%,#00ffa4 28.0%,#00ffc1 32.9%,#00ffda 37.9%,#00ffef 42.8%,#00ffff 47.7%,#00f4ff 51.9%,#00ecff 56.2%,#00e8ff 60.4%,#00e7ff 64.3%,#00e8ff 68.5%,#00edff 72.7%,#00f4ff 76.9%,#00ffff 81.2%,#00ffef 85.7%,#00ffdd 90.3%,#00ffc4 95.2%,#00ffaa 99.8%)"></i>
<i style="background:linear-gradient(90deg,#50ff00 0.2%,#1bff00 5.1%,#02ff00 7.6%,#00ff01 7.9%,#00ff30 12.9%,#00ff5a 17.8%,#00ff80 22.7%,#00ffa2 27.6%,#00ffc0 32.6%,#00ffd9 37.5%,#00ffee 42.4%,#00ffff 47.4%,#00f4ff 51.6%,#00ecff 55.8%,#00e8ff 60.0%,#00e6ff 64.3%,#00e7ff 68.5%,#00ecff 72.7%,#00f4ff 76.9%,#00fffe 81.5%,#00ffef 86.1%,#00ffdc 90.7%,#00ffc5 95.2%,#00ffaa 99.8%)"></i>
<i style="background:linear-gradient(90deg,#50ff00 0.2%,#17ff00 5.5%,#02ff00 7.6%,#00ff02 7.9%,#00ff30 12.9%,#00ff5b 17.8%,#00ff81 22.7%,#00ffa3 27.6%,#00ffc0 32.6%,#00ffda 37.5%,#00fff0 42.8%,#00ffff 47.4%,#00f4ff 51.6%,#00ecff 55.8%,#00e7ff 60.0%,#00e5ff 64.6%,#00e7ff 68.8%,#00ecff 73.1%,#00f4ff 77.3%,#00ffff 81.5%,#00fff0 86.1%,#00ffdd 90.7%,#00ffc6 95.2%,#00ffab 99.8%)"></i>
<i style="background:linear-gradient(90deg,#4fff00 0.2%,#13ff00 5.8%,#01ff00 7.6%,#00ff02 7.9%,#00ff31 12.9%,#00ff58 17.4%,#00ff7f 22.4%,#00ffa1 27.3%,#00ffbf 32.2%,#00ffd8 37.1%,#00ffee 42.1%,#00ffff 47.0%,#00f3ff 51.6%,#00ebff 55.8%,#00e6ff 60.0%,#00e4ff 64.3%,#00e6ff 68.5%,#00ebff 73.1%,#00f3ff 77.3%,#00ffff 81.9%,#00ffef 86.4%,#00ffdc 91.0%,#00ffc5 95.6%,#00ffac 99.8%)"></i>
<i style="background:linear-gradient(90deg,#4fff00 0.2%,#01ff00 7.6%,#00ff32 12.9%,#00ff59 17.4%,#00ff7f 22.4%,#00ffa2 27.3%,#00ffbf 32.2%,#00ffd7 36.8%,#00ffed 41.7%,#00ffff 46.7%,#00f2ff 51.6%,#00eaff 55.8%,#00e5ff 60.0%,#00e4ff 64.6%,#00e5ff 68.8%,#00ebff 73.4%,#00f3ff 77.6%,#00ffff 82.2%,#00fff0 86.4%,#00ffdd 91.0%,#00ffc7 95.2%,#00ffad 99.8%)"></i>
<i style="background:linear-gradient(90deg,#4eff00 0.2%,#00ff00 7.6%,#00ff2f 12.5%,#00ff5a 17.4%,#00ff80 22.4%,#00ffa2 27.3%,#00ffc0 32.2%,#00ffda 37.1%,#00ffef 42.1%,#00ffff 46.7%,#00f3ff 50.9%,#00eaff 55.5%,#00e5ff 60.0%,#00e3ff 64.6%,#00e5ff 69.2%,#00eaff 73.4%,#00f2ff 77.6%,#00ffff 82.2%,#00fff1 86.4%,#00ffdd 91.0%,#00ffc8 95.2%,#00ffae 99.8%)"></i>
<i style="background:linear-gradient(90deg,#4eff00 0.2%,#20ff00 4.4%,#00ff00 7.6%,#00ff2f 12.5%,#00ff57 17.1%,#00ff7e 22.0%,#00ffa0 26.9%,#00ffbd 31.5%,#00ffd7 36.4%,#00ffed 41.4%,#00ffff 46.3%,#00f2ff 50.9%,#00e9ff 55.5%,#00e4ff 60.0%,#00e2ff 64.6%,#00e4ff 69.2%,#00eaff 73.8%,#00f3ff 78.3%,#00ffff 82.6%,#00fff0 86.8%,#00ffde 91.0%,#00ffc9 95.2%,#00ffaf 99.8%)"></i>
<i style="background:linear-gradient(90deg,#4dff00 0.2%,#1cff00 4.8%,#00ff01 7.6%,#00ff30 12.5%,#00ff58 17.1%,#00ff7f 22.0%,#00ffa1 26.9%,#00ffbf 31.9%,#00ffd9 36.8%,#00ffef 41.7%,#00ffff 46.3%,#00f2ff 50.9%,#00e9ff 55.5%,#00e3ff 60.0%,#00e2ff 64.6%,#00e3ff 69.2%,#00e9ff 73.8%,#00f2ff 78.3%,#00ffff 82.9%,#00fff0 87.1%,#00ffdd 91.4%,#00ffc8 95.6%,#00ffb0 99.8%)"></i>
<i style="background:linear-gradient(90deg,#4dff00 0.2%,#18ff00 5.1%,#02ff00 7.2%,#00ff02 7.6%,#00ff31 12.5%,#00ff5b 17.4%,#00ff82 22.4%,#00ffa2 26.9%,#00ffc0 31.9%,#00ffd8 36.4%,#00ffee 41.4%,#00ffff 46.0%,#00f2ff 50.5%,#00e8ff 55.5%,#00e3ff 60.0%,#00e1ff 64.6%,#00e3ff 69.2%,#00e8ff 73.8%,#00f1ff 78.3%,#00ffff 83.3%,#00ffef 87.5%,#00ffdd 91.7%,#00ffc9 95.6%,#00ffb0 99.8%)"></i>
<i style="background:linear-gradient(90deg,#4cff00 0.2%,#13ff00 5.5%,#01ff00 7.2%,#00ff02 7.6%,#00ff31 12.5%,#00ff59 17.1%,#00ff80 22.0%,#00ffa0 26.6%,#00ffbc 31.2%,#00ffd7 36.1%,#00ffec 40.7%,#00ffff 45.6%,#00f1ff 50.5%,#00e8ff 55.1%,#00e2ff 60.0%,#00e0ff 64.6%,#00e2ff 69.2%,#00e8ff 74.1%,#00f1ff 78.7%,#00ffff 83.3%,#00fff1 87.1%,#00ffdf 91.4%,#00ffca 95.6%,#00ffb1 99.8%)"></i>
<i style="background:linear-gradient(90deg,#4cff00 0.2%,#0fff00 5.8%,#01ff00 7.2%,#00ff03 7.6%,#00ff2e 12.1%,#00ff5a 17.1%,#00ff7e 21.7%,#00ffa1 26.6%,#00ffbd 31.2%,#00ffd8 36.1%,#00ffee 41.0%,#00ffff 45.6%,#00f1ff 50.2%,#00e7ff 55.1%,#00e1ff 59.7%,#00dfff 64.6%,#00e1ff 69.2%,#00e7ff 74.1%,#00f1ff 79.0%,#00ffff 83.6%,#00fff1 87.5%,#00ffde 91.7%,#00ffcb 95.6%,#00ffb2 99.8%)"></i>
<i style="background:linear-gradient(90deg,#4bff00 0.2%,#00ff00 7.2%,#00ff2f 12.1%,#00ff57 16.7%,#00ff7c 21.3%,#00ff9f 26.2%,#00ffbc 30.8%,#00ffd7 35.7%,#00ffec 40.3%,#00ffff 45.2%,#00f1ff 50.2%,#00e6ff 55.1%,#00e1ff 59.7%,#00deff 64.6%,#00e0ff 69.2%,#00e6ff 74.1%,#00f1ff 79.0%,#00ffff 84.0%,#00fff0 87.9%,#00ffde 92.1%,#00ffca 96.0%,#00ffb3 99.8%)"></i>
<i style="background:linear-gradient(90deg,#4bff00 0.2%,#20ff00 4.0%,#00ff00 7.2%,#00ff2c 11.8%,#00ff58 16.7%,#00ff7c 21.3%,#00ffa0 26.2%,#00ffbe 31.2%,#00ffd7 35.7%,#00ffee 40.7%,#00feff 45.2%,#00f1ff 49.8%,#00e6ff 54.8%,#00e0ff 59.7%,#00deff 64.6%,#00dfff 69.2%,#00e5ff 74.1%,#00f0ff 79.0%,#00feff 84.0%,#00fff3 87.5%,#00ffe0 91.7%,#00ffcb 96.0%,#00ffb4 99.8%)"></i>
<i style="background:linear-gradient(90deg,#4aff00 0.2%,#1cff00 4.4%,#00ff01 7.2%,#00ff2d 11.8%,#00ff58 16.7%,#00ff7d 21.3%,#00ffa0 26.2%,#00ffbd 30.8%,#00ffd8 35.7%,#00ffed 40.3%,#00ffff 44.9%,#00f0ff 49.8%,#00e5ff 54.8%,#00dfff 59.7%,#00ddff 64.6%,#00dfff 69.5%,#00e5ff 74.5%,#00f0ff 79.4%,#00ffff 84.3%,#00fff2 87.9%,#00ffdf 92.1%,#00ffcc 96.0%,#00ffb5 99.8%)"></i>
<i style="background:linear-gradient(90deg,#4aff00 0.2%,#18ff00 4.8%,#02ff00 6.9%,#00ff01 7.2%,#00ff2e 11.8%,#00ff56 16.4%,#00ff7e 21.3%,#00ff9e 25.9%,#00ffbc 30.5%,#00ffd5 35.0%,#00ffeb 39.6%,#00ffff 44.5%,#00efff 49.8%,#00e5ff 54.8%,#00deff 59.7%,#00dcff 64.6%,#00deff 69.9%,#00e5ff 74.8%,#00f0ff 79.8%,#00ffff 84.7%,#00fff2 88.2%,#00ffe0 92.1%,#00ffcd 96.0%,#00ffb6 99.8%)"></i>
<i style="background:linear-gradient(90deg,#49ff00 0.2%,#10ff00 5.5%,#01ff00 6.9%,#00ff02 7.2%,#00ff2e 11.8%,#00ff57 16.4%,#00ff7c 21.0%,#00ff9f 25.9%,#00ffbe 30.8%,#00ffd8 35.4%,#00ffef 40.3%,#00ffff 44.5%,#00efff 49.5%,#00e4ff 54.4%,#00deff 59.3%,#00dbff 64.6%,#00ddff 69.5%,#00e4ff 74.8%,#00efff 79.8%,#00ffff 85.0%,#00ffe0 92.4%,#00ffb7 99.8%)"></i>
<i style="background:linear-gradient(90deg,#48ff00 0.2%,#0cff00 5.8%,#01ff00 6.9%,#00ff03 7.2%,#00ff32 12.1%,#00ff5a 16.7%,#00ff7f 21.3%,#00ffa0 25.9%,#00ffbd 30.5%,#00ffd7 35.0%,#00ffed 39.6%,#00ffff 44.2%,#00efff 49.5%,#00e4ff 54.4%,#00ddff 59.3%,#00daff 64.6%,#00ddff 69.9%,#00e3ff 74.8%,#00eeff 79.8%,#00feff 85.0%,#00fff4 88.2%,#00ffe2 92.1%,#00ffce 96.0%,#00ffb8 99.8%)"></i>
<i style="background:linear-gradient(90deg,#48ff00 0.2%,#00ff00 6.9%,#00ff30 11.8%,#00ff58 16.4%,#00ff7d 21.0%,#00ff9e 25.5%,#00ffbc 30.1%,#00ffd7 35.0%,#00ffef 40.0%,#00feff 44.2%,#00eeff 49.5%,#00e3ff 54.4%,#00dcff 59.3%,#00d9ff 64.6%,#00dbff 69.5%,#00e2ff 74.8%,#00eeff 80.1%,#00ffff 85.4%,#00fff3 88.6%,#00ffe2 92.4%,#00ffb9 99.8%)"></i>
<i style="background:linear-gradient(90deg,#47ff00 0.2%,#00ff00 6.9%,#00ff2d 11.4%,#00ff56 16.0%,#00ff7e 21.0%,#00ff9f 25.5%,#00ffbc 30.1%,#00ffd6 34.7%,#00ffed 39.3%,#00ffff 43.8%,#00efff 48.8%,#00e3ff 54.0%,#00dbff 59.3%,#00d9ff 64.6%,#00dbff 69.9%,#00e2ff 75.2%,#00eeff 80.5%,#00ffff 85.7%,#00ffe1 92.8%,#00ffba 99.8%)"></i>
<i style="background:linear-gradient(90deg,#47ff00 0.2%,#18ff00 4.4%,#00ff01 6.9%,#00ff2e 11.4%,#00ff56 16.0%,#00ff7c 20.6%,#00ff9d 25.2%,#00ffbb 29.8%,#00ffd5 34.3%,#00ffec 38.9%,#00ffff 43.5%,#00edff 49.1%,#00e1ff 54.4%,#00daff 59.7%,#00d8ff 65.0%,#00daff 70.2%,#00e2ff 75.5%,#00edff 80.5%,#00ffff 86.1%,#00ffe0 93.1%,#00ffbb 99.8%)"></i>
<i style="background:linear-gradient(90deg,#46ff00 0.2%,#10ff00 5.1%,#02ff00 6.5%,#00ff02 6.9%,#00ff2e 11.4%,#00ff57 16.0%,#00ff7c 20.6%,#00ff9e 25.2%,#00ffbc 29.8%,#00ffd6 34.3%,#00ffee 39.3%,#00ffff 43.5%,#00edff 48.8%,#00e1ff 54.0%,#00d9ff 59.3%,#00d7ff 64.6%,#00d9ff 69.9%,#00e0ff 75.2%,#00ecff 80.5%,#00feff 86.1%,#00fff4 88.9%,#00ffe3 92.8%,#00ffbc 99.8%)"></i>
<i style="background:linear-gradient(90deg,#45ff00 0.2%,#0cff00 5.5%,#01ff00 6.5%,#00ff02 6.9%,#00ff2c 11.1%,#00ff55 15.7%,#00ff7a 20.2%,#00ff9c 24.8%,#00ffba 29.4%,#00ffd5 34.0%,#00ffec 38.6%,#00ffff 43.1%,#00edff 48.8%,#00e0ff 54.0%,#00d8ff 59.7%,#00d6ff 65.0%,#00d9ff 70.2%,#00e0ff 75.5%,#00ecff 80.8%,#00ffff 86.4%,#00ffe2 93.1%,#00ffbd 99.8%)"></i>
<i style="background:linear-gradient(90deg,#45ff00 0.2%,#04ff00 6.2%,#01ff00 6.5%,#00ff03 6.9%,#00ff30 11.4%,#00ff58 16.0%,#00ff7e 20.6%,#00ff9f 25.2%,#00ffbd 29.8%,#00ffd7 34.3%,#00fff0 39.3%,#00feff 43.1%,#00ecff 48.8%,#00dfff 54.0%,#00d7ff 59.7%,#00d5ff 65.0%,#00d8ff 70.2%,#00e0ff 75.9%,#00ecff 81.2%,#00ffff 86.8%,#00ffe1 93.5%,#00ffbe 99.8%)"></i>
<i style="background:linear-gradient(90deg,#44ff00 0.2%,#00ff00 6.5%,#00ff2d 11.1%,#00ff56 15.7%,#00ff7c 20.2%,#00ff9e 24.8%,#00ffbc 29.4%,#00ffd6 34.0%,#00ffed 38.6%,#00ffff 42.8%,#00ecff 48.4%,#00dfff 53.7%,#00d7ff 59.0%,#00d4ff 64.6%,#00d6ff 69.9%,#00deff 75.5%,#00ebff 81.2%,#00feff 86.8%,#00fff7 88.9%,#00ffe6 92.8%,#00ffbf 99.8%)"></i>
<i style="background:linear-gradient(90deg,#43ff00 0.2%,#19ff00 4.0%,#00ff01 6.5%,#00ff2e 11.1%,#00ff57 15.7%,#00ff7a 19.9%,#00ff9c 24.5%,#00ffba 29.0%,#00ffd5 33.6%,#00ffeb 37.9%,#00ffff 42.4%,#00ebff 48.4%,#00deff 53.7%,#00d6ff 59.3%,#00d3ff 65.0%,#00d6ff 70.2%,#00deff 75.9%,#00ebff 81.5%,#00ffff 87.1%,#00ffe5 93.1%,#00ffc0 99.8%)"></i>
<i style="background:linear-gradient(90deg,#43ff00 0.2%,#11ff00 4.8%,#02ff00 6.2%,#00ff01 6.5%,#00ff2e 11.1%,#00ff58 15.7%,#00ff7a 19.9%,#00ff9d 24.5%,#00ffbb 29.0%,#00ffd6 33.6%,#00ffed 38.2%,#00ffff 42.4%,#00ebff 48.1%,#00ddff 53.7%,#00d5ff 59.3%,#00d2ff 65.0%,#00d5ff 70.6%,#00deff 76.2%,#00ebff 81.9%,#00ffff 87.5%,#00ffe4 93.5%,#00ffc1 99.8%)"></i>
<i style="background:linear-gradient(90deg,#42ff00 0.2%,#09ff00 5.5%,#01ff00 6.2%,#00ff02 6.5%,#00ff2c 10.7%,#00ff55 15.3%,#00ff7b 19.9%,#00ff9b 24.1%,#00ffb7 28.3%,#00ffd3 32.9%,#00ffeb 37.5%,#00ffff 42.1%,#00eaff 48.1%,#00dcff 53.7%,#00d4ff 59.3%,#00d1ff 65.0%,#00d4ff 70.6%,#00ddff 76.2%,#00eaff 81.9%,#00ffff 87.9%,#00ffe4 93.8%,#00ffc2 99.8%)"></i>
<i style="background:linear-gradient(90deg,#41ff00 0.2%,#04ff00 5.8%,#01ff00 6.2%,#00ff03 6.5%,#00ff30 11.1%,#00ff59 15.7%,#00ff7c 19.9%,#00ff9e 24.5%,#00ffbd 29.0%,#00ffd8 33.6%,#00ffef 38.2%,#00feff 42.1%,#00ebff 47.7%,#00dcff 53.3%,#00d4ff 59.0%,#00d0ff 65.0%,#00d3ff 70.6%,#00dcff 76.2%,#00e9ff 81.9%,#00feff 87.9%,#00ffe6 93.5%,#00ffc3 99.8%)"></i>
<i style="background:linear-gradient(90deg,#41ff00 0.2%,#00ff00 6.2%,#00ff2d 10.7%,#00ff57 15.3%,#00ff7d 19.9%,#00ff9c 24.1%,#00ffb9 28.3%,#00ffd5 32.9%,#00ffec 37.5%,#00ffff 41.7%,#00ebff 47.4%,#00dbff 53.3%,#00d3ff 59.0%,#00d0ff 65.0%,#00d3ff 71.0%,#00dbff 76.6%,#00e9ff 82.2%,#00ffff 88.2%,#00ffe6 93.8%,#00ffc4 99.8%)"></i>
<i style="background:linear-gradient(90deg,#40ff00 0.2%,#00ff01 6.2%,#00ff2e 10.7%,#00ff54 15.0%,#00ff78 19.2%,#00ff9b 23.8%,#00ffba 28.3%,#00ffd3 32.6%,#00ffea 36.8%,#00ffff 41.4%,#00e9ff 47.7%,#00daff 53.3%,#00d2ff 59.0%,#00cfff 65.0%,#00d1ff 70.6%,#00daff 76.6%,#00eaff 82.6%,#00ffff 88.6%,#00ffe5 94.2%,#00ffc5 99.8%)"></i>
<i style="background:linear-gradient(90deg,#3fff00 0.2%,#11ff00 4.4%,#00ff01 6.2%,#00ff2f 10.7%,#00ff55 15.0%,#00ff79 19.2%,#00ff9c 23.8%,#00ffbb 28.3%,#00ffd4 32.6%,#00ffec 37.1%,#00ffff 41.4%,#00e9ff 47.4%,#00daff 53.3%,#00d0ff 59.3%,#00ceff 65.0%,#00d1ff 71.0%,#00daff 76.9%,#00e9ff 82.6%,#00ffff 88.9%,#00ffe6 94.2%,#00ffc7 99.8%)"></i>
<i style="background:linear-gradient(90deg,#3fff00 0.2%,#09ff00 5.1%,#01ff00 5.8%,#00ff02 6.2%,#00ff2f 10.7%,#00ff56 15.0%,#00ff79 19.2%,#00ff9c 23.8%,#00ffb9 28.0%,#00ffd3 32.2%,#00ffea 36.4%,#00ffff 41.0%,#00e9ff 47.0%,#00d9ff 53.0%,#00d0ff 59.0%,#00cdff 65.0%,#00d0ff 71.0%,#00d9ff 76.9%,#00e9ff 82.9%,#00feff 88.9%,#00ffe7 94.2%,#00ffc8 99.8%)"></i>
<i style="background:linear-gradient(90deg,#3eff00 0.2%,#01ff00 5.8%,#00ff03 6.2%,#00ff30 10.7%,#00ff57 15.0%,#00ff7d 19.5%,#00ff9d 23.8%,#00ffbc 28.3%,#00ffd6 32.6%,#00ffee 37.1%,#00feff 41.0%,#00e8ff 47.0%,#00d8ff 53.0%,#00cfff 59.3%,#00ccff 65.3%,#00cfff 71.3%,#00d9ff 77.3%,#00e9ff 83.3%,#00ffff 89.3%,#00ffe6 94.5%,#00ffc9 99.8%)"></i>
<i style="background:linear-gradient(90deg,#3dff00 0.2%,#00ff00 5.8%,#00ff2a 10.0%,#00ff55 14.6%,#00ff78 18.8%,#00ff9b 23.4%,#00ffbb 28.0%,#00ffd5 32.2%,#00ffec 36.4%,#00ffff 40.7%,#00e8ff 46.7%,#00d8ff 52.6%,#00ceff 58.6%,#00cbff 65.0%,#00ceff 71.0%,#00d8ff 77.3%,#00e8ff 83.3%,#00ffff 89.6%,#00ffe8 94.5%,#00ffca 99.8%)"></i>
<i style="background:linear-gradient(90deg,#3cff00 0.2%,#00ff01 5.8%,#00ff2b 10.0%,#00ff55 14.6%,#00ff79 18.8%,#00ff9a 23.1%,#00ffb7 27.3%,#00ffd2 31.5%,#00ffe9 35.7%,#00ffff 40.3%,#00e8ff 46.7%,#00d7ff 52.6%,#00cdff 59.0%,#00caff 65.0%,#00cdff 71.0%,#00d7ff 77.3%,#00e6ff 83.3%,#00feff 89.6%,#00ffea 94.2%,#00ffcb 99.8%)"></i>
<i style="background:linear-gradient(90deg,#3cff00 0.2%,#09ff00 4.8%,#00ff02 5.8%,#00ff2c 10.0%,#00ff53 14.3%,#00ff7a 18.8%,#00ff9b 23.1%,#00ffba 27.6%,#00ffd5 31.9%,#00ffed 36.4%,#00ffff 40.3%,#00e8ff 46.3%,#00d6ff 52.6%,#00ccff 59.0%,#00c9ff 65.3%,#00ccff 71.7%,#00d6ff 77.6%,#00e8ff 84.0%,#00ffff 90.0%,#00ffea 94.5%,#00ffcc 99.8%)"></i>
<i style="background:linear-gradient(90deg,#3bff00 0.2%,#01ff00 5.5%,#00ff02 5.8%,#00ff2d 10.0%,#00ff54 14.3%,#00ff78 18.5%,#00ff99 22.7%,#00ffb7 26.9%,#00ffd1 31.2%,#00ffeb 35.7%,#00ffff 40.0%,#00e7ff 46.3%,#00d5ff 52.6%,#00cbff 59.0%,#00c8ff 65.3%,#00cbff 71.7%,#00d5ff 77.6%,#00e7ff 84.0%,#00ffff 90.3%,#00ffe9 94.9%,#00ffcd 99.8%)"></i>
<i style="background:linear-gradient(90deg,#3aff00 0.2%,#00ff00 5.5%,#00ff2d 10.0%,#00ff55 14.3%,#00ff7c 18.8%,#00ff9c 23.1%,#00ffbc 27.6%,#00ffd6 31.9%,#00ffef 36.4%,#00feff 40.0%,#00e6ff 46.3%,#00d4ff 52.6%,#00caff 59.0%,#00c7ff 65.3%,#00caff 71.7%,#00d5ff 78.0%,#00e7ff 84.3%,#00ffff 90.7%,#00ffe8 95.2%,#00ffcf 99.8%)"></i>
<i style="background:linear-gradient(90deg,#39ff00 0.2%,#00ff00 5.5%,#00ff2b 9.7%,#00ff55 14.3%,#00ff7a 18.5%,#00ff9b 22.7%,#00ffb8 26.9%,#00ffd3 31.2%,#00ffeb 35.4%,#00ffff 39.6%,#00e6ff 46.0%,#00d4ff 52.3%,#00c9ff 58.6%,#00c6ff 65.3%,#00c9ff 71.7%,#00d4ff 78.0%,#00e6ff 84.3%,#00feff 90.7%,#00ffeb 94.9%,#00ffd0 99.8%)"></i>
<i style="background:linear-gradient(90deg,#39ff00 0.2%,#0eff00 4.0%,#00ff01 5.5%,#00ff2c 9.7%,#00ff53 13.9%,#00ff78 18.1%,#00ff99 22.4%,#00ffb7 26.6%,#00ffd2 30.8%,#00ffea 35.0%,#00fffe 39.3%,#00e5ff 46.0%,#00d3ff 52.3%,#00c8ff 58.6%,#00c5ff 65.3%,#00c8ff 71.7%,#00d3ff 78.0%,#00e4ff 84.3%,#00ffff 91.0%,#00ffeb 95.2%,#00ffd1 99.8%)"></i>
<i style="background:linear-gradient(90deg,#38ff00 0.2%,#05ff00 4.8%,#00ff02 5.5%,#00ff2d 9.7%,#00ff54 13.9%,#00ff78 18.1%,#00ff9a 22.4%,#00ffb8 26.6%,#00ffd3 30.8%,#00ffed 35.4%,#00ffff 39.3%,#00e5ff 45.6%,#00d2ff 52.3%,#00c7ff 58.6%,#00c4ff 65.3%,#00c7ff 71.7%,#00d2ff 78.3%,#00e4ff 84.7%,#00ffff 91.4%,#00ffea 95.6%,#00ffd2 99.8%)"></i>
<i style="background:linear-gradient(90deg,#37ff00 0.2%,#01ff00 5.1%,#00ff03 5.5%,#00ff2d 9.7%,#00ff55 13.9%,#00ff79 18.1%,#00ff98 22.0%,#00ffb6 26.2%,#00ffd2 30.5%,#00ffea 34.7%,#00ffff 38.9%,#00e4ff 45.6%,#00d1ff 52.3%,#00c6ff 58.6%,#00c2ff 65.3%,#00c6ff 71.7%,#00d1ff 78.3%,#00e3ff 84.7%,#00feff 91.4%,#00ffef 94.9%,#00ffd3 99.8%)"></i>
<i style="background:linear-gradient(90deg,#36ff00 0.2%,#00ff00 5.1%,#00ff2b 9.3%,#00ff53 13.6%,#00ff77 17.8%,#00ff99 22.0%,#00ffb7 26.2%,#00ffd5 30.8%,#00ffee 35.4%,#00feff 38.9%,#00e5ff 45.2%,#00d1ff 51.9%,#00c5ff 58.6%,#00c1ff 65.3%,#00c5ff 72.0%,#00d0ff 78.3%,#00e3ff 85.0%,#00feff 91.7%,#00ffee 95.2%,#00ffd4 99.8%)"></i>
<i style="background:linear-gradient(90deg,#35ff00 0.2%,#00ff01 5.1%,#00ff2c 9.3%,#00ff53 13.6%,#00ff78 17.8%,#00ff9a 22.0%,#00ffb8 26.2%,#00ffd3 30.5%,#00ffec 34.7%,#00ffff 38.6%,#00e4ff 45.2%,#00d0ff 51.9%,#00c4ff 58.6%,#00c0ff 65.3%,#00c4ff 72.0%,#00d0ff 78.7%,#00e3ff 85.4%,#00ffff 92.1%,#00ffec 96.0%,#00ffd6 99.8%)"></i>
<i style="background:linear-gradient(90deg,#34ff00 0.2%,#06ff00 4.4%,#00ff02 5.1%,#00ff29 9.0%,#00ff51 13.2%,#00ff76 17.4%,#00ff98 21.7%,#00ffb7 25.9%,#00ffd2 30.1%,#00ffeb 34.3%,#00fffe 38.2%,#00e3ff 45.2%,#00cfff 51.9%,#00c3ff 58.6%,#00bfff 65.3%,#00c3ff 72.0%,#00cfff 78.7%,#00e2ff 85.4%,#00ffff 92.4%,#00ffd7 99.8%)"></i>
<i style="background:linear-gradient(90deg,#34ff00 0.2%,#01ff00 4.8%,#00ff02 5.1%,#00ff2d 9.3%,#00ff55 13.6%,#00ff7a 17.8%,#00ff99 21.7%,#00ffb8 25.9%,#00ffd3 30.1%,#00ffec 34.3%,#00ffff 38.2%,#00e3ff 44.9%,#00cfff 51.6%,#00c3ff 58.3%,#00beff 65.3%,#00c2ff 72.0%,#00ceff 78.7%,#00e1ff 85.4%,#00feff 92.4%,#00fff0 95.6%,#00ffd8 99.8%)"></i>
<i style="background:linear-gradient(90deg,#33ff00 0.2%,#00ff00 4.8%,#00ff2e 9.3%,#00ff53 13.2%,#00ff75 17.1%,#00ff97 21.3%,#00ffb4 25.2%,#00ffd0 29.4%,#00ffe9 33.6%,#00ffff 37.9%,#00e2ff 44.9%,#00ceff 51.6%,#00c1ff 58.3%,#00bdff 65.3%,#00c1ff 72.0%,#00cdff 79.0%,#00e1ff 85.7%,#00ffff 92.8%,#00ffef 96.0%,#00ffd9 99.8%)"></i>
<i style="background:linear-gradient(90deg,#32ff00 0.2%,#00ff01 4.8%,#00ff2c 9.0%,#00ff54 13.2%,#00ff76 17.1%,#00ff98 21.3%,#00ffb7 25.5%,#00ffd3 29.8%,#00ffee 34.3%,#00feff 37.9%,#00e2ff 44.5%,#00cdff 51.6%,#00c0ff 58.3%,#00bcff 65.3%,#00c0ff 72.4%,#00ccff 79.0%,#00e1ff 86.1%,#00ffff 93.1%,#00ffdb 99.8%)"></i>
<i style="background:linear-gradient(90deg,#31ff00 0.2%,#06ff00 4.0%,#00ff01 4.8%,#00ff29 8.6%,#00ff52 12.9%,#00ff77 17.1%,#00ff99 21.3%,#00ffb8 25.5%,#00ffd2 29.4%,#00ffeb 33.6%,#00ffff 37.5%,#00e1ff 44.5%,#00ccff 51.6%,#00bfff 58.3%,#00bbff 65.3%,#00bfff 72.4%,#00ccff 79.4%,#00e0ff 86.1%,#00feff 93.1%,#00fff4 95.6%,#00ffdc 99.8%)"></i>
<i style="background:linear-gradient(90deg,#30ff00 0.2%,#01ff00 4.4%,#00ff02 4.8%,#00ff2a 8.6%,#00ff53 12.9%,#00ff78 17.1%,#00ff97 21.0%,#00ffb4 24.8%,#00ffd1 29.0%,#00ffe8 32.9%,#00fffe 37.1%,#00e0ff 44.5%,#00cbff 51.2%,#00beff 58.3%,#00baff 65.3%,#00beff 72.4%,#00cbff 79.4%,#00e0ff 86.4%,#00feff 93.5%,#00fff3 96.0%,#00ffdd 99.8%)"></i>
<i style="background:linear-gradient(90deg,#2fff00 0.2%,#01ff00 4.4%,#00ff03 4.8%,#00ff2f 9.0%,#00ff53 12.9%,#00ff76 16.7%,#00ff98 21.0%,#00ffb5 24.8%,#00ffd2 29.0%,#00ffeb 33.3%,#00ffff 37.1%,#00e0ff 44.2%,#00caff 51.2%,#00bdff 58.3%,#00b8ff 65.7%,#00bdff 72.7%,#00caff 79.8%,#00e0ff 86.8%,#00ffff 93.8%,#00ffde 99.8%)"></i>
<i style="background:linear-gradient(90deg,#2eff00 0.2%,#00ff00 4.4%,#00ff28 8.3%,#00ff51 12.5%,#00ff74 16.4%,#00ff96 20.6%,#00ffb6 24.8%,#00ffd0 28.7%,#00ffea 32.9%,#00ffff 36.8%,#00dfff 44.2%,#00c9ff 51.2%,#00bcff 58.3%,#00b7ff 65.7%,#00bcff 72.7%,#00c9ff 79.8%,#00dfff 86.8%,#00ffff 94.2%,#00ffe0 99.8%)"></i>
<i style="background:linear-gradient(90deg,#2dff00 0.2%,#02ff00 4.0%,#00ff01 4.4%,#00ff2d 8.6%,#00ff52 12.5%,#00ff75 16.4%,#00ff97 20.6%,#00ffb7 24.8%,#00ffd4 29.0%,#00ffed 33.3%,#00feff 36.8%,#00dfff 43.8%,#00c8ff 51.2%,#00bbff 58.3%,#00b6ff 65.7%,#00bbff 72.7%,#00c8ff 79.8%,#00deff 86.8%,#00feff 94.2%,#00fff7 96.0%,#00ffe1 99.8%)"></i>
<i style="background:linear-gradient(90deg,#2cff00 0.2%,#02ff00 4.0%,#00ff02 4.4%,#00ff2a 8.3%,#00ff50 12.1%,#00ff73 16.0%,#00ff96 20.2%,#00ffb6 24.5%,#00ffd0 28.3%,#00ffe8 32.2%,#00ffff 36.4%,#00deff 43.8%,#00c7ff 51.2%,#00baff 58.3%,#00b5ff 65.7%,#00baff 73.1%,#00c8ff 80.1%,#00dfff 87.5%,#00feff 94.5%,#00ffe2 99.8%)"></i>
<i style="background:linear-gradient(90deg,#2cff00 0.2%,#01ff00 4.0%,#00ff03 4.4%,#00ff2f 8.6%,#00ff54 12.5%,#00ff77 16.4%,#00ff97 20.2%,#00ffb4 24.1%,#00ffd1 28.3%,#00ffe9 32.2%,#00fffe 36.1%,#00ddff 43.8%,#00c7ff 50.9%,#00b8ff 58.3%,#00b4ff 65.7%,#00b8ff 72.7%,#00c6ff 80.1%,#00deff 87.5%,#00ffff 94.9%,#00ffe4 99.8%)"></i>
<i style="background:linear-gradient(90deg,#2bff00 0.2%,#00ff00 4.0%,#00ff2c 8.3%,#00ff52 12.1%,#00ff75 16.0%,#00ff98 20.2%,#00ffb8 24.5%,#00ffd2 28.3%,#00ffec 32.6%,#00ffff 36.1%,#00ddff 43.5%,#00c6ff 50.9%,#00b7ff 58.3%,#00b3ff 65.7%,#00b7ff 73.1%,#00c5ff 80.1%,#00ddff 87.5%,#00feff 94.9%,#00fffb 96.0%,#00ffe5 99.8%)"></i>
<i style="background:linear-gradient(90deg,#2aff00 0.2%,#02ff00 3.7%,#00ff01 4.0%,#00ff2a 7.9%,#00ff53 12.1%,#00ff76 16.0%,#00ff96 19.9%,#00ffb6 24.1%,#00ffd1 28.0%,#00ffe9 31.9%,#00ffff 35.7%,#00dcff 43.5%,#00c4ff 50.9%,#00b6ff 58.3%,#00b1ff 65.7%,#00b6ff 73.1%,#00c5ff 80.5%,#00ddff 87.9%,#00feff 95.2%,#00ffe6 99.8%)"></i>
<i style="background:linear-gradient(90deg,#29ff00 0.2%,#02ff00 3.7%,#00ff02 4.0%,#00ff2b 7.9%,#00ff50 11.8%,#00ff77 16.0%,#00ff97 19.9%,#00ffb7 24.1%,#00ffd2 28.0%,#00ffec 32.2%,#00feff 35.7%,#00ebff 39.6%,#00dbff 43.5%,#00c3ff 50.9%,#00b5ff 58.3%,#00b0ff 65.7%,#00b5ff 73.1%,#00c3ff 80.5%,#00dbff 87.9%,#00ecff 91.7%,#00ffff 95.6%,#00ffe8 99.8%)"></i>
<i style="background:linear-gradient(90deg,#28ff00 0.2%,#01ff00 3.7%,#00ff03 4.0%,#00ff2c 7.9%,#00ff51 11.8%,#00ff75 15.7%,#00ff95 19.5%,#00ffb6 23.8%,#00ffd1 27.6%,#00ffe9 31.5%,#00ffff 35.4%,#00ecff 39.3%,#00dbff 43.1%,#00c3ff 50.5%,#00baff 54.4%,#00b4ff 58.3%,#00afff 65.7%,#00b4ff 73.1%,#00baff 76.9%,#00c3ff 80.8%,#00dbff 88.2%,#00ecff 92.1%,#00ffff 96.0%,#00ffe9 99.8%)"></i>
<i style="background:linear-gradient(90deg,#27ff00 0.2%,#00ff00 3.7%,#00ff29 7.6%,#00ff52 11.8%,#00ff76 15.7%,#00ff99 19.9%,#00ffb7 23.8%,#00ffd4 28.0%,#00fff0 32.6%,#00feff 35.4%,#00ebff 39.3%,#00daff 43.1%,#00c2ff 50.5%,#00b3ff 57.9%,#00afff 61.8%,#00aeff 65.7%,#00b3ff 73.1%,#00b9ff 76.9%,#00c2ff 80.8%,#00daff 88.2%,#00ebff 92.1%,#00feff 96.0%,#00ffea 99.8%)"></i>
<i style="background:linear-gradient(90deg,#26ff00 0.2%,#02ff00 3.3%,#00ff01 3.7%,#00ff2a 7.6%,#00ff53 11.8%,#00ff77 15.7%,#00ff97 19.5%,#00ffb5 23.4%,#00ffd0 27.3%,#00ffeb 31.5%,#00ffff 35.0%,#00ebff 38.9%,#00daff 42.8%,#00c2ff 50.2%,#00b8ff 54.0%,#00b2ff 57.9%,#00aeff 61.8%,#00adff 65.7%,#00b1ff 73.1%,#00b8ff 76.9%,#00c0ff 80.8%,#00ccff 84.7%,#00daff 88.6%,#00ebff 92.4%,#00feff 96.3%,#00ffec 99.8%)"></i>
<i style="background:linear-gradient(90deg,#25ff00 0.2%,#01ff00 3.3%,#00ff02 3.7%,#00ff2b 7.6%,#00ff51 11.4%,#00ff75 15.3%,#00ff95 19.2%,#00ffb4 23.1%,#00ffcf 26.9%,#00ffe8 30.8%,#00fffe 34.7%,#00d9ff 42.8%,#00c0ff 50.2%,#00b7ff 54.0%,#00b1ff 57.9%,#00adff 61.8%,#00abff 65.7%,#00b0ff 72.7%,#00bcff 79.8%,#00c8ff 84.0%,#00d7ff 88.2%,#00eaff 92.4%,#00ffff 96.7%,#00ffed 99.8%)"></i>
<i style="background:linear-gradient(90deg,#24ff00 0.2%,#00ff00 3.3%,#00ff03 3.7%,#00ff2c 7.6%,#00ff52 11.4%,#00ff76 15.3%,#00ff97 19.2%,#00ffb7 23.4%,#00ffd3 27.3%,#00ffee 31.5%,#00feff 34.7%,#00ebff 38.6%,#00daff 42.4%,#00cbff 46.3%,#00bfff 50.2%,#00b6ff 54.0%,#00afff 57.9%,#00abff 61.8%,#00aaff 65.7%,#00aeff 72.7%,#00bcff 80.1%,#00c8ff 84.3%,#00d7ff 88.6%,#00e8ff 92.4%,#00feff 96.7%,#00ffff 97.0%,#00ffee 99.8%)"></i>
<i style="background:linear-gradient(90deg,#23ff00 0.2%,#00ff01 3.3%,#00ff2a 7.2%,#00ff50 11.1%,#00ff74 15.0%,#00ff95 18.8%,#00ffb3 22.7%,#00ffcf 26.6%,#00ffe8 30.5%,#00ffff 34.3%,#00eaff 38.6%,#00d8ff 42.4%,#00caff 46.3%,#00beff 50.2%,#00b5ff 54.0%,#00aeff 57.9%,#00aaff 61.8%,#00a9ff 65.7%,#00adff 72.7%,#00bbff 80.1%,#00c7ff 84.3%,#00d6ff 88.6%,#00e9ff 92.8%,#00feff 97.0%,#00fff0 99.8%)"></i>
<i style="background:linear-gradient(90deg,#22ff00 0.2%,#02ff00 3.0%,#00ff02 3.3%,#00ff2b 7.2%,#00ff51 11.1%,#00ff78 15.3%,#00ff99 19.2%,#00ffba 23.4%,#00ffd5 27.3%,#00fff0 31.5%,#00feff 34.3%,#00eaff 38.2%,#00d9ff 42.1%,#00c9ff 46.3%,#00bdff 50.2%,#00b4ff 54.0%,#00adff 57.9%,#00a9ff 61.8%,#00a8ff 66.0%,#00acff 73.1%,#00baff 80.5%,#00c7ff 84.7%,#00d6ff 88.9%,#00e9ff 93.1%,#00ffff 97.4%,#00fff1 99.8%)"></i>
<i style="background:linear-gradient(90deg,#21ff00 0.2%,#01ff00 3.0%,#00ff03 3.3%,#00ff2c 7.2%,#00ff52 11.1%,#00ff76 15.0%,#00ff97 18.8%,#00ffb5 22.7%,#00ffd1 26.6%,#00ffeb 30.5%,#00ffff 34.0%,#00ebff 37.9%,#00d9ff 41.7%,#00caff 45.6%,#00bdff 49.8%,#00b3ff 53.7%,#00acff 57.9%,#00a8ff 61.8%,#00a6ff 65.7%,#00a7ff 69.5%,#00abff 73.4%,#00baff 80.8%,#00c7ff 85.0%,#00d6ff 89.3%,#00e9ff 93.5%,#00ffff 97.7%,#00fff3 99.8%)"></i>
<i style="background:linear-gradient(90deg,#20ff00 0.2%,#00ff00 3.0%,#00ff29 6.9%,#00ff50 10.7%,#00ff74 14.6%,#00ff95 18.5%,#00ffce 25.9%,#00ffe7 29.8%,#00fffe 33.6%,#00e8ff 38.2%,#00d6ff 42.1%,#00c7ff 46.0%,#00bbff 49.8%,#00b2ff 53.7%,#00abff 57.6%,#00a7ff 61.4%,#00a5ff 65.7%,#00a9ff 73.1%,#00b0ff 76.9%,#00b9ff 80.8%,#00c5ff 85.0%,#00d5ff 89.3%,#00e8ff 93.5%,#00feff 97.7%,#00fff4 99.8%)"></i>
<i style="background:linear-gradient(90deg,#1fff00 0.2%,#00ff01 3.0%,#00ff2a 6.9%,#00ff51 10.7%,#00ff75 14.6%,#00ff96 18.5%,#00ffb5 22.4%,#00ffd1 26.2%,#00ffed 30.5%,#00feff 33.6%,#00eaff 37.5%,#00d7ff 41.7%,#00c8ff 45.6%,#00baff 49.8%,#00b1ff 53.7%,#00a9ff 57.9%,#00a5ff 61.8%,#00a4ff 66.0%,#00a5ff 69.9%,#00a9ff 73.8%,#00b8ff 81.2%,#00c5ff 85.4%,#00d5ff 89.6%,#00e8ff 93.8%,#00feff 98.1%,#00fff6 99.8%)"></i>
<i style="background:linear-gradient(90deg,#1eff00 0.2%,#02ff00 2.6%,#00ff02 3.0%,#00ff2b 6.9%,#00ff52 10.7%,#00ff94 18.1%,#00ffcd 25.5%,#00ffe7 29.4%,#00ffff 33.3%,#00e9ff 37.5%,#00d5ff 41.7%,#00c6ff 45.6%,#00b9ff 49.8%,#00afff 53.7%,#00a8ff 57.9%,#00a4ff 62.1%,#00a2ff 66.0%,#00a4ff 69.9%,#00a8ff 73.8%,#00aeff 77.6%,#00b8ff 81.5%,#00c5ff 85.7%,#00d5ff 90.0%,#00e8ff 94.2%,#00ffff 98.4%,#00fff7 99.8%)"></i>
<i style="background:linear-gradient(90deg,#1dff00 0.2%,#01ff00 2.6%,#00ff03 3.0%,#00ff2c 6.9%,#00ff53 10.7%,#00ff96 18.1%,#00ffb5 22.0%,#00ffd1 25.9%,#00ffef 30.5%,#00feff 33.3%,#00e8ff 37.5%,#00d6ff 41.4%,#00c5ff 45.6%,#00b8ff 49.8%,#00aeff 53.7%,#00a7ff 57.9%,#00a2ff 61.8%,#00a1ff 66.0%,#00a2ff 69.9%,#00a7ff 74.1%,#00aeff 78.0%,#00b7ff 81.9%,#00c3ff 85.7%,#00d4ff 90.0%,#00e7ff 94.2%,#00fdff 98.4%,#00ffff 98.8%,#00fff8 99.8%)"></i>
<i style="background:linear-gradient(90deg,#1cff00 0.2%,#00ff00 2.6%,#00ff2a 6.5%,#00ff51 10.4%,#00ff94 17.8%,#00ffb3 21.7%,#00ffd0 25.5%,#00ffea 29.4%,#00ffff 32.9%,#00eaff 36.8%,#00d6ff 41.0%,#00c5ff 45.2%,#00b7ff 49.5%,#00adff 53.7%,#00a6ff 57.6%,#00a1ff 61.8%,#00a0ff 66.0%,#00a1ff 70.2%,#00a6ff 74.1%,#00adff 78.3%,#00b7ff 82.2%,#00c3ff 86.1%,#00d4ff 90.3%,#00e7ff 94.5%,#00feff 98.8%,#00fffa 99.8%)"></i>
<i style="background:linear-gradient(90deg,#1aff00 0.2%,#03ff00 2.3%,#00ff01 2.6%,#00ff2b 6.5%,#00ff52 10.4%,#00ff95 17.8%,#00ffce 25.2%,#00fffe 32.6%,#00e5ff 37.5%,#00d3ff 41.4%,#00c4ff 45.2%,#00b6ff 49.5%,#00abff 53.7%,#00a4ff 57.9%,#00a0ff 61.8%,#009eff 66.0%,#00a0ff 69.9%,#00a4ff 74.1%,#00acff 78.3%,#00b5ff 82.2%,#00c2ff 86.1%,#00d1ff 90.0%,#00e6ff 94.5%,#00ffff 99.1%,#00fffb 99.8%)"></i>
<i style="background:linear-gradient(90deg,#19ff00 0.2%,#01ff00 2.3%,#00ff02 2.6%,#00ff50 10.0%,#00ff74 13.9%,#00ff96 17.8%,#00ffb5 21.7%,#00ffd2 25.5%,#00ffec 29.4%,#00ffff 32.6%,#00e7ff 36.8%,#00d3ff 41.0%,#00c3ff 45.2%,#00b5ff 49.5%,#00aaff 53.7%,#00a3ff 57.6%,#009fff 61.8%,#009dff 66.0%,#009eff 69.9%,#00a3ff 74.1%,#00aaff 78.3%,#00b5ff 82.6%,#00c2ff 86.4%,#00d1ff 90.3%,#00e4ff 94.5%,#00fdff 99.1%,#00fffd 99.8%)"></i>
<i style="background:linear-gradient(90deg,#18ff00 0.2%,#00ff00 2.3%,#00ff04 2.6%,#00ff51 10.0%,#00ff94 17.4%,#00ffce 24.8%,#00ffff 32.2%,#00e6ff 36.8%,#00d4ff 40.7%,#00c3ff 44.9%,#00b5ff 49.1%,#00aaff 53.3%,#00a2ff 57.6%,#009dff 61.8%,#009cff 66.0%,#009dff 70.2%,#00a2ff 74.5%,#00aaff 78.7%,#00b5ff 82.9%,#00c3ff 87.1%,#00d2ff 91.0%,#00e5ff 94.9%,#00fffe 99.8%)"></i>
<i style="background:linear-gradient(90deg,#17ff00 0.2%,#00ff01 2.3%,#00ff4e 9.7%,#00ff73 13.6%,#00ff95 17.4%,#00ffb5 21.3%,#00ffd2 25.2%,#00ffef 29.4%,#00feff 32.2%,#00e7ff 36.4%,#00d2ff 40.7%,#00c1ff 44.9%,#00b3ff 49.1%,#00a8ff 53.3%,#00a1ff 57.6%,#009cff 61.8%,#009aff 66.0%,#009cff 70.2%,#00a1ff 74.5%,#00a8ff 78.7%,#00b3ff 82.9%,#00c1ff 87.1%,#00d2ff 91.4%,#00e7ff 95.6%,#00feff 99.8%)"></i>
<i style="background:linear-gradient(90deg,#16ff00 0.2%,#02ff00 1.9%,#00ff02 2.3%,#00ff4f 9.7%,#00ff94 17.1%,#00ffce 24.5%,#00ffff 31.9%,#00e7ff 36.1%,#00d3ff 40.3%,#00c1ff 44.5%,#00b3ff 48.8%,#00a8ff 53.0%,#00a0ff 57.2%,#009bff 61.4%,#0099ff 65.7%,#009aff 69.9%,#009fff 74.1%,#00a6ff 78.3%,#00b2ff 82.9%,#00c0ff 87.1%,#00d1ff 91.4%,#00e5ff 95.6%,#00fdff 99.8%)"></i>
<i style="background:linear-gradient(90deg,#15ff00 0.2%,#01ff00 1.9%,#00ff03 2.3%,#00ff51 9.7%,#00ff95 17.1%,#00ffcd 24.1%,#00fffe 31.5%,#00e4ff 36.4%,#00d1ff 40.3%,#00c0ff 44.5%,#00b2ff 48.8%,#00a6ff 53.0%,#009eff 57.2%,#0099ff 61.4%,#0098ff 65.7%,#0099ff 69.9%,#009dff 74.1%,#00a6ff 78.7%,#00b0ff 82.9%,#00beff 87.1%,#00d0ff 91.4%,#00e4ff 95.6%,#00fbff 99.8%)"></i>
<i style="background:linear-gradient(90deg,#14ff00 0.2%,#00ff00 1.9%,#00ff4e 9.3%,#00ff93 16.7%,#00ffce 24.1%,#00ffe9 28.0%,#00ffff 31.5%,#00e7ff 35.7%,#00d0ff 40.3%,#00bfff 44.5%,#00b0ff 48.8%,#00a5ff 53.0%,#009dff 57.2%,#0098ff 61.4%,#0096ff 65.7%,#0097ff 69.9%,#009cff 74.1%,#00a3ff 78.3%,#00afff 82.9%,#00bdff 87.1%,#00ceff 91.4%,#00e2ff 95.6%,#00faff 99.8%)"></i>
<i style="background:linear-gradient(90deg,#13ff00 0.2%,#00ff01 1.9%,#00ff50 9.3%,#00ff94 16.7%,#00ffcd 23.8%,#00ffff 31.2%,#00e5ff 35.7%,#00d0ff 40.0%,#00bfff 44.2%,#00b0ff 48.4%,#00a5ff 52.6%,#009cff 57.2%,#0097ff 61.4%,#0095ff 65.7%,#0096ff 69.9%,#009aff 74.1%,#00a2ff 78.3%,#00acff 82.6%,#00baff 86.8%,#00cdff 91.4%,#00e1ff 95.6%,#00f8ff 99.8%)"></i>
<i style="background:linear-gradient(90deg,#12ff00 0.2%,#01ff00 1.6%,#00ff03 1.9%,#00ff51 9.3%,#00ff95 16.7%,#00ffd0 24.1%,#00ffee 28.3%,#00feff 31.2%,#00e4ff 35.7%,#00cfff 40.0%,#00bdff 44.2%,#00afff 48.4%,#00a3ff 52.6%,#009aff 57.2%,#0095ff 61.4%,#0093ff 65.7%,#0095ff 69.9%,#0099ff 74.1%,#00a0ff 78.3%,#00abff 82.6%,#00baff 87.1%,#00cbff 91.4%,#00dfff 95.6%,#00f7ff 99.8%)"></i>
<i style="background:linear-gradient(90deg,#10ff00 0.2%,#00ff00 1.6%,#00ff04 1.9%,#00ff52 9.3%,#00ff94 16.4%,#00ffcc 23.4%,#00ffff 30.8%,#00e5ff 35.4%,#00cfff 39.6%,#00bdff 43.8%,#00afff 48.1%,#00a3ff 52.3%,#009aff 56.5%,#0094ff 60.7%,#0092ff 65.3%,#0093ff 69.5%,#0097ff 73.8%,#009eff 78.0%,#00aaff 82.6%,#00b7ff 86.8%,#00caff 91.4%,#00deff 95.6%,#00f5ff 99.8%)"></i>
<i style="background:linear-gradient(90deg,#0fff00 0.2%,#00ff01 1.6%,#00ff50 9.0%,#00ff95 16.4%,#00ffb5 20.2%,#00ffd3 24.1%,#00fff0 28.3%,#00feff 30.8%,#00e5ff 35.0%,#00d0ff 39.3%,#00bdff 43.5%,#00adff 48.1%,#00a1ff 52.3%,#0099ff 56.5%,#0093ff 61.1%,#0091ff 65.3%,#0092ff 69.5%,#0096ff 73.8%,#009dff 78.3%,#00a8ff 82.6%,#00b6ff 86.8%,#00c8ff 91.4%,#00dcff 95.6%,#00f3ff 99.8%)"></i>
<i style="background:linear-gradient(90deg,#0eff00 0.2%,#02ff00 1.2%,#00ff02 1.6%,#00ff30 5.8%,#00ff58 9.7%,#00ff80 13.9%,#00ffa5 18.1%,#00ffd7 24.5%,#00ffff 30.5%,#00e6ff 34.7%,#00ceff 39.3%,#00bcff 43.5%,#00acff 48.1%,#00a0ff 52.3%,#0097ff 56.9%,#0091ff 61.1%,#008fff 65.3%,#0090ff 69.9%,#0095ff 74.1%,#009cff 78.3%,#00a7ff 82.6%,#00b4ff 86.8%,#00c5ff 91.0%,#00dbff 95.6%,#00f2ff 99.8%)"></i>
<i style="background:linear-gradient(90deg,#0dff00 0.2%,#01ff00 1.2%,#00ff03 1.6%,#00ff2e 5.5%,#00ff56 9.3%,#00ff7b 13.2%,#00ffa0 17.4%,#00ffd3 23.8%,#00fffe 30.1%,#00e3ff 35.0%,#00cdff 39.3%,#00bbff 43.5%,#00acff 47.7%,#009fff 52.3%,#0096ff 56.5%,#0090ff 60.7%,#008eff 65.0%,#008eff 69.2%,#0092ff 73.4%,#0099ff 77.6%,#00a4ff 82.2%,#00b3ff 86.8%,#00c3ff 91.0%,#00d7ff 95.2%,#00f0ff 99.8%)"></i>
<i style="background:linear-gradient(90deg,#0cff00 0.2%,#00ff00 1.2%,#00ff2b 5.1%,#00ff57 9.3%,#00ff7c 13.2%,#00ffa2 17.4%,#00ffd7 24.1%,#00feff 30.1%,#00e5ff 34.3%,#00cdff 38.9%,#00b9ff 43.5%,#00aaff 47.7%,#009eff 51.9%,#0095ff 56.2%,#008fff 60.4%,#008cff 65.0%,#008dff 69.2%,#0091ff 73.8%,#0098ff 78.0%,#00a3ff 82.2%,#00b0ff 86.4%,#00c2ff 91.0%,#00d8ff 95.6%,#00efff 99.8%)"></i>
<i style="background:linear-gradient(90deg,#0aff00 0.2%,#00ff02 1.2%,#00ff30 5.5%,#00ff58 9.3%,#00ff7d 13.2%,#00ffa0 17.1%,#00ffd3 23.4%,#00ffff 29.8%,#00e4ff 34.3%,#00ceff 38.6%,#00bbff 42.8%,#00aaff 47.4%,#009eff 51.6%,#0094ff 56.2%,#008dff 60.7%,#008bff 65.0%,#008bff 69.2%,#0090ff 73.8%,#0097ff 78.0%,#00a2ff 82.6%,#00b0ff 86.8%,#00c2ff 91.4%,#00d6ff 95.6%,#00edff 99.8%)"></i>
<i style="background:linear-gradient(90deg,#09ff00 0.2%,#01ff00 0.9%,#00ff03 1.2%,#00ff2e 5.1%,#00ff56 9.0%,#00ff7f 13.2%,#00ffa1 17.1%,#00ffd7 23.8%,#00fff5 28.0%,#00feff 29.8%,#00e4ff 34.0%,#00ccff 38.6%,#00baff 42.8%,#00aaff 47.0%,#009dff 51.2%,#0093ff 55.8%,#008dff 60.0%,#008aff 64.6%,#008aff 68.8%,#008eff 73.4%,#0095ff 77.6%,#009fff 82.2%,#00adff 86.4%,#00bfff 91.0%,#00d4ff 95.6%,#00ecff 99.8%)"></i>
<i style="background:linear-gradient(90deg,#08ff00 0.2%,#00ff00 0.9%,#00ff2b 4.8%,#00ff53 8.6%,#00ff79 12.5%,#00ff9c 16.4%,#00ffd3 23.1%,#00ffff 29.4%,#00e3ff 34.0%,#00cdff 38.2%,#00baff 42.4%,#00a8ff 47.0%,#009cff 51.2%,#0091ff 55.8%,#008bff 60.0%,#0088ff 64.6%,#0088ff 68.8%,#008cff 73.4%,#0093ff 77.6%,#009eff 82.2%,#00acff 86.8%,#00bdff 91.0%,#00d3ff 95.6%,#00eaff 99.8%)"></i>
<i style="background:linear-gradient(90deg,#07ff00 0.2%,#00ff01 0.9%,#00ff2c 4.8%,#00ff55 8.6%,#00ff9b 16.0%,#00ffd1 22.7%,#00fffe 29.0%,#00e2ff 34.0%,#00cbff 38.2%,#00b7ff 42.8%,#00a7ff 47.0%,#009aff 51.2%,#0090ff 55.8%,#008aff 60.0%,#0087ff 64.6%,#0087ff 69.2%,#008bff 73.4%,#0091ff 77.6%,#009cff 82.2%,#00aaff 86.4%,#00bcff 91.0%,#00d1ff 95.6%,#00e8ff 99.8%)"></i>
<i style="background:linear-gradient(90deg,#06ff00 0.2%,#01ff00 0.5%,#00ff03 0.9%,#00ff52 8.3%,#00ff99 15.7%,#00ffd3 22.7%,#00ffef 26.6%,#00feff 29.0%,#00e2ff 33.6%,#00ccff 37.9%,#00b8ff 42.1%,#00a7ff 46.7%,#009aff 50.9%,#008fff 55.5%,#0089ff 59.7%,#0085ff 64.3%,#0085ff 68.5%,#0089ff 73.1%,#0090ff 77.6%,#009aff 81.9%,#00a8ff 86.4%,#00baff 91.0%,#00d0ff 95.6%,#00e7ff 99.8%)"></i>
<i style="background:linear-gradient(90deg,#04ff00 0.2%,#00ff00 0.5%,#00ff04 0.9%,#00ff50 7.9%,#00ff97 15.3%,#00ffcf 22.0%,#00ffff 28.7%,#00e1ff 33.6%,#00caff 37.9%,#00b7ff 42.1%,#00a5ff 46.7%,#0097ff 51.2%,#008eff 55.5%,#0087ff 60.0%,#0084ff 64.3%,#0084ff 68.5%,#0087ff 73.1%,#008eff 77.6%,#0099ff 82.2%,#00a6ff 86.4%,#00b8ff 91.0%,#00ceff 95.6%,#00e5ff 99.8%)"></i>
<i style="background:linear-gradient(90deg,#03ff00 0.2%,#00ff01 0.5%,#00ff30 4.8%,#00ff5c 9.0%,#00ff98 15.3%,#00ffd3 22.4%,#00fff2 26.6%,#00feff 28.7%,#00e4ff 32.9%,#00cbff 37.5%,#00b7ff 41.7%,#00a5ff 46.3%,#0097ff 50.9%,#008cff 55.5%,#0086ff 59.7%,#0082ff 64.3%,#0082ff 68.5%,#0086ff 73.1%,#008cff 77.3%,#0097ff 81.9%,#00a4ff 86.1%,#00b5ff 90.7%,#00cbff 95.2%,#00e3ff 99.8%)"></i>
<i style="background:linear-gradient(90deg,#02ff00 0.2%,#00ff02 0.5%,#00ff53 7.9%,#00ff93 14.6%,#00ffcf 21.7%,#00ffff 28.3%,#00e2ff 32.9%,#00cbff 37.1%,#00b7ff 41.4%,#00a5ff 46.0%,#0096ff 50.5%,#008cff 54.8%,#0085ff 59.3%,#0081ff 63.9%,#0081ff 68.5%,#0084ff 72.7%,#008bff 77.3%,#0095ff 81.9%,#00a3ff 86.4%,#00b4ff 90.7%,#00c9ff 95.2%,#00e2ff 99.8%)"></i>
<i style="background:linear-gradient(90deg,#00ff00 0.2%,#00ff50 7.6%,#00ff95 14.6%,#00ffd3 22.0%,#00fff4 26.6%,#00fffe 28.0%,#00feff 28.3%,#00e1ff 32.9%,#00c8ff 37.5%,#00b4ff 41.7%,#00a2ff 46.3%,#0095ff 50.5%,#008aff 55.1%,#0083ff 59.7%,#007fff 64.3%,#007fff 68.8%,#0083ff 73.1%,#0089ff 77.3%,#0094ff 81.9%,#00a2ff 86.4%,#00b4ff 91.0%,#00c9ff 95.6%,#00e0ff 99.8%)"></i>
<i style="background:linear-gradient(90deg,#00ff01 0.2%,#00ff4e 7.2%,#00ff93 14.3%,#00ffcf 21.3%,#00ffec 25.2%,#00ffff 28.0%,#00e4ff 32.2%,#00caff 36.8%,#00b4ff 41.4%,#00a2ff 46.0%,#0093ff 50.5%,#0089ff 54.8%,#0082ff 59.3%,#007eff 63.9%,#007dff 68.1%,#0081ff 72.7%,#0087ff 77.3%,#0092ff 81.9%,#009fff 86.1%,#00b0ff 90.7%,#00c6ff 95.2%,#00deff 99.8%)"></i>
<i style="background:linear-gradient(90deg,#00ff02 0.2%,#00ff4c 6.9%,#00ff91 13.9%,#00ffca 20.6%,#00ffff 27.6%,#00e0ff 32.6%,#00c9ff 36.8%,#00b3ff 41.4%,#00a0ff 46.0%,#0093ff 50.2%,#0088ff 54.8%,#0080ff 59.3%,#007cff 63.9%,#007cff 68.5%,#007fff 72.7%,#0086ff 77.3%,#0090ff 81.9%,#009dff 86.1%,#00afff 90.7%,#00c4ff 95.2%,#00ddff 99.8%)"></i>
<i style="background:linear-gradient(90deg,#00ff03 0.2%,#00ff51 7.2%,#00ff95 14.3%,#00ffd1 21.3%,#00ffef 25.2%,#00feff 27.6%,#00e1ff 32.2%,#00c9ff 36.4%,#00b3ff 41.0%,#00a0ff 45.6%,#0092ff 49.8%,#0087ff 54.4%,#007fff 59.0%,#007bff 63.6%,#007aff 68.1%,#007dff 72.4%,#0084ff 76.9%,#008eff 81.5%,#009cff 86.1%,#00adff 90.7%,#00c2ff 95.2%,#00dbff 99.8%)"></i>
<i style="background:linear-gradient(90deg,#00ff05 0.2%,#00ff4e 6.9%,#00ff90 13.6%,#00ffcd 20.6%,#00ffff 27.3%,#00e2ff 31.9%,#00c8ff 36.4%,#00b1ff 41.0%,#009fff 45.6%,#0091ff 49.8%,#0085ff 54.4%,#007dff 59.0%,#0079ff 63.6%,#0079ff 68.1%,#007cff 72.7%,#0082ff 76.9%,#008cff 81.5%,#009aff 86.1%,#00abff 90.7%,#00c1ff 95.2%,#00d9ff 99.8%)"></i>
<i style="background:linear-gradient(90deg,#00ff06 0.2%,#00ff50 6.9%,#00ff95 13.9%,#00ffd4 21.3%,#00fff4 25.5%,#00feff 27.3%,#00e2ff 31.5%,#00c8ff 36.1%,#00b1ff 40.7%,#009fff 45.2%,#008fff 49.8%,#0084ff 54.4%,#007cff 59.0%,#0078ff 63.6%,#0077ff 68.1%,#007aff 72.4%,#0080ff 76.9%,#008aff 81.5%,#0098ff 86.1%,#00aaff 90.7%,#00bfff 95.2%,#00d8ff 99.8%)"></i>
<i style="background:linear-gradient(90deg,#00ff07 0.2%,#00ff51 6.9%,#00ff93 13.6%,#00ffcd 20.2%,#00ffff 26.9%,#00e3ff 31.2%,#00c8ff 35.7%,#00b2ff 40.3%,#009eff 44.9%,#008fff 49.5%,#0083ff 54.0%,#007bff 58.6%,#0076ff 63.2%,#0075ff 67.8%,#0078ff 72.4%,#007fff 76.9%,#0089ff 81.5%,#0097ff 86.1%,#00a8ff 90.7%,#00bdff 95.2%,#00d6ff 99.8%)"></i>
<i style="background:linear-gradient(90deg,#00ff09 0.2%,#00ff4f 6.5%,#00ff91 13.2%,#00ffcc 19.9%,#00fffe 26.6%,#00ddff 31.9%,#00c5ff 36.1%,#00b0ff 40.3%,#009dff 44.9%,#008dff 49.5%,#0081ff 54.0%,#0079ff 58.6%,#0075ff 63.2%,#0074ff 67.8%,#0077ff 72.4%,#007dff 76.9%,#0087ff 81.5%,#0095ff 86.1%,#00a6ff 90.7%,#00bbff 95.2%,#00d4ff 99.8%)"></i>
<i style="background:linear-gradient(90deg,#00ff0a 0.2%,#00ff54 6.9%,#00ff96 13.6%,#00ffd0 20.2%,#00ffee 24.1%,#00feff 26.6%,#00e0ff 31.2%,#00c5ff 35.7%,#00afff 40.3%,#009bff 44.9%,#008cff 49.5%,#0080ff 54.0%,#0078ff 58.6%,#0073ff 63.2%,#0072ff 67.8%,#0075ff 72.4%,#007bff 76.9%,#0086ff 81.5%,#0093ff 86.1%,#00a5ff 90.7%,#00baff 95.2%,#00d2ff 99.8%)"></i>
<i style="background:linear-gradient(90deg,#00ff0b 0.2%,#00ff52 6.5%,#00ff94 13.2%,#00ffcf 19.9%,#00ffff 26.2%,#00dfff 31.2%,#00c4ff 35.7%,#00adff 40.3%,#009aff 44.9%,#008aff 49.5%,#007eff 54.0%,#0076ff 58.6%,#0072ff 63.2%,#0071ff 67.8%,#0073ff 72.4%,#007aff 76.9%,#0084ff 81.5%,#0092ff 86.1%,#00a3ff 90.7%,#00b8ff 95.2%,#00d1ff 99.8%)"></i>
<i style="background:linear-gradient(90deg,#00ff0d 0.2%,#00ff57 6.9%,#00ff99 13.6%,#00ffd6 20.6%,#00fff6 24.8%,#00feff 26.2%,#00dfff 30.8%,#00c4ff 35.4%,#00adff 40.0%,#009aff 44.5%,#008aff 49.1%,#007eff 53.7%,#0075ff 58.3%,#0070ff 62.9%,#006fff 67.4%,#0071ff 72.0%,#0077ff 76.6%,#0082ff 81.5%,#0090ff 86.1%,#00a1ff 90.7%,#00b6ff 95.2%,#00cfff 99.8%)"></i>
<i style="background:linear-gradient(90deg,#00ff0e 0.2%,#00ff54 6.5%,#00ff97 13.2%,#00ffcf 19.5%,#00ffff 25.9%,#00e0ff 30.5%,#00c5ff 35.0%,#00acff 40.0%,#0098ff 44.5%,#0088ff 49.1%,#007cff 53.7%,#0073ff 58.3%,#006fff 62.9%,#006dff 67.4%,#0070ff 72.0%,#0076ff 76.6%,#0080ff 81.5%,#008eff 86.1%,#00a0ff 90.7%,#00b5ff 95.2%,#00cdff 99.8%)"></i>
<i style="background:linear-gradient(90deg,#00ff10 0.2%,#00ff56 6.5%,#00ff95 12.9%,#00ffcd 19.2%,#00fffe 25.5%,#00dcff 30.8%,#00c3ff 35.0%,#00acff 39.6%,#0098ff 44.2%,#0088ff 48.8%,#007aff 53.7%,#0072ff 58.3%,#006dff 62.9%,#006cff 67.4%,#006eff 72.0%,#0074ff 76.6%,#007fff 81.5%,#008cff 86.1%,#009eff 90.7%,#00b3ff 95.2%,#00cbff 99.8%)"></i>
<i style="background:linear-gradient(90deg,#00ff11 0.2%,#00ff57 6.5%,#00ff96 12.9%,#00ffd1 19.5%,#00feff 25.5%,#00dfff 30.1%,#00c4ff 34.7%,#00acff 39.3%,#0098ff 43.8%,#0087ff 48.4%,#007aff 53.3%,#0071ff 57.9%,#006cff 62.5%,#006aff 67.1%,#006cff 71.7%,#0072ff 76.2%,#007cff 81.2%,#008aff 85.7%,#009bff 90.3%,#00afff 94.9%,#00caff 99.8%)"></i>
<i style="background:linear-gradient(90deg,#00ff12 0.2%,#00ff59 6.5%,#00ff98 12.9%,#00ffd0 19.2%,#00ffff 25.2%,#00deff 30.1%,#00c2ff 34.7%,#00aaff 39.3%,#0096ff 43.8%,#0086ff 48.4%,#0078ff 53.3%,#006fff 57.9%,#006aff 62.5%,#0068ff 67.1%,#006bff 72.0%,#0071ff 76.6%,#007aff 81.2%,#0088ff 85.7%,#0099ff 90.3%,#00afff 95.2%,#00c8ff 99.8%)"></i>
<i style="background:linear-gradient(90deg,#00ff14 0.2%,#00ff5a 6.5%,#00ff99 12.9%,#00ffd4 19.5%,#00fff3 23.4%,#00feff 25.2%,#00deff 29.8%,#00c3ff 34.3%,#00a9ff 39.3%,#0095ff 43.8%,#0084ff 48.4%,#0077ff 53.0%,#006dff 57.9%,#0068ff 62.5%,#0067ff 67.1%,#0069ff 71.7%,#006eff 76.2%,#0079ff 81.2%,#0086ff 85.7%,#0097ff 90.3%,#00acff 94.9%,#00c6ff 99.8%)"></i>
<i style="background:linear-gradient(90deg,#00ff15 0.2%,#00ff5b 6.5%,#00ff97 12.5%,#00ffd0 18.8%,#00ffff 24.8%,#00dfff 29.4%,#00c3ff 34.0%,#00abff 38.6%,#0094ff 43.5%,#0084ff 48.1%,#0076ff 52.6%,#006dff 57.2%,#0067ff 62.1%,#0065ff 66.7%,#0067ff 71.7%,#006dff 76.2%,#0077ff 81.2%,#0084ff 85.7%,#0095ff 90.3%,#00aaff 94.9%,#00c4ff 99.8%)"></i>
<i style="background:linear-gradient(90deg,#00ff17 0.2%,#00ff5d 6.5%,#00ff9c 12.9%,#00ffd7 19.5%,#00fff9 23.8%,#00fdff 24.8%,#00deff 29.4%,#00c2ff 34.0%,#00a7ff 38.9%,#0093ff 43.5%,#0082ff 48.1%,#0074ff 53.0%,#006aff 57.9%,#0065ff 62.5%,#0063ff 67.4%,#0066ff 72.0%,#006cff 76.6%,#0075ff 81.2%,#0083ff 85.7%,#0094ff 90.3%,#00aaff 95.2%,#00c2ff 99.8%)"></i>
<i style="background:linear-gradient(90deg,#00ff18 0.2%,#00ff5e 6.5%,#00ff9a 12.5%,#00ffd3 18.8%,#00feff 24.5%,#00deff 29.0%,#00c2ff 33.6%,#00a9ff 38.2%,#0093ff 43.1%,#0080ff 48.1%,#0073ff 52.6%,#006aff 57.2%,#0064ff 62.1%,#0062ff 66.7%,#0063ff 71.3%,#0069ff 75.9%,#0073ff 80.8%,#0080ff 85.4%,#0092ff 90.3%,#00a6ff 94.9%,#00c1ff 99.8%)"></i>
<i style="background:linear-gradient(90deg,#00ff19 0.2%,#00ff5c 6.2%,#00ff98 12.1%,#00ffcf 18.1%,#00fffe 24.1%,#00ddff 29.0%,#00c0ff 33.6%,#00a6ff 38.6%,#0091ff 43.1%,#0080ff 47.7%,#0072ff 52.6%,#0067ff 57.6%,#0062ff 62.1%,#0060ff 66.7%,#0062ff 71.3%,#0067ff 75.9%,#0071ff 80.8%,#007eff 85.4%,#0090ff 90.3%,#00a5ff 94.9%,#00bfff 99.8%)"></i>
</div>
<svg width="685" height="395" viewBox="0 0 685 395">
<g class="ct"><path d="M331.83 15.00 L317.92 23.50 L304.95 31.75 L292.95 39.75 L281.91 47.50 L271.82 55.00 L262.70 62.25 L254.52 69.25 L250.69 72.75 L247.04 76.25 L243.81 79.50 L240.76 82.75 L237.88 86.00 L235.18 89.25 L232.67 92.50 L230.54 95.50 L228.42 98.75 L226.66 101.75 L225.08 104.75 L223.71 107.75 L222.54 110.75 L221.58 113.75 L220.84 116.75 L220.36 119.50 L220.07 122.25 L219.99 125.00 L220.12 127.75 L220.46 130.50 L221.02 133.25 L221.80 136.00 L222.82 138.75 L223.95 141.25 L225.43 144.00 L226.98 146.50 L228.93 149.25 L230.93 151.75 L233.15 154.25 L235.59 156.75 L238.25 159.25 L241.13 161.75 L244.25 164.25 L247.60 166.75 L251.18 169.25 L255.00 171.75 L259.05 174.25 L263.35 176.75 L272.50 181.67 L282.41 186.50 L293.60 191.50 L305.76 196.50 L318.87 201.50 L333.00 206.53"/><path d="M245.13 15.00 L219.32 27.75 L195.79 39.75 L174.54 51.00 L155.54 61.50 L146.83 66.50 L138.37 71.50 L130.57 76.25 L123.03 81.00 L116.16 85.50 L109.92 89.75 L103.95 94.00 L98.27 98.25 L93.22 102.25 L88.47 106.25 L84.31 110.00 L80.47 113.75 L76.96 117.50 L74.00 121.00 L71.38 124.50 L69.12 128.00 L67.36 131.25 L65.94 134.50 L64.90 137.75 L64.24 141.00 L64.00 144.00 L64.13 147.00 L64.65 150.00 L65.57 153.00 L66.91 156.00 L68.52 158.75 L70.70 161.75 L73.12 164.50 L76.21 167.50 L79.48 170.25 L83.17 173.00 L87.28 175.75 L91.83 178.50 L96.82 181.25 L102.24 184.00 L108.10 186.75 L114.41 189.50 L121.14 192.25 L128.31 195.00 L135.91 197.75 L143.92 200.50 L152.35 203.25 L162.00 206.25 L171.50 209.07 L192.72 215.00 L215.87 221.00 L241.60 227.25 L268.84 233.50 L299.76 240.25 L333.00 247.19"/><path d="M148.30 15.00 L95.75 35.15 L49.00 52.78"/><path d="M49.00 239.96 L105.00 246.93 L170.75 255.60 L245.50 265.88 L333.00 278.27"/><path d="M49.00 281.38 L74.50 282.62 L100.75 284.12 L127.75 285.89 L156.00 287.94 L185.50 290.28 L215.75 292.88 L247.75 295.82 L280.46 299.00"/></g>
<rect x="49.5" y="15.5" width="283.00" height="283.00" class="fri"/>
<path d="M48 14.5H334M48 299.5H334" class="froh"/>
<path d="M48.5 14V300M333.5 14V300" class="frov"/>
<line x1="42.50" y1="15.00" x2="48.00" y2="15.00" class="tkl"/>
<text x="39.80" y="18.30" text-anchor="end" class="tk" textLength="15.13" lengthAdjust="spacingAndGlyphs">100</text>
<line x1="42.50" y1="71.80" x2="48.00" y2="71.80" class="tkl"/>
<text x="39.80" y="75.10" text-anchor="end" class="tk" textLength="10.09" lengthAdjust="spacingAndGlyphs">90</text>
<line x1="42.50" y1="128.60" x2="48.00" y2="128.60" class="tkl"/>
<text x="39.80" y="131.90" text-anchor="end" class="tk" textLength="10.09" lengthAdjust="spacingAndGlyphs">80</text>
<line x1="42.50" y1="185.40" x2="48.00" y2="185.40" class="tkl"/>
<text x="39.80" y="188.70" text-anchor="end" class="tk" textLength="10.09" lengthAdjust="spacingAndGlyphs">70</text>
<line x1="42.50" y1="242.20" x2="48.00" y2="242.20" class="tkl"/>
<text x="39.80" y="245.50" text-anchor="end" class="tk" textLength="10.09" lengthAdjust="spacingAndGlyphs">60</text>
<line x1="42.50" y1="299.00" x2="48.00" y2="299.00" class="tkl"/>
<text x="39.80" y="302.30" text-anchor="end" class="tk" textLength="10.09" lengthAdjust="spacingAndGlyphs">50</text>
<line x1="49.00" y1="300.00" x2="49.00" y2="305.50" class="tkl"/>
<text x="49.30" y="317.50" text-anchor="middle" class="tk" textLength="10.09" lengthAdjust="spacingAndGlyphs">20</text>
<line x1="120.00" y1="300.00" x2="120.00" y2="305.50" class="tkl"/>
<text x="120.30" y="317.50" text-anchor="middle" class="tk" textLength="10.09" lengthAdjust="spacingAndGlyphs">30</text>
<line x1="191.00" y1="300.00" x2="191.00" y2="305.50" class="tkl"/>
<text x="191.30" y="317.50" text-anchor="middle" class="tk" textLength="10.09" lengthAdjust="spacingAndGlyphs">40</text>
<line x1="262.00" y1="300.00" x2="262.00" y2="305.50" class="tkl"/>
<text x="262.30" y="317.50" text-anchor="middle" class="tk" textLength="10.09" lengthAdjust="spacingAndGlyphs">50</text>
<line x1="333.00" y1="300.00" x2="333.00" y2="305.50" class="tkl"/>
<text x="333.30" y="317.50" text-anchor="middle" class="tk" textLength="10.09" lengthAdjust="spacingAndGlyphs">60</text>
<rect x="94.10" y="27.80" width="9.2" height="6.0" class="lbb"/>
<text x="98.70" y="32.80" text-anchor="middle" class="lb" textLength="6.20" lengthAdjust="spacingAndGlyphs">0.6</text>
<rect x="68.40" y="157.90" width="9.2" height="6.0" class="lbb"/>
<text x="73.00" y="162.90" text-anchor="middle" class="lb" textLength="6.20" lengthAdjust="spacingAndGlyphs">0.5</text>
<rect x="218.10" y="104.60" width="9.2" height="6.0" class="lbb"/>
<text x="222.70" y="109.60" text-anchor="middle" class="lb" textLength="6.20" lengthAdjust="spacingAndGlyphs">0.4</text>
<rect x="186.30" y="252.40" width="9.2" height="6.0" class="lbb"/>
<text x="190.90" y="257.40" text-anchor="middle" class="lb" textLength="6.20" lengthAdjust="spacingAndGlyphs">0.6</text>
<rect x="154.40" y="282.30" width="9.2" height="6.0" class="lbb"/>
<text x="159.00" y="287.30" text-anchor="middle" class="lb" textLength="6.20" lengthAdjust="spacingAndGlyphs">0.7</text>
<circle cx="48.9" cy="156.9" r="2.6" class="dt"/>
<circle cx="191" cy="15.4" r="2.6" class="dt"/>
<circle cx="191" cy="156.9" r="2.6" class="dt"/>
<circle cx="332.9" cy="156.9" r="2.6" class="dt"/>
<circle cx="191" cy="298.5" r="2.6" class="dt"/>
<g class="ct"><path d="M611.73 299.00 L608.25 297.96 L605.00 297.11 L601.75 296.39 L598.50 295.79 L595.25 295.33 L592.00 295.00 L588.75 294.80 L585.75 294.74 L582.50 294.81 L579.25 295.01 L576.00 295.35 L573.00 295.78 L569.75 296.39 L566.50 297.14 L563.25 298.02 L560.12 299.00"/><path d="M557.21 15.00 L560.00 15.66 L562.75 16.12 L565.50 16.39 L568.00 16.47 L570.75 16.38 L573.25 16.12 L576.00 15.65 L578.68 15.00"/><path d="M680.00 283.50 L670.50 272.17 L661.50 261.74 L653.25 252.52 L645.50 244.22 L638.25 236.82 L631.50 230.32 L625.00 224.48 L618.75 219.33 L612.75 214.87 L607.25 211.27 L604.50 209.66 L601.75 208.20 L599.00 206.88 L596.50 205.81 L594.00 204.88 L591.50 204.09 L589.00 203.44 L586.50 202.95 L584.00 202.60 L581.50 202.41 L579.00 202.39 L576.75 202.50 L574.25 202.78 L572.00 203.17 L569.50 203.76 L567.00 204.51 L564.75 205.33 L562.25 206.38 L559.75 207.59 L557.25 208.95 L552.25 212.10 L547.00 216.00 L541.50 220.66 L536.00 225.87 L530.25 231.81 L524.25 238.50 L517.75 246.24 L511.00 254.72 L503.75 264.26 L496.00 274.87 L488.00 286.20 L479.21 299.00"/><path d="M463.85 15.00 L467.82 24.25 L471.34 33.00 L474.54 41.50 L477.40 49.75 L480.00 58.00 L482.27 66.00 L484.21 73.75 L485.89 81.50 L487.28 89.25 L488.36 96.75 L489.17 104.25 L489.70 111.75 L489.95 119.25 L489.91 127.00 L489.61 134.50 L489.02 142.25 L488.15 150.00 L486.99 158.00 L485.57 166.00 L483.85 174.25 L481.82 182.75 L479.49 191.50 L476.84 200.50 L473.90 209.75 L470.57 219.50 L466.93 229.50 L462.90 240.00 L458.58 250.75 L453.86 262.00 L448.64 274.00 L443.13 286.25 L437.24 299.00"/><path d="M680.00 194.53 L675.12 182.25 L670.92 170.50 L669.04 164.75 L667.30 159.00 L665.75 153.50 L664.33 148.00 L663.10 142.75 L661.94 137.25 L660.92 131.75 L660.08 126.50 L659.38 121.25 L658.81 116.00 L658.37 110.75 L658.08 105.50 L657.91 100.25 L657.89 95.00 L657.99 89.75 L658.23 84.50 L658.60 79.25 L659.12 73.75 L659.77 68.25 L660.56 62.75 L661.46 57.25 L662.54 51.50 L663.80 45.50 L665.13 39.75 L668.32 27.50 L672.04 15.00"/><path d="M421.12 15.00 L424.01 24.00 L426.63 32.75 L428.98 41.25 L431.14 49.75 L433.10 58.25 L434.85 66.75 L436.35 75.00 L437.64 83.25 L438.73 91.50 L439.61 99.75 L440.27 108.00 L440.71 116.00 L440.96 124.25 L441.00 132.50 L440.82 140.75 L440.45 149.00 L439.87 157.25 L439.06 165.75 L438.06 174.25 L436.86 182.75 L435.43 191.50 L433.80 200.25 L431.94 209.25 L429.83 218.50 L427.47 228.00 L424.93 237.50 L422.14 247.25 L419.18 257.00 L415.90 267.25 L412.45 277.50 L408.67 288.25 L404.74 299.00"/><path d="M396.00 45.90 L398.30 57.25 L400.28 68.50 L401.97 79.75 L403.32 90.75 L404.39 102.00 L405.14 113.00 L405.59 124.00 L405.74 135.25 L405.60 146.25 L405.14 157.50 L404.40 168.75 L403.33 180.25 L401.97 191.75 L400.29 203.50 L398.33 215.25 L396.00 227.47"/></g>
<rect x="396.5" y="15.5" width="283.00" height="283.00" class="fri"/>
<path d="M395 14.5H681M395 299.5H681" class="froh"/>
<path d="M395.5 14V300M680.5 14V300" class="frov"/>
<line x1="389.50" y1="15.00" x2="395.00" y2="15.00" class="tkl"/>
<text x="386.80" y="18.30" text-anchor="end" class="tk" textLength="15.13" lengthAdjust="spacingAndGlyphs">100</text>
<line x1="389.50" y1="71.80" x2="395.00" y2="71.80" class="tkl"/>
<text x="386.80" y="75.10" text-anchor="end" class="tk" textLength="10.09" lengthAdjust="spacingAndGlyphs">90</text>
<line x1="389.50" y1="128.60" x2="395.00" y2="128.60" class="tkl"/>
<text x="386.80" y="131.90" text-anchor="end" class="tk" textLength="10.09" lengthAdjust="spacingAndGlyphs">80</text>
<line x1="389.50" y1="185.40" x2="395.00" y2="185.40" class="tkl"/>
<text x="386.80" y="188.70" text-anchor="end" class="tk" textLength="10.09" lengthAdjust="spacingAndGlyphs">70</text>
<line x1="389.50" y1="242.20" x2="395.00" y2="242.20" class="tkl"/>
<text x="386.80" y="245.50" text-anchor="end" class="tk" textLength="10.09" lengthAdjust="spacingAndGlyphs">60</text>
<line x1="389.50" y1="299.00" x2="395.00" y2="299.00" class="tkl"/>
<text x="386.80" y="302.30" text-anchor="end" class="tk" textLength="10.09" lengthAdjust="spacingAndGlyphs">50</text>
<line x1="396.00" y1="300.00" x2="396.00" y2="305.50" class="tkl"/>
<text x="396.30" y="317.50" text-anchor="middle" class="tk" textLength="10.09" lengthAdjust="spacingAndGlyphs">20</text>
<line x1="467.00" y1="300.00" x2="467.00" y2="305.50" class="tkl"/>
<text x="467.30" y="317.50" text-anchor="middle" class="tk" textLength="10.09" lengthAdjust="spacingAndGlyphs">30</text>
<line x1="538.00" y1="300.00" x2="538.00" y2="305.50" class="tkl"/>
<text x="538.30" y="317.50" text-anchor="middle" class="tk" textLength="10.09" lengthAdjust="spacingAndGlyphs">40</text>
<line x1="609.00" y1="300.00" x2="609.00" y2="305.50" class="tkl"/>
<text x="609.30" y="317.50" text-anchor="middle" class="tk" textLength="10.09" lengthAdjust="spacingAndGlyphs">50</text>
<line x1="680.00" y1="300.00" x2="680.00" y2="305.50" class="tkl"/>
<text x="680.30" y="317.50" text-anchor="middle" class="tk" textLength="10.09" lengthAdjust="spacingAndGlyphs">60</text>
<rect x="401.20" y="129.50" width="9.2" height="6.0" class="lbb"/>
<text x="405.80" y="134.50" text-anchor="middle" class="lb" textLength="6.20" lengthAdjust="spacingAndGlyphs">0.5</text>
<rect x="434.40" y="157.80" width="9.2" height="6.0" class="lbb"/>
<text x="439.00" y="162.80" text-anchor="middle" class="lb" textLength="6.20" lengthAdjust="spacingAndGlyphs">0.4</text>
<rect x="480.40" y="161.50" width="9.2" height="6.0" class="lbb"/>
<text x="485.00" y="166.50" text-anchor="middle" class="lb" textLength="6.20" lengthAdjust="spacingAndGlyphs">0.3</text>
<rect x="653.60" y="101.20" width="9.2" height="6.0" class="lbb"/>
<text x="658.20" y="106.20" text-anchor="middle" class="lb" textLength="6.20" lengthAdjust="spacingAndGlyphs">0.3</text>
<rect x="568.00" y="196.70" width="9.2" height="6.0" class="lbb"/>
<text x="572.60" y="201.70" text-anchor="middle" class="lb" textLength="6.20" lengthAdjust="spacingAndGlyphs">0.2</text>
<rect x="583.20" y="288.50" width="9.2" height="6.0" class="lbb"/>
<text x="587.80" y="293.50" text-anchor="middle" class="lb" textLength="6.20" lengthAdjust="spacingAndGlyphs">0.1</text>
<circle cx="395.9" cy="156.9" r="2.6" class="dt"/>
<circle cx="538" cy="15.4" r="2.6" class="dt"/>
<circle cx="538" cy="156.9" r="2.6" class="dt"/>
<circle cx="679.9" cy="156.9" r="2.6" class="dt"/>
<circle cx="538" cy="298.5" r="2.6" class="dt"/>
<text x="146.05" y="9.60" class="ax" style="font-size:12.4px" textLength="27.56" lengthAdjust="spacingAndGlyphs">BSFC</text>
<text x="177.46" y="9.60" class="ax" style="font-size:12.4px" textLength="57.77" lengthAdjust="spacingAndGlyphs">(kg/kW-h)</text>
<text x="493.24" y="9.60" class="ax" style="font-size:12.4px" textLength="27.88" lengthAdjust="spacingAndGlyphs">BSFC</text>
<text x="524.76" y="9.60" class="ax" style="font-size:12.4px" textLength="57.77" lengthAdjust="spacingAndGlyphs">(kg/kW-h)</text>
<text x="132.95" y="341.20" class="ax" style="font-size:14.6px" textLength="10.89" lengthAdjust="spacingAndGlyphs">B:</text>
<text x="148.37" y="341.20" class="ax" style="font-size:14.6px" textLength="38.18" lengthAdjust="spacingAndGlyphs">AOME</text>
<text x="189.32" y="341.20" class="ax" style="font-size:14.6px" textLength="33.50" lengthAdjust="spacingAndGlyphs">Blend</text>
<text x="227.30" y="341.20" class="ax" style="font-size:14.6px" textLength="20.01" lengthAdjust="spacingAndGlyphs">(%)</text>
<text x="499.25" y="341.40" class="ax" style="font-size:14.6px" textLength="10.89" lengthAdjust="spacingAndGlyphs">B:</text>
<text x="514.87" y="341.40" class="ax" style="font-size:14.6px" textLength="37.98" lengthAdjust="spacingAndGlyphs">AOME</text>
<text x="555.93" y="341.40" class="ax" style="font-size:14.6px" textLength="19.25" lengthAdjust="spacingAndGlyphs">(%)</text>
<text transform="translate(10.00 196.36) rotate(-90)" class="ax" style="font-size:14.6px" textLength="11.16" lengthAdjust="spacingAndGlyphs">C:</text>
<text transform="translate(10.00 181.66) rotate(-90)" class="ax" style="font-size:14.6px" textLength="27.31" lengthAdjust="spacingAndGlyphs">CuO</text>
<text transform="translate(10.00 152.71) rotate(-90)" class="ax" style="font-size:14.6px" textLength="38.15" lengthAdjust="spacingAndGlyphs">(ppm)</text>
<text transform="translate(357.00 196.36) rotate(-90)" class="ax" style="font-size:14.6px" textLength="11.16" lengthAdjust="spacingAndGlyphs">C:</text>
<text transform="translate(357.00 181.66) rotate(-90)" class="ax" style="font-size:14.6px" textLength="27.31" lengthAdjust="spacingAndGlyphs">CuO</text>
<text transform="translate(357.00 152.71) rotate(-90)" class="ax" style="font-size:14.6px" textLength="38.04" lengthAdjust="spacingAndGlyphs">(ppm)</text>
<text x="184" y="158.7" text-anchor="middle" class="lb" style="font-size:4.9px;fill:#222">7</text>
<text x="531.5" y="158.8" text-anchor="middle" class="lb" style="font-size:4.9px;fill:#222">6</text>
<text x="97.8" y="390.7" class="cap" style="font-size:20.0px">(a)</text>
<text x="586.0" y="390.7" class="cap" style="font-size:20.0px">(b)</text>
</svg>
</body></html>
